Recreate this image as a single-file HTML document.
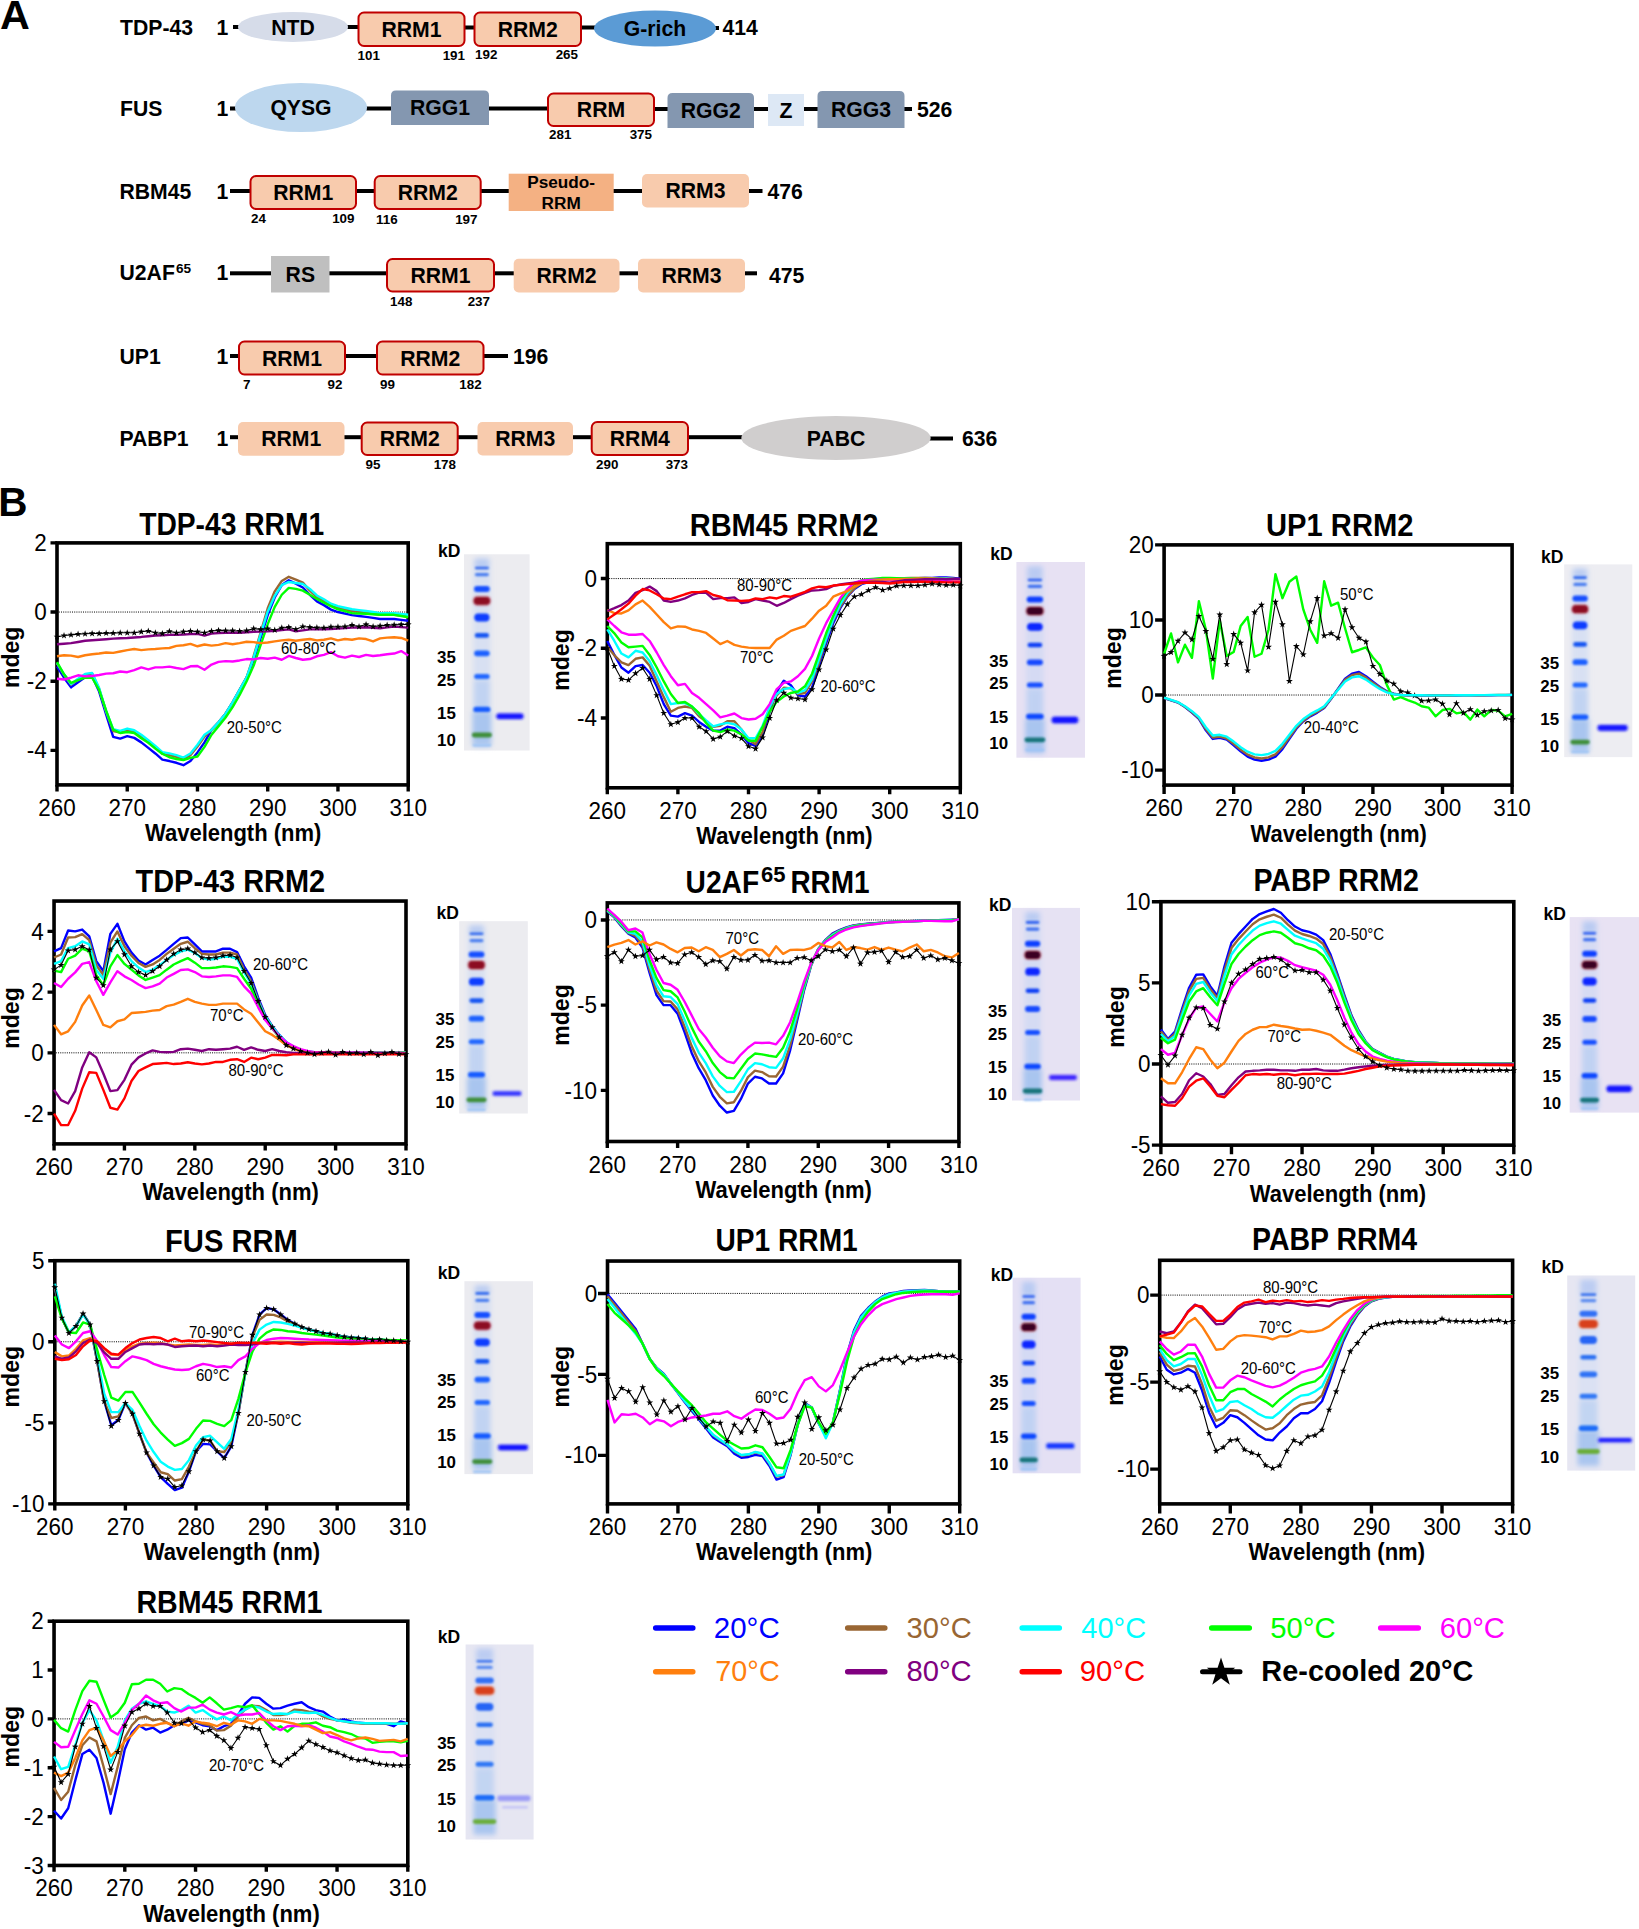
<!DOCTYPE html>
<html lang="en"><head><meta charset="utf-8"><title>Figure</title>
<style>html,body{margin:0;padding:0;background:#fff}svg{display:block}</style></head>
<body>
<svg width="1639" height="1929" viewBox="0 0 1639 1929" font-family='"Liberation Sans", sans-serif'>
<defs><filter id="b1" x="-20%" y="-20%" width="140%" height="140%"><feGaussianBlur stdDeviation="0.9"/></filter><filter id="b3" x="-30%" y="-10%" width="160%" height="120%"><feGaussianBlur stdDeviation="2.5"/></filter></defs>
<rect width="1639" height="1929" fill="#fff"/>
<text transform="translate(-0.1 29) scale(1.020 1)" font-size="40.5" font-weight="bold">A</text>
<text x="120" y="34.5" font-size="21.2" font-weight="bold">TDP-43</text>
<text x="216.5" y="34.5" font-size="21.2" font-weight="bold">1</text>
<rect x="233" y="25" width="6" height="4" fill="#000"/>
<rect x="346" y="25" width="13" height="4" fill="#000"/>
<rect x="464" y="25.5" width="11" height="4" fill="#000"/>
<rect x="580" y="25.5" width="16" height="4" fill="#000"/>
<rect x="714" y="26" width="5" height="4" fill="#000"/>
<ellipse cx="293" cy="27" rx="55" ry="15" fill="#d6dce9"/>
<text x="293" y="34.63" font-size="21.2" font-weight="bold" text-anchor="middle">NTD</text>
<rect x="358.5" y="12.5" width="106" height="33.5" rx="5.5" fill="#f8cbad" stroke="#c00000" stroke-width="2"/>
<text x="411.5" y="36.88" font-size="21.2" font-weight="bold" text-anchor="middle">RRM1</text>
<text x="357.5" y="59.5" font-size="13.4" font-weight="bold">101</text>
<text x="465" y="59.5" font-size="13.4" font-weight="bold" text-anchor="end">191</text>
<rect x="474.5" y="12.5" width="106.5" height="33.5" rx="5.5" fill="#f8cbad" stroke="#c00000" stroke-width="2"/>
<text x="527.75" y="36.88" font-size="21.2" font-weight="bold" text-anchor="middle">RRM2</text>
<text x="475" y="59" font-size="13.4" font-weight="bold">192</text>
<text x="578" y="59" font-size="13.4" font-weight="bold" text-anchor="end">265</text>
<ellipse cx="655" cy="28.5" rx="61" ry="18" fill="#5b9bd5"/>
<text x="655" y="36.13" font-size="21.2" font-weight="bold" text-anchor="middle">G-rich</text>
<text x="722.5" y="35" font-size="21.2" font-weight="bold">414</text>
<text x="120" y="115.5" font-size="21.2" font-weight="bold">FUS</text>
<text x="216.5" y="115.5" font-size="21.2" font-weight="bold">1</text>
<rect x="230" y="106.5" width="8" height="4" fill="#000"/>
<rect x="365" y="106.5" width="28" height="4" fill="#000"/>
<rect x="487" y="106.5" width="62" height="4" fill="#000"/>
<rect x="653" y="107" width="16" height="4" fill="#000"/>
<rect x="752" y="107" width="18" height="4" fill="#000"/>
<rect x="802" y="107" width="17" height="4" fill="#000"/>
<rect x="903" y="107" width="9" height="4" fill="#000"/>
<ellipse cx="301" cy="107.5" rx="66" ry="24.5" fill="#bdd7ee"/>
<text x="301" y="115.13" font-size="21.2" font-weight="bold" text-anchor="middle">QYSG</text>
<path d="M391 125V95.5Q391 90.5 396 90.5H484Q489 90.5 489 95.5V125Z" fill="#8497b0"/>
<text x="440" y="115.38" font-size="21.2" font-weight="bold" text-anchor="middle">RGG1</text>
<rect x="548" y="93.5" width="106" height="32.5" rx="5.5" fill="#f8cbad" stroke="#c00000" stroke-width="2"/>
<text x="601" y="117.38" font-size="21.2" font-weight="bold" text-anchor="middle">RRM</text>
<text x="549" y="139" font-size="13.4" font-weight="bold">281</text>
<text x="652" y="139" font-size="13.4" font-weight="bold" text-anchor="end">375</text>
<path d="M667.5 128V98Q667.5 93 672.5 93H749Q754 93 754 98V128Z" fill="#8497b0"/>
<text x="710.75" y="118.13" font-size="21.2" font-weight="bold" text-anchor="middle">RGG2</text>
<rect x="768" y="94" width="36" height="32" fill="#dde8f5"/>
<text x="786" y="117.63" font-size="21.2" font-weight="bold" text-anchor="middle">Z</text>
<path d="M817.5 128V96Q817.5 91 822.5 91H899.5Q904.5 91 904.5 96V128Z" fill="#8497b0"/>
<text x="861" y="117.13" font-size="21.2" font-weight="bold" text-anchor="middle">RGG3</text>
<text x="917" y="117" font-size="21.2" font-weight="bold">526</text>
<text x="119.5" y="198.7" font-size="21.2" font-weight="bold">RBM45</text>
<text x="216.5" y="198.7" font-size="21.2" font-weight="bold">1</text>
<rect x="230" y="189" width="21" height="4" fill="#000"/>
<rect x="355" y="189" width="20" height="4" fill="#000"/>
<rect x="480" y="189" width="30" height="4" fill="#000"/>
<rect x="612" y="189" width="32" height="4" fill="#000"/>
<rect x="749" y="189" width="13.5" height="4" fill="#000"/>
<rect x="250.5" y="176" width="105.5" height="33" rx="5.5" fill="#f8cbad" stroke="#c00000" stroke-width="2"/>
<text x="303.25" y="200.13" font-size="21.2" font-weight="bold" text-anchor="middle">RRM1</text>
<text x="251" y="222.5" font-size="13.4" font-weight="bold">24</text>
<text x="354.5" y="222.5" font-size="13.4" font-weight="bold" text-anchor="end">109</text>
<rect x="374.7" y="176" width="106" height="33" rx="5.5" fill="#f8cbad" stroke="#c00000" stroke-width="2"/>
<text x="427.7" y="200.13" font-size="21.2" font-weight="bold" text-anchor="middle">RRM2</text>
<text x="376" y="223.7" font-size="13.4" font-weight="bold">116</text>
<text x="477.5" y="223.7" font-size="13.4" font-weight="bold" text-anchor="end">197</text>
<rect x="508.7" y="173.7" width="105" height="37.3" fill="#f4b183"/>
<text x="561.2" y="187.5" font-size="17.2" font-weight="bold" text-anchor="middle">Pseudo-</text>
<text x="561.2" y="208.5" font-size="17.2" font-weight="bold" text-anchor="middle">RRM</text>
<rect x="642" y="174" width="107" height="33.5" rx="5" fill="#f8cbad"/>
<text x="695.5" y="198.38" font-size="21.2" font-weight="bold" text-anchor="middle">RRM3</text>
<text x="767.5" y="198.7" font-size="21.2" font-weight="bold">476</text>
<text x="119.5" y="280.3" font-size="21.2" font-weight="bold">U2AF</text>
<text x="176" y="272.8" font-size="13.6" font-weight="bold">65</text>
<text x="216.5" y="280.3" font-size="21.2" font-weight="bold">1</text>
<rect x="230" y="271.3" width="42" height="4" fill="#000"/>
<rect x="328" y="271.3" width="60" height="4" fill="#000"/>
<rect x="493" y="271.3" width="22" height="4" fill="#000"/>
<rect x="618" y="271.3" width="22" height="4" fill="#000"/>
<rect x="745" y="271.3" width="12" height="4" fill="#000"/>
<rect x="271" y="256" width="58.5" height="36.5" fill="#bfbfbf"/>
<text x="300.3" y="281.93" font-size="21.2" font-weight="bold" text-anchor="middle">RS</text>
<rect x="387" y="259" width="107" height="32.5" rx="5.5" fill="#f8cbad" stroke="#c00000" stroke-width="2"/>
<text x="440.5" y="282.88" font-size="21.2" font-weight="bold" text-anchor="middle">RRM1</text>
<text x="390" y="306" font-size="13.4" font-weight="bold">148</text>
<text x="490" y="306" font-size="13.4" font-weight="bold" text-anchor="end">237</text>
<rect x="513.7" y="258.7" width="105.8" height="33.8" rx="5" fill="#f8cbad"/>
<text x="566.6" y="283.23" font-size="21.2" font-weight="bold" text-anchor="middle">RRM2</text>
<rect x="638" y="258.7" width="107" height="33.8" rx="5" fill="#f8cbad"/>
<text x="691.5" y="283.23" font-size="21.2" font-weight="bold" text-anchor="middle">RRM3</text>
<text x="769" y="282.5" font-size="21.2" font-weight="bold">475</text>
<text x="119.5" y="363.7" font-size="21.2" font-weight="bold">UP1</text>
<text x="216.5" y="363.7" font-size="21.2" font-weight="bold">1</text>
<rect x="230" y="354" width="10" height="4" fill="#000"/>
<rect x="344" y="354" width="34" height="4" fill="#000"/>
<rect x="482" y="354" width="26" height="4" fill="#000"/>
<rect x="239" y="341.5" width="106" height="33" rx="5.5" fill="#f8cbad" stroke="#c00000" stroke-width="2"/>
<text x="292" y="365.63" font-size="21.2" font-weight="bold" text-anchor="middle">RRM1</text>
<text x="243" y="388.7" font-size="13.4" font-weight="bold">7</text>
<text x="342.5" y="388.7" font-size="13.4" font-weight="bold" text-anchor="end">92</text>
<rect x="377" y="341.5" width="106.5" height="33" rx="5.5" fill="#f8cbad" stroke="#c00000" stroke-width="2"/>
<text x="430.25" y="365.63" font-size="21.2" font-weight="bold" text-anchor="middle">RRM2</text>
<text x="380" y="388.7" font-size="13.4" font-weight="bold">99</text>
<text x="481.7" y="388.7" font-size="13.4" font-weight="bold" text-anchor="end">182</text>
<text x="513" y="363.7" font-size="21.2" font-weight="bold">196</text>
<text x="119.5" y="445.5" font-size="21.2" font-weight="bold">PABP1</text>
<text x="216.5" y="445.5" font-size="21.2" font-weight="bold">1</text>
<rect x="230" y="435.2" width="9" height="4" fill="#000"/>
<rect x="344" y="435.2" width="18" height="4" fill="#000"/>
<rect x="457" y="435.2" width="21" height="4" fill="#000"/>
<rect x="572" y="435.2" width="20" height="4" fill="#000"/>
<rect x="687" y="435.2" width="56" height="4" fill="#000"/>
<rect x="929" y="436.5" width="24" height="4" fill="#000"/>
<rect x="238" y="422" width="106.5" height="33.7" rx="5" fill="#f8cbad"/>
<text x="291.25" y="446.48" font-size="21.2" font-weight="bold" text-anchor="middle">RRM1</text>
<rect x="361.7" y="422.5" width="96" height="32.5" rx="5.5" fill="#f8cbad" stroke="#c00000" stroke-width="2"/>
<text x="409.7" y="446.38" font-size="21.2" font-weight="bold" text-anchor="middle">RRM2</text>
<text x="365.5" y="468.7" font-size="13.4" font-weight="bold">95</text>
<text x="456" y="468.7" font-size="13.4" font-weight="bold" text-anchor="end">178</text>
<rect x="477.5" y="422" width="95.5" height="33.5" rx="5" fill="#f8cbad"/>
<text x="525.25" y="446.38" font-size="21.2" font-weight="bold" text-anchor="middle">RRM3</text>
<rect x="591.7" y="422" width="96.3" height="33" rx="5.5" fill="#f8cbad" stroke="#c00000" stroke-width="2"/>
<text x="639.85" y="446.13" font-size="21.2" font-weight="bold" text-anchor="middle">RRM4</text>
<text x="596" y="468.7" font-size="13.4" font-weight="bold">290</text>
<text x="688" y="468.7" font-size="13.4" font-weight="bold" text-anchor="end">373</text>
<ellipse cx="836" cy="438" rx="94.7" ry="22" fill="#d0cece"/>
<text x="836" y="445.63" font-size="21.2" font-weight="bold" text-anchor="middle">PABC</text>
<text x="962" y="445.5" font-size="21.2" font-weight="bold">636</text>
<text transform="translate(-1.8 516.3) scale(1.000 1)" font-size="40.5" font-weight="bold">B</text>
<rect x="57" y="542.9" width="351.2" height="242" fill="none" stroke="#000" stroke-width="3.6"/>
<path d="M57 784.9V791.4M127.24 784.9V791.4M197.48 784.9V791.4M267.72 784.9V791.4M337.96 784.9V791.4M408.2 784.9V791.4M57 542.9H50.5M57 612.04H50.5M57 681.19H50.5M57 750.33H50.5" stroke="#000" stroke-width="3.4" fill="none"/>
<line x1="58.8" y1="612.04" x2="408.2" y2="612.04" stroke="#000" stroke-width="1" stroke-dasharray="1 1.2"/>
<g fill="none" stroke-linejoin="round" stroke-linecap="butt">
<polyline points="57,666.32 64.02,677.73 71.05,687.41 78.07,682.22 85.1,677.38 92.12,676.35 99.14,691.56 106.17,714.72 113.19,736.85 120.22,738.57 127.24,736.15 134.26,737.88 141.29,742.38 148.31,747.91 155.34,753.44 162.36,759.66 169.38,761.05 176.41,762.77 183.43,765.19 190.46,761.05 197.48,752.4 204.5,742.38 211.53,729.93 218.55,722.33 225.58,713.68 232.6,702.27 239.62,689.83 246.65,677.38 253.67,660.1 260.7,637.63 267.72,615.15 274.74,597.52 281.77,585.08 288.79,580.24 295.82,583.69 302.84,587.5 309.86,594.76 316.89,601.33 323.91,605.13 330.94,609.62 337.96,612.04 344.98,613.6 352.01,615.15 359.03,616.02 366.06,616.88 373.08,617.92 380.1,618.96 387.13,618.96 394.15,618.96 401.18,619.82 408.2,620.69" stroke="#0000ff" stroke-width="2.4"/>
<polyline points="57,663.55 64.02,674.96 71.05,684.64 78.07,679.46 85.1,674.62 92.12,673.58 99.14,688.79 106.17,711.95 113.19,730.97 120.22,732.7 127.24,730.28 134.26,732.01 141.29,736.5 148.31,742.03 155.34,747.56 162.36,753.79 169.38,755.17 176.41,756.9 183.43,759.32 190.46,755.17 197.48,746.53 204.5,736.5 211.53,729.93 218.55,722.33 225.58,713.68 232.6,702.27 239.62,689.83 246.65,677.38 253.67,655.95 260.7,632.44 267.72,608.24 274.74,591.3 281.77,580.93 288.79,576.78 295.82,579.55 302.84,582.66 309.86,590.61 316.89,597.18 323.91,600.98 330.94,605.47 337.96,607.89 344.98,609.45 352.01,611.01 359.03,611.87 366.06,612.73 373.08,613.77 380.1,614.81 387.13,614.81 394.15,614.81 401.18,615.67 408.2,616.54" stroke="#996633" stroke-width="2.4"/>
<polyline points="57,662.86 64.02,674.27 71.05,683.95 78.07,678.77 85.1,673.93 92.12,672.89 99.14,688.1 106.17,711.26 113.19,729.24 120.22,730.97 127.24,728.55 134.26,730.28 141.29,734.77 148.31,740.3 155.34,745.83 162.36,752.06 169.38,753.44 176.41,755.17 183.43,757.59 190.46,753.44 197.48,744.8 204.5,734.77 211.53,729.93 218.55,722.33 225.58,713.68 232.6,702.27 239.62,689.83 246.65,677.38 253.67,657.33 260.7,634.17 267.72,611.7 274.74,595.79 281.77,585.08 288.79,581.97 295.82,583 302.84,584.04 309.86,588.88 316.89,595.45 323.91,599.25 330.94,603.75 337.96,606.17 344.98,607.72 352.01,609.28 359.03,610.14 366.06,611.01 373.08,612.04 380.1,613.08 387.13,613.08 394.15,613.08 401.18,613.94 408.2,614.81" stroke="#00ffff" stroke-width="2.4"/>
<polyline points="57,662.17 64.02,674.27 71.05,682.91 78.07,680.15 85.1,677.73 92.12,677.73 99.14,689.83 106.17,710.57 113.19,729.59 120.22,733.04 127.24,732.01 134.26,733.04 141.29,738.23 148.31,742.72 155.34,748.6 162.36,753.79 169.38,757.24 176.41,758.97 183.43,760.01 190.46,757.93 197.48,756.55 204.5,746.87 211.53,734.77 218.55,726.13 225.58,717.49 232.6,707.11 239.62,695.01 246.65,681.19 253.67,665.63 260.7,644.89 267.72,624.14 274.74,606.86 281.77,594.76 288.79,587.84 295.82,588.88 302.84,590.61 309.86,594.76 316.89,598.91 323.91,602.71 330.94,606.17 337.96,609.28 344.98,611.18 352.01,613.08 359.03,613.43 366.06,613.77 373.08,614.29 380.1,614.81 387.13,614.81 394.15,614.81 401.18,616.02 408.2,617.23" stroke="#00ff00" stroke-width="2.4"/>
<polyline points="57,678.77 64.02,679.46 71.05,677.73 78.07,675.31 85.1,676.35 92.12,676 99.14,674.96 106.17,673.58 113.19,673.23 120.22,671.51 127.24,672.2 134.26,670.12 141.29,667.36 148.31,669.43 155.34,667.36 162.36,667.36 169.38,666.67 176.41,668.05 183.43,669.09 190.46,666.32 197.48,665.97 204.5,669.78 211.53,664.59 218.55,661.83 225.58,661.13 232.6,661.48 239.62,660.44 246.65,659.06 253.67,659.41 260.7,658.02 267.72,658.71 274.74,657.68 281.77,659.75 288.79,655.95 295.82,658.02 302.84,659.75 309.86,659.06 316.89,656.29 323.91,654.91 330.94,652.15 337.96,656.29 344.98,657.68 352.01,655.6 359.03,656.99 366.06,654.91 373.08,655.95 380.1,655.26 387.13,654.22 394.15,653.53 401.18,651.11 408.2,655.6" stroke="#ff00ff" stroke-width="2.4"/>
<polyline points="57,656.29 64.02,655.26 71.05,655.6 78.07,656.99 85.1,655.26 92.12,654.22 99.14,653.53 106.17,652.49 113.19,652.84 120.22,651.45 127.24,650.07 134.26,649.03 141.29,650.07 148.31,649.38 155.34,649.03 162.36,648.34 169.38,648 176.41,645.92 183.43,645.23 190.46,643.85 197.48,646.27 204.5,644.54 211.53,645.58 218.55,644.89 225.58,643.16 232.6,644.19 239.62,643.16 246.65,641.77 253.67,642.12 260.7,643.16 267.72,642.47 274.74,641.43 281.77,640.39 288.79,639.7 295.82,640.74 302.84,639.7 309.86,639.01 316.89,640.39 323.91,639.7 330.94,638.32 337.96,640.39 344.98,639.01 352.01,639.7 359.03,638.32 366.06,639.01 373.08,641.43 380.1,638.32 387.13,637.63 394.15,637.28 401.18,637.97 408.2,640.74" stroke="#ff7f0e" stroke-width="2.4"/>
<polyline points="57,644.19 64.02,643.68 71.05,643.16 78.07,641.95 85.1,640.74 92.12,640.22 99.14,639.7 106.17,639.18 113.19,638.66 120.22,638.32 127.24,637.97 134.26,637.45 141.29,636.93 148.31,636.24 155.34,635.55 162.36,635.21 169.38,634.86 176.41,634.69 183.43,634.51 190.46,634.17 197.48,633.82 204.5,635.55 211.53,633.48 218.55,633.13 225.58,632.79 232.6,632.79 239.62,632.79 246.65,632.27 253.67,631.75 260.7,631.58 267.72,631.4 274.74,630.71 281.77,630.02 288.79,629.33 295.82,631.4 302.84,630.37 309.86,629.33 316.89,629.33 323.91,629.33 330.94,628.98 337.96,628.64 344.98,628.12 352.01,627.6 359.03,627.43 366.06,627.25 373.08,627.77 380.1,628.29 387.13,627.43 394.15,626.56 401.18,627.08 408.2,627.6" stroke="#800080" stroke-width="2.4"/>
<polyline points="57,636.93 64.02,635.55 71.05,634.86 78.07,634.17 85.1,633.82 92.12,633.48 99.14,633.48 106.17,633.13 113.19,633.13 120.22,632.79 127.24,632.79 134.26,632.79 141.29,631.75 148.31,631.06 155.34,632.79 162.36,633.48 169.38,631.4 176.41,632.79 183.43,631.75 190.46,631.06 197.48,631.75 204.5,632.79 211.53,631.06 218.55,630.37 225.58,630.71 232.6,630.71 239.62,631.06 246.65,630.71 253.67,628.64 260.7,629.33 267.72,628.64 274.74,630.02 281.77,627.95 288.79,627.25 295.82,629.33 302.84,626.56 309.86,627.25 316.89,627.6 323.91,627.95 330.94,626.91 337.96,626.91 344.98,626.56 352.01,625.18 359.03,626.56 366.06,624.49 373.08,626.56 380.1,625.87 387.13,625.18 394.15,624.83 401.18,624.49 408.2,624.49" stroke="#000" stroke-width="1.1"/>
<path d="M57 633.33L57.82 635.8L60.42 635.82L58.33 637.37L59.12 639.85L57 638.33L54.88 639.85L55.67 637.37L53.58 635.82L56.18 635.8ZM64.02 631.95L64.85 634.42L67.45 634.44L65.36 635.98L66.14 638.46L64.02 636.95L61.91 638.46L62.69 635.98L60.6 634.44L63.2 634.42ZM71.05 631.26L71.87 633.73L74.47 633.75L72.38 635.29L73.16 637.77L71.05 636.26L68.93 637.77L69.72 635.29L67.62 633.75L70.23 633.73ZM78.07 630.57L78.89 633.04L81.5 633.06L79.4 634.6L80.19 637.08L78.07 635.57L75.96 637.08L76.74 634.6L74.65 633.06L77.25 633.04ZM85.1 630.22L85.92 632.69L88.52 632.71L86.43 634.26L87.21 636.74L85.1 635.22L82.98 636.74L83.76 634.26L81.67 632.71L84.27 632.69ZM92.12 629.88L92.94 632.34L95.54 632.36L93.45 633.91L94.24 636.39L92.12 634.88L90 636.39L90.79 633.91L88.7 632.36L91.3 632.34ZM99.14 629.88L99.97 632.34L102.57 632.36L100.48 633.91L101.26 636.39L99.14 634.88L97.03 636.39L97.81 633.91L95.72 632.36L98.32 632.34ZM106.17 629.53L106.99 632L109.59 632.02L107.5 633.56L108.28 636.04L106.17 634.53L104.05 636.04L104.84 633.56L102.74 632.02L105.35 632ZM113.19 629.53L114.01 632L116.62 632.02L114.52 633.56L115.31 636.04L113.19 634.53L111.08 636.04L111.86 633.56L109.77 632.02L112.37 632ZM120.22 629.19L121.04 631.65L123.64 631.67L121.55 633.22L122.33 635.7L120.22 634.19L118.1 635.7L118.88 633.22L116.79 631.67L119.39 631.65ZM127.24 629.19L128.06 631.65L130.66 631.67L128.57 633.22L129.36 635.7L127.24 634.19L125.12 635.7L125.91 633.22L123.82 631.67L126.42 631.65ZM134.26 629.19L135.09 631.65L137.69 631.67L135.6 633.22L136.38 635.7L134.26 634.19L132.15 635.7L132.93 633.22L130.84 631.67L133.44 631.65ZM141.29 628.15L142.11 630.62L144.71 630.64L142.62 632.18L143.4 634.66L141.29 633.15L139.17 634.66L139.96 632.18L137.86 630.64L140.47 630.62ZM148.31 627.46L149.13 629.92L151.74 629.94L149.64 631.49L150.43 633.97L148.31 632.46L146.2 633.97L146.98 631.49L144.89 629.94L147.49 629.92ZM155.34 629.19L156.16 631.65L158.76 631.67L156.67 633.22L157.45 635.7L155.34 634.19L153.22 635.7L154 633.22L151.91 631.67L154.51 631.65ZM162.36 629.88L163.18 632.34L165.78 632.36L163.69 633.91L164.48 636.39L162.36 634.88L160.24 636.39L161.03 633.91L158.94 632.36L161.54 632.34ZM169.38 627.8L170.21 630.27L172.81 630.29L170.72 631.84L171.5 634.32L169.38 632.8L167.27 634.32L168.05 631.84L165.96 630.29L168.56 630.27ZM176.41 629.19L177.23 631.65L179.83 631.67L177.74 633.22L178.52 635.7L176.41 634.19L174.29 635.7L175.08 633.22L172.98 631.67L175.59 631.65ZM183.43 628.15L184.25 630.62L186.86 630.64L184.76 632.18L185.55 634.66L183.43 633.15L181.32 634.66L182.1 632.18L180.01 630.64L182.61 630.62ZM190.46 627.46L191.28 629.92L193.88 629.94L191.79 631.49L192.57 633.97L190.46 632.46L188.34 633.97L189.12 631.49L187.03 629.94L189.63 629.92ZM197.48 628.15L198.3 630.62L200.9 630.64L198.81 632.18L199.6 634.66L197.48 633.15L195.36 634.66L196.15 632.18L194.06 630.64L196.66 630.62ZM204.5 629.19L205.33 631.65L207.93 631.67L205.84 633.22L206.62 635.7L204.5 634.19L202.39 635.7L203.17 633.22L201.08 631.67L203.68 631.65ZM211.53 627.46L212.35 629.92L214.95 629.94L212.86 631.49L213.64 633.97L211.53 632.46L209.41 633.97L210.2 631.49L208.1 629.94L210.71 629.92ZM218.55 626.77L219.37 629.23L221.98 629.25L219.88 630.8L220.67 633.28L218.55 631.77L216.44 633.28L217.22 630.8L215.13 629.25L217.73 629.23ZM225.58 627.11L226.4 629.58L229 629.6L226.91 631.14L227.69 633.62L225.58 632.11L223.46 633.62L224.24 631.14L222.15 629.6L224.75 629.58ZM232.6 627.11L233.42 629.58L236.02 629.6L233.93 631.14L234.72 633.62L232.6 632.11L230.48 633.62L231.27 631.14L229.18 629.6L231.78 629.58ZM239.62 627.46L240.45 629.92L243.05 629.94L240.96 631.49L241.74 633.97L239.62 632.46L237.51 633.97L238.29 631.49L236.2 629.94L238.8 629.92ZM246.65 627.11L247.47 629.58L250.07 629.6L247.98 631.14L248.76 633.62L246.65 632.11L244.53 633.62L245.32 631.14L243.22 629.6L245.83 629.58ZM253.67 625.04L254.49 627.5L257.1 627.52L255 629.07L255.79 631.55L253.67 630.04L251.56 631.55L252.34 629.07L250.25 627.52L252.85 627.5ZM260.7 625.73L261.52 628.2L264.12 628.22L262.03 629.76L262.81 632.24L260.7 630.73L258.58 632.24L259.36 629.76L257.27 628.22L259.87 628.2ZM267.72 625.04L268.54 627.5L271.14 627.52L269.05 629.07L269.84 631.55L267.72 630.04L265.6 631.55L266.39 629.07L264.3 627.52L266.9 627.5ZM274.74 626.42L275.57 628.89L278.17 628.91L276.08 630.45L276.86 632.93L274.74 631.42L272.63 632.93L273.41 630.45L271.32 628.91L273.92 628.89ZM281.77 624.35L282.59 626.81L285.19 626.83L283.1 628.38L283.88 630.86L281.77 629.35L279.65 630.86L280.44 628.38L278.34 626.83L280.95 626.81ZM288.79 623.65L289.61 626.12L292.22 626.14L290.12 627.69L290.91 630.17L288.79 628.65L286.68 630.17L287.46 627.69L285.37 626.14L287.97 626.12ZM295.82 625.73L296.64 628.2L299.24 628.22L297.15 629.76L297.93 632.24L295.82 630.73L293.7 632.24L294.48 629.76L292.39 628.22L294.99 628.2ZM302.84 622.96L303.66 625.43L306.26 625.45L304.17 627L304.96 629.48L302.84 627.96L300.72 629.48L301.51 627L299.42 625.45L302.02 625.43ZM309.86 623.65L310.69 626.12L313.29 626.14L311.2 627.69L311.98 630.17L309.86 628.65L307.75 630.17L308.53 627.69L306.44 626.14L309.04 626.12ZM316.89 624L317.71 626.47L320.31 626.49L318.22 628.03L319 630.51L316.89 629L314.77 630.51L315.56 628.03L313.46 626.49L316.07 626.47ZM323.91 624.35L324.73 626.81L327.34 626.83L325.24 628.38L326.03 630.86L323.91 629.35L321.8 630.86L322.58 628.38L320.49 626.83L323.09 626.81ZM330.94 623.31L331.76 625.78L334.36 625.8L332.27 627.34L333.05 629.82L330.94 628.31L328.82 629.82L329.6 627.34L327.51 625.8L330.11 625.78ZM337.96 623.31L338.78 625.78L341.38 625.8L339.29 627.34L340.08 629.82L337.96 628.31L335.84 629.82L336.63 627.34L334.54 625.8L337.14 625.78ZM344.98 622.96L345.81 625.43L348.41 625.45L346.32 627L347.1 629.48L344.98 627.96L342.87 629.48L343.65 627L341.56 625.45L344.16 625.43ZM352.01 621.58L352.83 624.05L355.43 624.07L353.34 625.61L354.12 628.09L352.01 626.58L349.89 628.09L350.68 625.61L348.58 624.07L351.19 624.05ZM359.03 622.96L359.85 625.43L362.46 625.45L360.36 627L361.15 629.48L359.03 627.96L356.92 629.48L357.7 627L355.61 625.45L358.21 625.43ZM366.06 620.89L366.88 623.36L369.48 623.38L367.39 624.92L368.17 627.4L366.06 625.89L363.94 627.4L364.72 624.92L362.63 623.38L365.23 623.36ZM373.08 622.96L373.9 625.43L376.5 625.45L374.41 627L375.2 629.48L373.08 627.96L370.96 629.48L371.75 627L369.66 625.45L372.26 625.43ZM380.1 622.27L380.93 624.74L383.53 624.76L381.44 626.3L382.22 628.78L380.1 627.27L377.99 628.78L378.77 626.3L376.68 624.76L379.28 624.74ZM387.13 621.58L387.95 624.05L390.55 624.07L388.46 625.61L389.24 628.09L387.13 626.58L385.01 628.09L385.8 625.61L383.7 624.07L386.31 624.05ZM394.15 621.23L394.97 623.7L397.58 623.72L395.48 625.27L396.27 627.75L394.15 626.23L392.04 627.75L392.82 625.27L390.73 623.72L393.33 623.7ZM401.18 620.89L402 623.36L404.6 623.38L402.51 624.92L403.29 627.4L401.18 625.89L399.06 627.4L399.84 624.92L397.75 623.38L400.35 623.36ZM408.2 620.89L409.02 623.36L411.62 623.38L409.53 624.92L410.32 627.4L408.2 625.89L406.08 627.4L406.87 624.92L404.78 623.38L407.38 623.36Z" fill="#000" stroke="none"/>
</g>
<text transform="translate(57 815.9) scale(0.977 1)" font-size="23" text-anchor="middle">260</text>
<text transform="translate(127.24 815.9) scale(0.977 1)" font-size="23" text-anchor="middle">270</text>
<text transform="translate(197.48 815.9) scale(0.977 1)" font-size="23" text-anchor="middle">280</text>
<text transform="translate(267.72 815.9) scale(0.977 1)" font-size="23" text-anchor="middle">290</text>
<text transform="translate(337.96 815.9) scale(0.977 1)" font-size="23" text-anchor="middle">300</text>
<text transform="translate(408.2 815.9) scale(0.977 1)" font-size="23" text-anchor="middle">310</text>
<text transform="translate(46.7 551.05) scale(0.977 1)" font-size="23" text-anchor="end">2</text>
<text transform="translate(46.7 620.19) scale(0.977 1)" font-size="23" text-anchor="end">0</text>
<text transform="translate(46.7 689.34) scale(0.977 1)" font-size="23" text-anchor="end">-2</text>
<text transform="translate(46.7 758.48) scale(0.977 1)" font-size="23" text-anchor="end">-4</text>
<text transform="translate(233.2 841.4) scale(0.929 1)" font-size="23.7" font-weight="bold" text-anchor="middle">Wavelength (nm)</text>
<text transform="translate(19.1 657.4) rotate(-90) scale(0.98 1)" font-size="23.5" font-weight="bold" text-anchor="middle">mdeg</text>
<text transform="translate(139.18 535.1) scale(0.9102 1)" font-size="31" font-weight="bold">TDP-43 RRM1</text>
<text transform="translate(281 653.7) scale(0.955 1)" font-size="15.7">60-80°C</text>
<text transform="translate(226.7 732.5) scale(0.955 1)" font-size="15.7">20-50°C</text>
<rect x="607.3" y="543.7" width="353" height="244.1" fill="none" stroke="#000" stroke-width="3.6"/>
<path d="M607.3 787.8V794.3M677.9 787.8V794.3M748.5 787.8V794.3M819.1 787.8V794.3M889.7 787.8V794.3M960.3 787.8V794.3M607.3 578.57H600.8M607.3 648.31H600.8M607.3 718.06H600.8" stroke="#000" stroke-width="3.4" fill="none"/>
<line x1="609.1" y1="578.57" x2="960.3" y2="578.57" stroke="#000" stroke-width="1" stroke-dasharray="1 1.2"/>
<g fill="none" stroke-linejoin="round" stroke-linecap="butt">
<polyline points="607.3,640.99 614.36,654.94 621.42,667.49 628.48,672.72 635.54,666.1 642.6,665.05 649.66,672.72 656.72,686.32 663.78,704.11 670.84,715.62 677.9,716.66 684.96,713.18 692.02,715.62 699.08,721.89 706.14,726.77 713.2,730.61 720.26,730.61 727.32,726.77 734.38,728.17 741.44,734.45 748.5,743.16 755.56,745.95 762.62,735.49 769.68,711.78 776.74,691.55 783.8,680.74 790.86,685.28 797.92,695.39 804.98,696.44 812.04,687.72 819.1,666.1 826.16,643.43 833.22,623.21 840.28,608.21 847.34,596.7 854.4,589.03 861.46,584.15 868.52,582.06 875.58,580.32 882.64,579.27 889.7,578.92 896.76,578.57 903.82,578.57 910.88,578.22 917.94,578.22 925,577.87 932.06,577.87 939.12,577.53 946.18,577.53 953.24,577.87 960.3,578.57" stroke="#0000ff" stroke-width="2.4"/>
<polyline points="607.3,646.57 614.36,655.29 621.42,662.26 628.48,665.05 635.54,658.78 642.6,657.38 649.66,665.75 656.72,681.44 663.78,697.13 670.84,711.78 677.9,707.94 684.96,706.55 692.02,707.94 699.08,716.31 706.14,721.54 713.2,726.77 720.26,725.73 727.32,721.2 734.38,721.2 741.44,729.56 748.5,739.68 755.56,744.21 762.62,732.01 769.68,707.6 776.74,695.39 783.8,687.72 790.86,688.42 797.92,694 804.98,692.95 812.04,681.44 819.1,662.26 826.16,639.6 833.22,620.42 840.28,606.47 847.34,596.01 854.4,588.34 861.46,582.76 868.52,581.01 875.58,579.62 882.64,578.92 889.7,578.57 896.76,578.57 903.82,578.22 910.88,577.87 917.94,577.87 925,577.87 932.06,578.22 939.12,578.22 946.18,578.57 953.24,578.57 960.3,579.27" stroke="#996633" stroke-width="2.4"/>
<polyline points="607.3,629.48 614.36,640.99 621.42,653.54 628.48,657.38 635.54,650.76 642.6,652.5 649.66,661.22 656.72,675.17 663.78,690.16 670.84,704.11 677.9,703.06 684.96,703.06 692.02,706.55 699.08,714.22 706.14,720.5 713.2,726.43 720.26,724.33 727.32,722.94 734.38,724.33 741.44,729.56 748.5,738.28 755.56,738.28 762.62,725.73 769.68,706.55 776.74,694 783.8,689.11 790.86,687.72 797.92,692.95 804.98,690.16 812.04,679 819.1,658.78 826.16,638.55 833.22,619.37 840.28,604.38 847.34,592.87 854.4,585.55 861.46,581.71 868.52,579.97 875.58,578.92 882.64,578.57 889.7,578.57 896.76,578.57 903.82,578.57 910.88,578.57 917.94,578.57 925,578.57 932.06,578.57 939.12,578.57 946.18,578.57 953.24,578.92 960.3,579.62" stroke="#00ffff" stroke-width="2.4"/>
<polyline points="607.3,626 614.36,633.32 621.42,642.39 628.48,647.27 635.54,646.57 642.6,645.87 649.66,654.94 656.72,667.49 663.78,681.44 670.84,694 677.9,703.06 684.96,702.02 692.02,706.55 699.08,713.18 706.14,722.94 713.2,730.61 720.26,732.01 727.32,729.56 734.38,730.61 741.44,734.45 748.5,740.72 755.56,740.72 762.62,726.77 769.68,711.78 776.74,701.67 783.8,696.44 790.86,692.95 797.92,691.55 804.98,686.32 812.04,673.77 819.1,653.54 826.16,633.32 833.22,615.88 840.28,600.54 847.34,590.43 854.4,584.15 861.46,580.32 868.52,579.27 875.58,578.57 882.64,577.87 889.7,577.87 896.76,578.22 903.82,578.57 910.88,578.57 917.94,578.57 925,578.57 932.06,578.92 939.12,578.92 946.18,579.27 953.24,579.27 960.3,579.62" stroke="#00ff00" stroke-width="2.4"/>
<polyline points="607.3,619.37 614.36,626 621.42,632.27 628.48,634.71 635.54,634.71 642.6,634.02 649.66,640.99 656.72,652.5 663.78,665.05 670.84,676.21 677.9,685.28 684.96,683.88 692.02,692.95 699.08,697.83 706.14,704.11 713.2,710.39 720.26,717.36 727.32,715.62 734.38,713.52 741.44,718.06 748.5,719.45 755.56,718.75 762.62,714.22 769.68,704.11 776.74,689.11 783.8,682.84 790.86,681.44 797.92,676.21 804.98,668.89 812.04,655.99 819.1,638.55 826.16,623.21 833.22,610.65 840.28,598.1 847.34,589.03 854.4,582.76 861.46,580.66 868.52,579.97 875.58,579.62 882.64,579.62 889.7,579.97 896.76,579.97 903.82,579.97 910.88,580.32 917.94,580.32 925,580.66 932.06,580.66 939.12,580.66 946.18,581.01 953.24,581.01 960.3,581.36" stroke="#ff00ff" stroke-width="2.4"/>
<polyline points="607.3,609.96 614.36,613.09 621.42,613.44 628.48,610.3 635.54,604.38 642.6,600.54 649.66,606.82 656.72,614.49 663.78,622.16 670.84,628.44 677.9,626.35 684.96,626.69 692.02,629.48 699.08,630.88 706.14,632.97 713.2,638.55 720.26,644.13 727.32,640.99 734.38,644.83 741.44,646.57 748.5,647.62 755.56,647.97 762.62,647.97 769.68,647.97 776.74,639.6 783.8,635.76 790.86,630.88 797.92,628.44 804.98,626 812.04,618.67 819.1,610.65 826.16,605.77 833.22,596.7 840.28,593.57 847.34,591.13 854.4,586.59 861.46,583.45 868.52,581.71 875.58,580.32 882.64,579.62 889.7,579.27 896.76,579.27 903.82,578.92 910.88,578.92 917.94,578.57 925,578.57 932.06,578.57 939.12,578.92 946.18,578.92 953.24,579.27 960.3,579.27" stroke="#ff7f0e" stroke-width="2.4"/>
<polyline points="607.3,611 614.36,608.21 621.42,605.07 628.48,600.54 635.54,592.87 642.6,590.08 649.66,586.59 656.72,591.13 663.78,600.54 670.84,601.94 677.9,600.54 684.96,598.45 692.02,594.96 699.08,592.52 706.14,592.87 713.2,599.15 720.26,598.1 727.32,598.1 734.38,597.4 741.44,602.98 748.5,601.94 755.56,599.15 762.62,600.54 769.68,601.94 776.74,605.77 783.8,602.98 790.86,599.15 797.92,595.66 804.98,592.87 812.04,590.43 819.1,590.08 826.16,589.03 833.22,585.89 840.28,584.5 847.34,583.45 854.4,582.76 861.46,582.41 868.52,582.06 875.58,581.71 882.64,582.06 889.7,582.76 896.76,581.36 903.82,580.32 910.88,579.97 917.94,579.62 925,579.27 932.06,579.27 939.12,578.92 946.18,579.27 953.24,578.92 960.3,578.92" stroke="#800080" stroke-width="2.4"/>
<polyline points="607.3,619.37 614.36,614.49 621.42,609.26 628.48,603.68 635.54,595.66 642.6,589.03 649.66,590.43 656.72,594.26 663.78,598.45 670.84,599.15 677.9,596.7 684.96,594.26 692.02,592.17 699.08,592.17 706.14,591.13 713.2,594.96 720.26,596.7 727.32,600.19 734.38,600.54 741.44,600.89 748.5,600.54 755.56,598.45 762.62,599.15 769.68,597.4 776.74,598.45 783.8,596.01 790.86,596.7 797.92,594.26 804.98,591.82 812.04,588.34 819.1,586.59 826.16,587.29 833.22,585.55 840.28,584.85 847.34,584.15 854.4,583.45 861.46,582.76 868.52,582.76 875.58,582.76 882.64,583.1 889.7,583.45 896.76,582.76 903.82,582.06 910.88,582.06 917.94,581.71 925,581.71 932.06,582.06 939.12,582.06 946.18,582.41 953.24,582.41 960.3,582.41" stroke="#ff0000" stroke-width="2.4"/>
<polyline points="607.3,648.31 614.36,666.1 621.42,679 628.48,680.05 635.54,673.42 642.6,668.19 649.66,679 656.72,695.39 663.78,713.18 670.84,724.33 677.9,722.24 684.96,718.06 692.02,718.06 699.08,726.77 706.14,731.31 713.2,738.98 720.26,736.89 727.32,731.31 734.38,735.84 741.44,738.28 748.5,746.3 755.56,748.74 762.62,737.59 769.68,718.06 776.74,700.27 783.8,692.95 790.86,697.83 797.92,698.53 804.98,699.58 812.04,689.46 819.1,669.59 826.16,649.71 833.22,628.79 840.28,615.19 847.34,604.38 854.4,596.7 861.46,594.26 868.52,590.43 875.58,587.29 882.64,590.08 889.7,588.34 896.76,585.89 903.82,585.55 910.88,585.55 917.94,585.55 925,584.85 932.06,583.8 939.12,584.5 946.18,585.2 953.24,584.85 960.3,585.55" stroke="#000" stroke-width="1.1"/>
<path d="M607.3 644.71L608.12 647.18L610.72 647.2L608.63 648.75L609.42 651.23L607.3 649.71L605.18 651.23L605.97 648.75L603.88 647.2L606.48 647.18ZM614.36 662.5L615.18 664.97L617.78 664.99L615.69 666.53L616.48 669.01L614.36 667.5L612.24 669.01L613.03 666.53L610.94 664.99L613.54 664.97ZM621.42 675.4L622.24 677.87L624.84 677.89L622.75 679.43L623.54 681.91L621.42 680.4L619.3 681.91L620.09 679.43L618 677.89L620.6 677.87ZM628.48 676.45L629.3 678.91L631.9 678.93L629.81 680.48L630.6 682.96L628.48 681.45L626.36 682.96L627.15 680.48L625.06 678.93L627.66 678.91ZM635.54 669.82L636.36 672.29L638.96 672.31L636.87 673.85L637.66 676.33L635.54 674.82L633.42 676.33L634.21 673.85L632.12 672.31L634.72 672.29ZM642.6 664.59L643.42 667.06L646.02 667.08L643.93 668.62L644.72 671.1L642.6 669.59L640.48 671.1L641.27 668.62L639.18 667.08L641.78 667.06ZM649.66 675.4L650.48 677.87L653.08 677.89L650.99 679.43L651.78 681.91L649.66 680.4L647.54 681.91L648.33 679.43L646.24 677.89L648.84 677.87ZM656.72 691.79L657.54 694.26L660.14 694.28L658.05 695.82L658.84 698.3L656.72 696.79L654.6 698.3L655.39 695.82L653.3 694.28L655.9 694.26ZM663.78 709.58L664.6 712.04L667.2 712.06L665.11 713.61L665.9 716.09L663.78 714.58L661.66 716.09L662.45 713.61L660.36 712.06L662.96 712.04ZM670.84 720.73L671.66 723.2L674.26 723.22L672.17 724.77L672.96 727.25L670.84 725.73L668.72 727.25L669.51 724.77L667.42 723.22L670.02 723.2ZM677.9 718.64L678.72 721.11L681.32 721.13L679.23 722.67L680.02 725.15L677.9 723.64L675.78 725.15L676.57 722.67L674.48 721.13L677.08 721.11ZM684.96 714.46L685.78 716.92L688.38 716.94L686.29 718.49L687.08 720.97L684.96 719.46L682.84 720.97L683.63 718.49L681.54 716.94L684.14 716.92ZM692.02 714.46L692.84 716.92L695.44 716.94L693.35 718.49L694.14 720.97L692.02 719.46L689.9 720.97L690.69 718.49L688.6 716.94L691.2 716.92ZM699.08 723.17L699.9 725.64L702.5 725.66L700.41 727.21L701.2 729.69L699.08 728.17L696.96 729.69L697.75 727.21L695.66 725.66L698.26 725.64ZM706.14 727.71L706.96 730.18L709.56 730.2L707.47 731.74L708.26 734.22L706.14 732.71L704.02 734.22L704.81 731.74L702.72 730.2L705.32 730.18ZM713.2 735.38L714.02 737.85L716.62 737.87L714.53 739.41L715.32 741.89L713.2 740.38L711.08 741.89L711.87 739.41L709.78 737.87L712.38 737.85ZM720.26 733.29L721.08 735.76L723.68 735.78L721.59 737.32L722.38 739.8L720.26 738.29L718.14 739.8L718.93 737.32L716.84 735.78L719.44 735.76ZM727.32 727.71L728.14 730.18L730.74 730.2L728.65 731.74L729.44 734.22L727.32 732.71L725.2 734.22L725.99 731.74L723.9 730.2L726.5 730.18ZM734.38 732.24L735.2 734.71L737.8 734.73L735.71 736.27L736.5 738.75L734.38 737.24L732.26 738.75L733.05 736.27L730.96 734.73L733.56 734.71ZM741.44 734.68L742.26 737.15L744.86 737.17L742.77 738.72L743.56 741.2L741.44 739.68L739.32 741.2L740.11 738.72L738.02 737.17L740.62 737.15ZM748.5 742.7L749.32 745.17L751.92 745.19L749.83 746.74L750.62 749.22L748.5 747.7L746.38 749.22L747.17 746.74L745.08 745.19L747.68 745.17ZM755.56 745.14L756.38 747.61L758.98 747.63L756.89 749.18L757.68 751.66L755.56 750.14L753.44 751.66L754.23 749.18L752.14 747.63L754.74 747.61ZM762.62 733.99L763.44 736.45L766.04 736.47L763.95 738.02L764.74 740.5L762.62 738.99L760.5 740.5L761.29 738.02L759.2 736.47L761.8 736.45ZM769.68 714.46L770.5 716.92L773.1 716.94L771.01 718.49L771.8 720.97L769.68 719.46L767.56 720.97L768.35 718.49L766.26 716.94L768.86 716.92ZM776.74 696.67L777.56 699.14L780.16 699.16L778.07 700.71L778.86 703.19L776.74 701.67L774.62 703.19L775.41 700.71L773.32 699.16L775.92 699.14ZM783.8 689.35L784.62 691.82L787.22 691.84L785.13 693.38L785.92 695.86L783.8 694.35L781.68 695.86L782.47 693.38L780.38 691.84L782.98 691.82ZM790.86 694.23L791.68 696.7L794.28 696.72L792.19 698.26L792.98 700.74L790.86 699.23L788.74 700.74L789.53 698.26L787.44 696.72L790.04 696.7ZM797.92 694.93L798.74 697.4L801.34 697.42L799.25 698.96L800.04 701.44L797.92 699.93L795.8 701.44L796.59 698.96L794.5 697.42L797.1 697.4ZM804.98 695.98L805.8 698.44L808.4 698.46L806.31 700.01L807.1 702.49L804.98 700.98L802.86 702.49L803.65 700.01L801.56 698.46L804.16 698.44ZM812.04 685.86L812.86 688.33L815.46 688.35L813.37 689.9L814.16 692.38L812.04 690.86L809.92 692.38L810.71 689.9L808.62 688.35L811.22 688.33ZM819.1 665.99L819.92 668.45L822.52 668.47L820.43 670.02L821.22 672.5L819.1 670.99L816.98 672.5L817.77 670.02L815.68 668.47L818.28 668.45ZM826.16 646.11L826.98 648.58L829.58 648.6L827.49 650.14L828.28 652.62L826.16 651.11L824.04 652.62L824.83 650.14L822.74 648.6L825.34 648.58ZM833.22 625.19L834.04 627.65L836.64 627.67L834.55 629.22L835.34 631.7L833.22 630.19L831.1 631.7L831.89 629.22L829.8 627.67L832.4 627.65ZM840.28 611.59L841.1 614.05L843.7 614.07L841.61 615.62L842.4 618.1L840.28 616.59L838.16 618.1L838.95 615.62L836.86 614.07L839.46 614.05ZM847.34 600.78L848.16 603.24L850.76 603.26L848.67 604.81L849.46 607.29L847.34 605.78L845.22 607.29L846.01 604.81L843.92 603.26L846.52 603.24ZM854.4 593.1L855.22 595.57L857.82 595.59L855.73 597.14L856.52 599.62L854.4 598.1L852.28 599.62L853.07 597.14L850.98 595.59L853.58 595.57ZM861.46 590.66L862.28 593.13L864.88 593.15L862.79 594.7L863.58 597.18L861.46 595.66L859.34 597.18L860.13 594.7L858.04 593.15L860.64 593.13ZM868.52 586.83L869.34 589.3L871.94 589.32L869.85 590.86L870.64 593.34L868.52 591.83L866.4 593.34L867.19 590.86L865.1 589.32L867.7 589.3ZM875.58 583.69L876.4 586.16L879 586.18L876.91 587.72L877.7 590.2L875.58 588.69L873.46 590.2L874.25 587.72L872.16 586.18L874.76 586.16ZM882.64 586.48L883.46 588.95L886.06 588.97L883.97 590.51L884.76 592.99L882.64 591.48L880.52 592.99L881.31 590.51L879.22 588.97L881.82 588.95ZM889.7 584.74L890.52 587.2L893.12 587.22L891.03 588.77L891.82 591.25L889.7 589.74L887.58 591.25L888.37 588.77L886.28 587.22L888.88 587.2ZM896.76 582.29L897.58 584.76L900.18 584.78L898.09 586.33L898.88 588.81L896.76 587.29L894.64 588.81L895.43 586.33L893.34 584.78L895.94 584.76ZM903.82 581.95L904.64 584.41L907.24 584.43L905.15 585.98L905.94 588.46L903.82 586.95L901.7 588.46L902.49 585.98L900.4 584.43L903 584.41ZM910.88 581.95L911.7 584.41L914.3 584.43L912.21 585.98L913 588.46L910.88 586.95L908.76 588.46L909.55 585.98L907.46 584.43L910.06 584.41ZM917.94 581.95L918.76 584.41L921.36 584.43L919.27 585.98L920.06 588.46L917.94 586.95L915.82 588.46L916.61 585.98L914.52 584.43L917.12 584.41ZM925 581.25L925.82 583.72L928.42 583.74L926.33 585.28L927.12 587.76L925 586.25L922.88 587.76L923.67 585.28L921.58 583.74L924.18 583.72ZM932.06 580.2L932.88 582.67L935.48 582.69L933.39 584.23L934.18 586.71L932.06 585.2L929.94 586.71L930.73 584.23L928.64 582.69L931.24 582.67ZM939.12 580.9L939.94 583.37L942.54 583.39L940.45 584.93L941.24 587.41L939.12 585.9L937 587.41L937.79 584.93L935.7 583.39L938.3 583.37ZM946.18 581.6L947 584.06L949.6 584.08L947.51 585.63L948.3 588.11L946.18 586.6L944.06 588.11L944.85 585.63L942.76 584.08L945.36 584.06ZM953.24 581.25L954.06 583.72L956.66 583.74L954.57 585.28L955.36 587.76L953.24 586.25L951.12 587.76L951.91 585.28L949.82 583.74L952.42 583.72ZM960.3 581.95L961.12 584.41L963.72 584.43L961.63 585.98L962.42 588.46L960.3 586.95L958.18 588.46L958.97 585.98L956.88 584.43L959.48 584.41Z" fill="#000" stroke="none"/>
</g>
<text transform="translate(607.3 818.8) scale(0.977 1)" font-size="23" text-anchor="middle">260</text>
<text transform="translate(677.9 818.8) scale(0.977 1)" font-size="23" text-anchor="middle">270</text>
<text transform="translate(748.5 818.8) scale(0.977 1)" font-size="23" text-anchor="middle">280</text>
<text transform="translate(819.1 818.8) scale(0.977 1)" font-size="23" text-anchor="middle">290</text>
<text transform="translate(889.7 818.8) scale(0.977 1)" font-size="23" text-anchor="middle">300</text>
<text transform="translate(960.3 818.8) scale(0.977 1)" font-size="23" text-anchor="middle">310</text>
<text transform="translate(597 586.72) scale(0.977 1)" font-size="23" text-anchor="end">0</text>
<text transform="translate(597 656.46) scale(0.977 1)" font-size="23" text-anchor="end">-2</text>
<text transform="translate(597 726.21) scale(0.977 1)" font-size="23" text-anchor="end">-4</text>
<text transform="translate(784.4 844.3) scale(0.929 1)" font-size="23.7" font-weight="bold" text-anchor="middle">Wavelength (nm)</text>
<text transform="translate(569 660) rotate(-90) scale(0.98 1)" font-size="23.5" font-weight="bold" text-anchor="middle">mdeg</text>
<text transform="translate(689.66 536.1) scale(0.9374 1)" font-size="31" font-weight="bold">RBM45 RRM2</text>
<text transform="translate(737 591.2) scale(0.955 1)" font-size="15.7">80-90°C</text>
<text transform="translate(740 662.5) scale(0.955 1)" font-size="15.7">70°C</text>
<text transform="translate(820.5 692) scale(0.955 1)" font-size="15.7">20-60°C</text>
<rect x="1164.1" y="544.9" width="348" height="240.2" fill="none" stroke="#000" stroke-width="3.6"/>
<path d="M1164.1 785.1V794.1M1233.7 785.1V794.1M1303.3 785.1V794.1M1372.9 785.1V794.1M1442.5 785.1V794.1M1512.1 785.1V794.1M1164.1 544.9H1155.1M1164.1 619.96H1155.1M1164.1 695.02H1155.1M1164.1 770.09H1155.1" stroke="#000" stroke-width="3.4" fill="none"/>
<line x1="1165.9" y1="695.02" x2="1512.1" y2="695.02" stroke="#000" stroke-width="1" stroke-dasharray="1 1.2"/>
<g fill="none" stroke-linejoin="round" stroke-linecap="butt">
<polyline points="1164.1,698.03 1171.06,700.28 1178.02,702.53 1184.98,707.03 1191.94,712.59 1198.9,718.89 1205.86,730.3 1212.82,738.94 1219.78,737.81 1226.74,739.69 1233.7,745.32 1240.66,751.32 1247.62,756.58 1254.58,759.58 1261.54,760.78 1268.5,759.58 1275.46,756.58 1282.42,749.07 1289.38,738.94 1296.34,728.8 1303.3,721.3 1310.26,716.34 1317.22,712.59 1324.18,708.09 1331.14,698.78 1338.1,688.72 1345.06,678.74 1352.02,673.71 1358.98,671.91 1365.94,676.26 1372.9,681.74 1379.86,686.99 1386.82,691.27 1393.78,693.75 1400.74,695.02 1407.7,695.21 1414.66,695.4 1421.62,695.44 1428.58,695.48 1435.54,695.51 1442.5,695.55 1449.46,695.5 1456.42,695.45 1463.38,695.39 1470.34,695.34 1477.3,695.29 1484.26,695.24 1491.22,695.18 1498.18,695.13 1505.14,695.08 1512.1,695.02" stroke="#0000ff" stroke-width="2.4"/>
<polyline points="1164.1,697.88 1171.06,700.13 1178.02,702.38 1184.98,706.73 1191.94,712.02 1198.9,718.2 1205.86,729.1 1212.82,737.59 1219.78,736.61 1226.74,738.49 1233.7,743.82 1240.66,749.67 1247.62,754.62 1254.58,757.48 1261.54,758.5 1268.5,757.33 1275.46,754.32 1282.42,746.97 1289.38,737.29 1296.34,727.6 1303.3,720.4 1310.26,715.47 1317.22,711.72 1324.18,707.37 1331.14,698.48 1338.1,689.14 1345.06,679.85 1352.02,675.18 1358.98,673.65 1365.94,677.61 1372.9,682.85 1379.86,687.8 1386.82,691.72 1393.78,693.96 1400.74,695.02 1407.7,695.18 1414.66,695.34 1421.62,695.38 1428.58,695.42 1435.54,695.45 1442.5,695.49 1449.46,695.44 1456.42,695.39 1463.38,695.33 1470.34,695.28 1477.3,695.23 1484.26,695.18 1491.22,695.12 1498.18,695.07 1505.14,695.02 1512.1,694.96" stroke="#996633" stroke-width="2.4"/>
<polyline points="1164.1,653.74 1171.06,633.47 1178.02,662.37 1184.98,644.73 1191.94,657.87 1198.9,601.2 1205.86,629.72 1212.82,678.51 1219.78,620.71 1226.74,655.99 1233.7,651.86 1240.66,625.97 1247.62,616.96 1254.58,656.74 1261.54,653.74 1268.5,629.72 1275.46,574.17 1282.42,598.19 1289.38,581.68 1296.34,576.43 1303.3,609.45 1310.26,629.72 1317.22,642.86 1324.18,581.31 1331.14,605.7 1338.1,602.7 1345.06,628.22 1352.02,652.24 1358.98,649.99 1365.94,647.36 1372.9,657.49 1379.86,665 1386.82,684.89 1393.78,699.53 1400.74,697.05 1407.7,700.05 1414.66,702.53 1421.62,706.28 1428.58,707.56 1435.54,716.34 1442.5,710.04 1449.46,708.84 1456.42,713.34 1463.38,712.06 1470.34,719.65 1477.3,709.59 1484.26,716.34 1491.22,710.04 1498.18,710.56 1505.14,716.34 1512.1,713.79" stroke="#00ff00" stroke-width="2.4"/>
<polyline points="1164.1,655.99 1171.06,652.24 1178.02,640.98 1184.98,632.72 1191.94,639.48 1198.9,616.21 1205.86,631.22 1212.82,659 1219.78,614.71 1226.74,664.25 1233.7,634.22 1240.66,642.86 1247.62,670.63 1254.58,612.46 1261.54,604.95 1268.5,646.99 1275.46,601.95 1282.42,624.47 1289.38,681.21 1296.34,646.23 1303.3,654.49 1310.26,621.46 1317.22,598.19 1324.18,635.73 1331.14,633.47 1338.1,637.98 1345.06,609.45 1352.02,627.47 1358.98,637.98 1365.94,641.73 1372.9,666.13 1379.86,674.01 1386.82,680.76 1393.78,683.77 1400.74,691.27 1407.7,692.55 1414.66,695.55 1421.62,700.8 1428.58,700.58 1435.54,699.53 1442.5,703.81 1449.46,714.54 1456.42,703.28 1463.38,713.04 1470.34,709.29 1477.3,715.14 1484.26,711.31 1491.22,710.56 1498.18,710.04 1505.14,718.29 1512.1,719.65" stroke="#000" stroke-width="1.1"/>
<path d="M1164.1 652.39L1164.92 654.86L1167.52 654.88L1165.43 656.43L1166.22 658.9L1164.1 657.39L1161.98 658.9L1162.77 656.43L1160.68 654.88L1163.28 654.86ZM1171.06 648.64L1171.88 651.11L1174.48 651.13L1172.39 652.67L1173.18 655.15L1171.06 653.64L1168.94 655.15L1169.73 652.67L1167.64 651.13L1170.24 651.11ZM1178.02 637.38L1178.84 639.85L1181.44 639.87L1179.35 641.41L1180.14 643.89L1178.02 642.38L1175.9 643.89L1176.69 641.41L1174.6 639.87L1177.2 639.85ZM1184.98 629.12L1185.8 631.59L1188.4 631.61L1186.31 633.16L1187.1 635.64L1184.98 634.12L1182.86 635.64L1183.65 633.16L1181.56 631.61L1184.16 631.59ZM1191.94 635.88L1192.76 638.35L1195.36 638.37L1193.27 639.91L1194.06 642.39L1191.94 640.88L1189.82 642.39L1190.61 639.91L1188.52 638.37L1191.12 638.35ZM1198.9 612.61L1199.72 615.08L1202.32 615.1L1200.23 616.64L1201.02 619.12L1198.9 617.61L1196.78 619.12L1197.57 616.64L1195.48 615.1L1198.08 615.08ZM1205.86 627.62L1206.68 630.09L1209.28 630.11L1207.19 631.65L1207.98 634.13L1205.86 632.62L1203.74 634.13L1204.53 631.65L1202.44 630.11L1205.04 630.09ZM1212.82 655.39L1213.64 657.86L1216.24 657.88L1214.15 659.43L1214.94 661.91L1212.82 660.39L1210.7 661.91L1211.49 659.43L1209.4 657.88L1212 657.86ZM1219.78 611.11L1220.6 613.58L1223.2 613.6L1221.11 615.14L1221.9 617.62L1219.78 616.11L1217.66 617.62L1218.45 615.14L1216.36 613.6L1218.96 613.58ZM1226.74 660.65L1227.56 663.12L1230.16 663.14L1228.07 664.68L1228.86 667.16L1226.74 665.65L1224.62 667.16L1225.41 664.68L1223.32 663.14L1225.92 663.12ZM1233.7 630.62L1234.52 633.09L1237.12 633.11L1235.03 634.66L1235.82 637.14L1233.7 635.62L1231.58 637.14L1232.37 634.66L1230.28 633.11L1232.88 633.09ZM1240.66 639.26L1241.48 641.72L1244.08 641.74L1241.99 643.29L1242.78 645.77L1240.66 644.26L1238.54 645.77L1239.33 643.29L1237.24 641.74L1239.84 641.72ZM1247.62 667.03L1248.44 669.5L1251.04 669.52L1248.95 671.06L1249.74 673.54L1247.62 672.03L1245.5 673.54L1246.29 671.06L1244.2 669.52L1246.8 669.5ZM1254.58 608.86L1255.4 611.32L1258 611.34L1255.91 612.89L1256.7 615.37L1254.58 613.86L1252.46 615.37L1253.25 612.89L1251.16 611.34L1253.76 611.32ZM1261.54 601.35L1262.36 603.82L1264.96 603.84L1262.87 605.38L1263.66 607.86L1261.54 606.35L1259.42 607.86L1260.21 605.38L1258.12 603.84L1260.72 603.82ZM1268.5 643.38L1269.32 645.85L1271.92 645.87L1269.83 647.42L1270.62 649.9L1268.5 648.38L1266.38 649.9L1267.17 647.42L1265.08 645.87L1267.68 645.85ZM1275.46 598.35L1276.28 600.81L1278.88 600.84L1276.79 602.38L1277.58 604.86L1275.46 603.35L1273.34 604.86L1274.13 602.38L1272.04 600.84L1274.64 600.81ZM1282.42 620.87L1283.24 623.33L1285.84 623.35L1283.75 624.9L1284.54 627.38L1282.42 625.87L1280.3 627.38L1281.09 624.9L1279 623.35L1281.6 623.33ZM1289.38 677.61L1290.2 680.08L1292.8 680.1L1290.71 681.65L1291.5 684.13L1289.38 682.61L1287.26 684.13L1288.05 681.65L1285.96 680.1L1288.56 680.08ZM1296.34 642.63L1297.16 645.1L1299.76 645.12L1297.67 646.67L1298.46 649.15L1296.34 647.63L1294.22 649.15L1295.01 646.67L1292.92 645.12L1295.52 645.1ZM1303.3 650.89L1304.12 653.36L1306.72 653.38L1304.63 654.92L1305.42 657.4L1303.3 655.89L1301.18 657.4L1301.97 654.92L1299.88 653.38L1302.48 653.36ZM1310.26 617.86L1311.08 620.33L1313.68 620.35L1311.59 621.9L1312.38 624.38L1310.26 622.86L1308.14 624.38L1308.93 621.9L1306.84 620.35L1309.44 620.33ZM1317.22 594.59L1318.04 597.06L1320.64 597.08L1318.55 598.63L1319.34 601.11L1317.22 599.59L1315.1 601.11L1315.89 598.63L1313.8 597.08L1316.4 597.06ZM1324.18 632.13L1325 634.59L1327.6 634.61L1325.51 636.16L1326.3 638.64L1324.18 637.13L1322.06 638.64L1322.85 636.16L1320.76 634.61L1323.36 634.59ZM1331.14 629.87L1331.96 632.34L1334.56 632.36L1332.47 633.91L1333.26 636.39L1331.14 634.87L1329.02 636.39L1329.81 633.91L1327.72 632.36L1330.32 632.34ZM1338.1 634.38L1338.92 636.84L1341.52 636.87L1339.43 638.41L1340.22 640.89L1338.1 639.38L1335.98 640.89L1336.77 638.41L1334.68 636.87L1337.28 636.84ZM1345.06 605.85L1345.88 608.32L1348.48 608.34L1346.39 609.89L1347.18 612.37L1345.06 610.85L1342.94 612.37L1343.73 609.89L1341.64 608.34L1344.24 608.32ZM1352.02 623.87L1352.84 626.34L1355.44 626.36L1353.35 627.9L1354.14 630.38L1352.02 628.87L1349.9 630.38L1350.69 627.9L1348.6 626.36L1351.2 626.34ZM1358.98 634.38L1359.8 636.84L1362.4 636.87L1360.31 638.41L1361.1 640.89L1358.98 639.38L1356.86 640.89L1357.65 638.41L1355.56 636.87L1358.16 636.84ZM1365.94 638.13L1366.76 640.6L1369.36 640.62L1367.27 642.16L1368.06 644.64L1365.94 643.13L1363.82 644.64L1364.61 642.16L1362.52 640.62L1365.12 640.6ZM1372.9 662.53L1373.72 664.99L1376.32 665.01L1374.23 666.56L1375.02 669.04L1372.9 667.53L1370.78 669.04L1371.57 666.56L1369.48 665.01L1372.08 664.99ZM1379.86 670.41L1380.68 672.87L1383.28 672.9L1381.19 674.44L1381.98 676.92L1379.86 675.41L1377.74 676.92L1378.53 674.44L1376.44 672.9L1379.04 672.87ZM1386.82 677.16L1387.64 679.63L1390.24 679.65L1388.15 681.2L1388.94 683.68L1386.82 682.16L1384.7 683.68L1385.49 681.2L1383.4 679.65L1386 679.63ZM1393.78 680.17L1394.6 682.63L1397.2 682.65L1395.11 684.2L1395.9 686.68L1393.78 685.17L1391.66 686.68L1392.45 684.2L1390.36 682.65L1392.96 682.63ZM1400.74 687.67L1401.56 690.14L1404.16 690.16L1402.07 691.7L1402.86 694.18L1400.74 692.67L1398.62 694.18L1399.41 691.7L1397.32 690.16L1399.92 690.14ZM1407.7 688.95L1408.52 691.42L1411.12 691.44L1409.03 692.98L1409.82 695.46L1407.7 693.95L1405.58 695.46L1406.37 692.98L1404.28 691.44L1406.88 691.42ZM1414.66 691.95L1415.48 694.42L1418.08 694.44L1415.99 695.98L1416.78 698.46L1414.66 696.95L1412.54 698.46L1413.33 695.98L1411.24 694.44L1413.84 694.42ZM1421.62 697.2L1422.44 699.67L1425.04 699.69L1422.95 701.24L1423.74 703.72L1421.62 702.2L1419.5 703.72L1420.29 701.24L1418.2 699.69L1420.8 699.67ZM1428.58 696.98L1429.4 699.45L1432 699.47L1429.91 701.01L1430.7 703.49L1428.58 701.98L1426.46 703.49L1427.25 701.01L1425.16 699.47L1427.76 699.45ZM1435.54 695.93L1436.36 698.4L1438.96 698.42L1436.87 699.96L1437.66 702.44L1435.54 700.93L1433.42 702.44L1434.21 699.96L1432.12 698.42L1434.72 698.4ZM1442.5 700.21L1443.32 702.67L1445.92 702.69L1443.83 704.24L1444.62 706.72L1442.5 705.21L1440.38 706.72L1441.17 704.24L1439.08 702.69L1441.68 702.67ZM1449.46 710.94L1450.28 713.41L1452.88 713.43L1450.79 714.97L1451.58 717.45L1449.46 715.94L1447.34 717.45L1448.13 714.97L1446.04 713.43L1448.64 713.41ZM1456.42 699.68L1457.24 702.15L1459.84 702.17L1457.75 703.71L1458.54 706.19L1456.42 704.68L1454.3 706.19L1455.09 703.71L1453 702.17L1455.6 702.15ZM1463.38 709.44L1464.2 711.91L1466.8 711.93L1464.71 713.47L1465.5 715.95L1463.38 714.44L1461.26 715.95L1462.05 713.47L1459.96 711.93L1462.56 711.91ZM1470.34 705.69L1471.16 708.15L1473.76 708.17L1471.67 709.72L1472.46 712.2L1470.34 710.69L1468.22 712.2L1469.01 709.72L1466.92 708.17L1469.52 708.15ZM1477.3 711.54L1478.12 714.01L1480.72 714.03L1478.63 715.57L1479.42 718.05L1477.3 716.54L1475.18 718.05L1475.97 715.57L1473.88 714.03L1476.48 714.01ZM1484.26 707.71L1485.08 710.18L1487.68 710.2L1485.59 711.75L1486.38 714.23L1484.26 712.71L1482.14 714.23L1482.93 711.75L1480.84 710.2L1483.44 710.18ZM1491.22 706.96L1492.04 709.43L1494.64 709.45L1492.55 711L1493.34 713.48L1491.22 711.96L1489.1 713.48L1489.89 711L1487.8 709.45L1490.4 709.43ZM1498.18 706.44L1499 708.9L1501.6 708.93L1499.51 710.47L1500.3 712.95L1498.18 711.44L1496.06 712.95L1496.85 710.47L1494.76 708.93L1497.36 708.9ZM1505.14 714.69L1505.96 717.16L1508.56 717.18L1506.47 718.73L1507.26 721.21L1505.14 719.69L1503.02 721.21L1503.81 718.73L1501.72 717.18L1504.32 717.16ZM1512.1 716.05L1512.92 718.51L1515.52 718.53L1513.43 720.08L1514.22 722.56L1512.1 721.05L1509.98 722.56L1510.77 720.08L1508.68 718.53L1511.28 718.51Z" fill="#000" stroke="none"/>
<polyline points="1164.1,697.65 1171.06,699.9 1178.02,702.16 1184.98,706.28 1191.94,711.16 1198.9,717.17 1205.86,727.3 1212.82,735.56 1219.78,734.81 1226.74,736.68 1233.7,741.56 1240.66,747.19 1247.62,751.7 1254.58,754.32 1261.54,755.08 1268.5,753.95 1275.46,750.95 1282.42,743.82 1289.38,734.81 1296.34,725.8 1303.3,719.04 1310.26,714.17 1317.22,710.41 1324.18,706.28 1331.14,698.03 1338.1,689.77 1345.06,681.51 1352.02,677.39 1358.98,676.26 1365.94,679.64 1372.9,684.52 1379.86,689.02 1386.82,692.4 1393.78,694.27 1400.74,695.02 1407.7,695.14 1414.66,695.25 1421.62,695.29 1428.58,695.33 1435.54,695.36 1442.5,695.4 1449.46,695.35 1456.42,695.3 1463.38,695.24 1470.34,695.19 1477.3,695.14 1484.26,695.09 1491.22,695.03 1498.18,694.98 1505.14,694.93 1512.1,694.87" stroke="#00ffff" stroke-width="2.4"/>
</g>
<text transform="translate(1164.1 816.1) scale(0.977 1)" font-size="23" text-anchor="middle">260</text>
<text transform="translate(1233.7 816.1) scale(0.977 1)" font-size="23" text-anchor="middle">270</text>
<text transform="translate(1303.3 816.1) scale(0.977 1)" font-size="23" text-anchor="middle">280</text>
<text transform="translate(1372.9 816.1) scale(0.977 1)" font-size="23" text-anchor="middle">290</text>
<text transform="translate(1442.5 816.1) scale(0.977 1)" font-size="23" text-anchor="middle">300</text>
<text transform="translate(1512.1 816.1) scale(0.977 1)" font-size="23" text-anchor="middle">310</text>
<text transform="translate(1153.8 553.05) scale(0.977 1)" font-size="23" text-anchor="end">20</text>
<text transform="translate(1153.8 628.11) scale(0.977 1)" font-size="23" text-anchor="end">10</text>
<text transform="translate(1153.8 703.17) scale(0.977 1)" font-size="23" text-anchor="end">0</text>
<text transform="translate(1153.8 778.24) scale(0.977 1)" font-size="23" text-anchor="end">-10</text>
<text transform="translate(1338.7 841.6) scale(0.929 1)" font-size="23.7" font-weight="bold" text-anchor="middle">Wavelength (nm)</text>
<text transform="translate(1121 658) rotate(-90) scale(0.98 1)" font-size="23.5" font-weight="bold" text-anchor="middle">mdeg</text>
<text transform="translate(1266.05 535.75) scale(0.9404 1)" font-size="31" font-weight="bold">UP1 RRM2</text>
<text transform="translate(1340 599.5) scale(0.955 1)" font-size="15.7">50°C</text>
<text transform="translate(1303.7 732.5) scale(0.955 1)" font-size="15.7">20-40°C</text>
<rect x="54.05" y="901.05" width="351.95" height="242.85" fill="none" stroke="#000" stroke-width="3.6"/>
<path d="M54.05 1143.9V1150.4M124.44 1143.9V1150.4M194.83 1143.9V1150.4M265.22 1143.9V1150.4M335.61 1143.9V1150.4M406 1143.9V1150.4M54.05 931.41H47.55M54.05 992.12H47.55M54.05 1052.83H47.55M54.05 1113.54H47.55" stroke="#000" stroke-width="3.4" fill="none"/>
<line x1="55.85" y1="1052.83" x2="406" y2="1052.83" stroke="#000" stroke-width="1" stroke-dasharray="1 1.2"/>
<g fill="none" stroke-linejoin="round" stroke-linecap="butt">
<polyline points="54.05,951.44 61.09,948.1 68.13,930.5 75.17,931.41 82.21,929.58 89.25,936.26 96.28,961.16 103.32,971.17 110.36,933.83 117.4,923.82 124.44,941.42 131.48,952.66 138.52,960.55 145.56,964.49 152.6,959.94 159.63,955.69 166.67,949.92 173.71,943.85 180.75,938.08 187.79,937.48 194.83,944.46 201.87,951.44 208.91,951.44 215.95,951.44 222.99,948.71 230.02,948.71 237.06,952.05 244.1,966.32 251.14,977.55 258.18,997.58 265.22,1014.89 272.26,1026.12 279.3,1034.92 286.34,1042.21 293.38,1047.37 300.41,1050.4 307.45,1051.92 314.49,1052.83 321.53,1052.83 328.57,1052.83 335.61,1052.83 342.65,1052.83 349.69,1052.83 356.73,1052.83 363.77,1052.83 370.81,1052.83 377.84,1052.83 384.88,1052.83 391.92,1052.83 398.96,1052.83 406,1052.83" stroke="#0000ff" stroke-width="2.4"/>
<polyline points="54.05,957.51 61.09,954.48 68.13,937.48 75.17,937.17 82.21,934.14 89.25,940.21 96.28,965.1 103.32,975.12 110.36,942.64 117.4,931.41 124.44,946.28 131.48,955.69 138.52,962.98 145.56,966.92 152.6,964.49 159.63,959.94 166.67,953.87 173.71,948.71 180.75,943.85 187.79,941.73 194.83,948.1 201.87,953.87 208.91,954.48 215.95,954.48 222.99,952.66 230.02,952.66 237.06,954.48 244.1,969.66 251.14,981.19 258.18,1000.01 265.22,1016.1 272.26,1026.72 279.3,1035.53 286.34,1042.51 293.38,1047.67 300.41,1050.4 307.45,1051.92 314.49,1052.83 321.53,1052.83 328.57,1052.83 335.61,1052.83 342.65,1052.83 349.69,1052.83 356.73,1052.83 363.77,1052.83 370.81,1052.83 377.84,1052.83 384.88,1052.83 391.92,1052.83 398.96,1052.83 406,1052.83" stroke="#996633" stroke-width="2.4"/>
<polyline points="54.05,963.89 61.09,961.16 68.13,948.1 75.17,946.28 82.21,941.42 89.25,944.46 96.28,969.96 103.32,978.76 110.36,952.66 117.4,938.69 124.44,951.44 131.48,961.16 138.52,967.53 145.56,972.08 152.6,969.66 159.63,965.1 166.67,959.94 173.71,955.08 180.75,951.44 187.79,949.62 194.83,952.96 201.87,958.12 208.91,959.64 215.95,958.73 222.99,956.91 230.02,956.91 237.06,958.73 244.1,972.39 251.14,983.62 258.18,1001.23 265.22,1016.4 272.26,1026.72 279.3,1035.22 286.34,1041.9 293.38,1046.76 300.41,1049.8 307.45,1051.31 314.49,1052.22 321.53,1052.22 328.57,1052.22 335.61,1052.22 342.65,1052.22 349.69,1052.22 356.73,1052.22 363.77,1052.22 370.81,1052.22 377.84,1052.22 384.88,1052.22 391.92,1052.22 398.96,1052.22 406,1052.22" stroke="#00ffff" stroke-width="2.4"/>
<polyline points="54.05,970.57 61.09,972.08 68.13,958.73 75.17,955.69 82.21,948.71 89.25,951.44 96.28,975.12 103.32,985.14 110.36,966.32 117.4,955.08 124.44,963.89 131.48,969.66 138.52,975.42 145.56,979.98 152.6,977.55 159.63,975.12 166.67,969.66 173.71,964.49 180.75,961.16 187.79,958.12 194.83,962.67 201.87,968.14 208.91,968.14 215.95,967.53 222.99,966.32 230.02,966.92 237.06,968.14 244.1,978.76 251.14,988.78 258.18,1004.87 265.22,1018.53 272.26,1028.55 279.3,1037.35 286.34,1043.12 293.38,1047.37 300.41,1050.1 307.45,1051.62 314.49,1052.53 321.53,1052.53 328.57,1052.53 335.61,1052.53 342.65,1052.53 349.69,1052.53 356.73,1052.53 363.77,1052.53 370.81,1052.53 377.84,1052.53 384.88,1052.53 391.92,1052.53 398.96,1052.53 406,1052.53" stroke="#00ff00" stroke-width="2.4"/>
<polyline points="54.05,983.01 61.09,986.96 68.13,978.76 75.17,972.39 82.21,963.89 89.25,962.07 96.28,981.19 103.32,994.85 110.36,982.4 117.4,971.17 124.44,976.33 131.48,979.98 138.52,984.53 145.56,988.17 152.6,986.35 159.63,983.62 166.67,977.55 173.71,973.9 180.75,969.96 187.79,969.35 194.83,972.08 201.87,976.33 208.91,976.94 215.95,976.33 222.99,975.42 230.02,975.42 237.06,976.94 244.1,986.35 251.14,993.64 258.18,1007.3 265.22,1020.05 272.26,1028.55 279.3,1036.14 286.34,1042.21 293.38,1046.15 300.41,1049.19 307.45,1051.01 314.49,1052.22 321.53,1052.27 328.57,1052.32 335.61,1052.36 342.65,1052.41 349.69,1052.46 356.73,1052.5 363.77,1052.55 370.81,1052.6 377.84,1052.64 384.88,1052.69 391.92,1052.74 398.96,1052.78 406,1052.83" stroke="#ff00ff" stroke-width="2.4"/>
<polyline points="54.05,1024.9 61.09,1034.31 68.13,1031.28 75.17,1021.87 82.21,1005.48 89.25,995.46 96.28,1010.03 103.32,1024.9 110.36,1027.33 117.4,1021.26 124.44,1019.44 131.48,1013.06 138.52,1012.46 145.56,1011.85 152.6,1010.64 159.63,1010.03 166.67,1006.08 173.71,1004.56 180.75,1001.83 187.79,998.8 194.83,1001.83 201.87,1003.65 208.91,1004.87 215.95,1004.87 222.99,1003.65 230.02,1003.65 237.06,1003.65 244.1,1009.42 251.14,1013.67 258.18,1022.48 265.22,1031.28 272.26,1034.92 279.3,1039.78 286.34,1045.24 293.38,1048.58 300.41,1051.01 307.45,1052.83 314.49,1052.87 321.53,1052.92 328.57,1052.96 335.61,1053 342.65,1053.05 349.69,1053.09 356.73,1053.13 363.77,1053.18 370.81,1053.22 377.84,1053.26 384.88,1053.31 391.92,1053.35 398.96,1053.4 406,1053.44" stroke="#ff7f0e" stroke-width="2.4"/>
<polyline points="54.05,1089.87 61.09,1100.19 68.13,1103.53 75.17,1091.08 82.21,1067.4 89.25,1052.22 96.28,1057.38 103.32,1073.47 110.36,1091.08 117.4,1090.17 124.44,1079.85 131.48,1064.67 138.52,1057.38 145.56,1053.44 152.6,1050.4 159.63,1051.92 166.67,1052.22 173.71,1051.92 180.75,1049.19 187.79,1048.58 194.83,1049.8 201.87,1051.01 208.91,1049.19 215.95,1049.8 222.99,1049.19 230.02,1048.58 237.06,1046.76 244.1,1049.8 251.14,1047.37 258.18,1049.8 265.22,1051.01 272.26,1049.19 279.3,1051.01 286.34,1052.22 293.38,1052.83 300.41,1052.87 307.45,1052.91 314.49,1052.95 321.53,1052.98 328.57,1053.02 335.61,1053.06 342.65,1053.1 349.69,1053.13 356.73,1053.17 363.77,1053.21 370.81,1053.25 377.84,1053.29 384.88,1053.32 391.92,1053.36 398.96,1053.4 406,1053.44" stroke="#800080" stroke-width="2.4"/>
<polyline points="54.05,1113.54 61.09,1125.08 68.13,1125.08 75.17,1110.81 82.21,1088.65 89.25,1072.26 96.28,1072.87 103.32,1089.87 110.36,1107.78 117.4,1109.6 124.44,1098.37 131.48,1081.06 138.52,1071.05 145.56,1067.4 152.6,1064.06 159.63,1063.46 166.67,1062.85 173.71,1064.06 180.75,1063.46 187.79,1062.24 194.83,1063.46 201.87,1064.37 208.91,1063.46 215.95,1061.94 222.99,1061.94 230.02,1059.81 237.06,1059.21 244.1,1061.94 251.14,1057.69 258.18,1059.21 265.22,1057.69 272.26,1054.96 279.3,1054.96 286.34,1055.26 293.38,1054.35 300.41,1054.35 307.45,1054.35 314.49,1054.35 321.53,1054.35 328.57,1054.35 335.61,1054.35 342.65,1054.35 349.69,1054.35 356.73,1054.35 363.77,1054.35 370.81,1054.35 377.84,1054.35 384.88,1054.35 391.92,1054.35 398.96,1054.35 406,1054.35" stroke="#ff0000" stroke-width="2.4"/>
<polyline points="54.05,969.66 61.09,965.1 68.13,950.53 75.17,949.62 82.21,946.28 89.25,949.92 96.28,977.85 103.32,985.44 110.36,949.62 117.4,941.42 124.44,954.48 131.48,966.32 138.52,972.08 145.56,975.12 152.6,971.17 159.63,966.32 166.67,959.94 173.71,953.87 180.75,949.62 187.79,948.71 194.83,952.66 201.87,957.51 208.91,958.12 215.95,957.51 222.99,955.69 230.02,955.08 237.06,957.51 244.1,971.17 251.14,983.01 258.18,1001.23 265.22,1017.01 272.26,1027.33 279.3,1037.35 286.34,1045.24 293.38,1048.58 300.41,1051.01 307.45,1052.83 314.49,1054.35 321.53,1052.83 328.57,1051.92 335.61,1054.96 342.65,1052.22 349.69,1053.44 356.73,1052.83 363.77,1054.35 370.81,1052.22 377.84,1055.26 384.88,1053.44 391.92,1052.22 398.96,1054.05 406,1054.35" stroke="#000" stroke-width="1.1"/>
<path d="M54.05 966.06L54.87 968.52L57.47 968.54L55.38 970.09L56.17 972.57L54.05 971.06L51.93 972.57L52.72 970.09L50.63 968.54L53.23 968.52ZM61.09 961.5L61.91 963.97L64.51 963.99L62.42 965.53L63.21 968.01L61.09 966.5L58.97 968.01L59.76 965.53L57.67 963.99L60.27 963.97ZM68.13 946.93L68.95 949.4L71.55 949.42L69.46 950.96L70.24 953.44L68.13 951.93L66.01 953.44L66.8 950.96L64.7 949.42L67.31 949.4ZM75.17 946.02L75.99 948.49L78.59 948.51L76.5 950.05L77.28 952.53L75.17 951.02L73.05 952.53L73.84 950.05L71.74 948.51L74.34 948.49ZM82.21 942.68L83.03 945.15L85.63 945.17L83.54 946.71L84.32 949.19L82.21 947.68L80.09 949.19L80.87 946.71L78.78 945.17L81.38 945.15ZM89.25 946.32L90.07 948.79L92.67 948.81L90.58 950.36L91.36 952.84L89.25 951.32L87.13 952.84L87.91 950.36L85.82 948.81L88.42 948.79ZM96.28 974.25L97.11 976.72L99.71 976.74L97.62 978.28L98.4 980.76L96.28 979.25L94.17 980.76L94.95 978.28L92.86 976.74L95.46 976.72ZM103.32 981.84L104.15 984.31L106.75 984.33L104.65 985.87L105.44 988.35L103.32 986.84L101.21 988.35L101.99 985.87L99.9 984.33L102.5 984.31ZM110.36 946.02L111.18 948.49L113.79 948.51L111.69 950.05L112.48 952.53L110.36 951.02L108.25 952.53L109.03 950.05L106.94 948.51L109.54 948.49ZM117.4 937.82L118.22 940.29L120.82 940.31L118.73 941.86L119.52 944.34L117.4 942.82L115.28 944.34L116.07 941.86L113.98 940.31L116.58 940.29ZM124.44 950.88L125.26 953.34L127.86 953.36L125.77 954.91L126.56 957.39L124.44 955.88L122.32 957.39L123.11 954.91L121.02 953.36L123.62 953.34ZM131.48 962.72L132.3 965.18L134.9 965.2L132.81 966.75L133.6 969.23L131.48 967.72L129.36 969.23L130.15 966.75L128.06 965.2L130.66 965.18ZM138.52 968.48L139.34 970.95L141.94 970.97L139.85 972.52L140.63 975L138.52 973.48L136.4 975L137.19 972.52L135.09 970.97L137.7 970.95ZM145.56 971.52L146.38 973.99L148.98 974.01L146.89 975.55L147.67 978.03L145.56 976.52L143.44 978.03L144.23 975.55L142.13 974.01L144.73 973.99ZM152.6 967.57L153.42 970.04L156.02 970.06L153.93 971.61L154.71 974.09L152.6 972.57L150.48 974.09L151.26 971.61L149.17 970.06L151.77 970.04ZM159.63 962.72L160.46 965.18L163.06 965.2L160.97 966.75L161.75 969.23L159.63 967.72L157.52 969.23L158.3 966.75L156.21 965.2L158.81 965.18ZM166.67 956.34L167.5 958.81L170.1 958.83L168.01 960.37L168.79 962.85L166.67 961.34L164.56 962.85L165.34 960.37L163.25 958.83L165.85 958.81ZM173.71 950.27L174.54 952.74L177.14 952.76L175.04 954.3L175.83 956.78L173.71 955.27L171.6 956.78L172.38 954.3L170.29 952.76L172.89 952.74ZM180.75 946.02L181.57 948.49L184.18 948.51L182.08 950.05L182.87 952.53L180.75 951.02L178.64 952.53L179.42 950.05L177.33 948.51L179.93 948.49ZM187.79 945.11L188.61 947.58L191.21 947.6L189.12 949.14L189.91 951.62L187.79 950.11L185.67 951.62L186.46 949.14L184.37 947.6L186.97 947.58ZM194.83 949.06L195.65 951.52L198.25 951.54L196.16 953.09L196.95 955.57L194.83 954.06L192.71 955.57L193.5 953.09L191.41 951.54L194.01 951.52ZM201.87 953.91L202.69 956.38L205.29 956.4L203.2 957.95L203.99 960.43L201.87 958.91L199.75 960.43L200.54 957.95L198.45 956.4L201.05 956.38ZM208.91 954.52L209.73 956.99L212.33 957.01L210.24 958.55L211.02 961.03L208.91 959.52L206.79 961.03L207.58 958.55L205.48 957.01L208.09 956.99ZM215.95 953.91L216.77 956.38L219.37 956.4L217.28 957.95L218.06 960.43L215.95 958.91L213.83 960.43L214.62 957.95L212.52 956.4L215.12 956.38ZM222.99 952.09L223.81 954.56L226.41 954.58L224.32 956.12L225.1 958.6L222.99 957.09L220.87 958.6L221.65 956.12L219.56 954.58L222.16 954.56ZM230.02 951.48L230.85 953.95L233.45 953.97L231.36 955.52L232.14 958L230.02 956.48L227.91 958L228.69 955.52L226.6 953.97L229.2 953.95ZM237.06 953.91L237.89 956.38L240.49 956.4L238.4 957.95L239.18 960.43L237.06 958.91L234.95 960.43L235.73 957.95L233.64 956.4L236.24 956.38ZM244.1 967.57L244.93 970.04L247.53 970.06L245.43 971.61L246.22 974.09L244.1 972.57L241.99 974.09L242.77 971.61L240.68 970.06L243.28 970.04ZM251.14 979.41L251.96 981.88L254.57 981.9L252.47 983.44L253.26 985.92L251.14 984.41L249.03 985.92L249.81 983.44L247.72 981.9L250.32 981.88ZM258.18 997.63L259 1000.09L261.6 1000.11L259.51 1001.66L260.3 1004.14L258.18 1002.63L256.06 1004.14L256.85 1001.66L254.76 1000.11L257.36 1000.09ZM265.22 1013.41L266.04 1015.88L268.64 1015.9L266.55 1017.44L267.34 1019.92L265.22 1018.41L263.1 1019.92L263.89 1017.44L261.8 1015.9L264.4 1015.88ZM272.26 1023.73L273.08 1026.2L275.68 1026.22L273.59 1027.76L274.38 1030.24L272.26 1028.73L270.14 1030.24L270.93 1027.76L268.84 1026.22L271.44 1026.2ZM279.3 1033.75L280.12 1036.22L282.72 1036.24L280.63 1037.78L281.41 1040.26L279.3 1038.75L277.18 1040.26L277.97 1037.78L275.87 1036.24L278.48 1036.22ZM286.34 1041.64L287.16 1044.11L289.76 1044.13L287.67 1045.67L288.45 1048.15L286.34 1046.64L284.22 1048.15L285.01 1045.67L282.91 1044.13L285.51 1044.11ZM293.38 1044.98L294.2 1047.45L296.8 1047.47L294.71 1049.01L295.49 1051.49L293.38 1049.98L291.26 1051.49L292.04 1049.01L289.95 1047.47L292.55 1047.45ZM300.41 1047.41L301.24 1049.88L303.84 1049.9L301.75 1051.44L302.53 1053.92L300.41 1052.41L298.3 1053.92L299.08 1051.44L296.99 1049.9L299.59 1049.88ZM307.45 1049.23L308.28 1051.7L310.88 1051.72L308.79 1053.26L309.57 1055.74L307.45 1054.23L305.34 1055.74L306.12 1053.26L304.03 1051.72L306.63 1051.7ZM314.49 1050.75L315.32 1053.22L317.92 1053.24L315.82 1054.78L316.61 1057.26L314.49 1055.75L312.38 1057.26L313.16 1054.78L311.07 1053.24L313.67 1053.22ZM321.53 1049.23L322.35 1051.7L324.96 1051.72L322.86 1053.26L323.65 1055.74L321.53 1054.23L319.42 1055.74L320.2 1053.26L318.11 1051.72L320.71 1051.7ZM328.57 1048.32L329.39 1050.79L331.99 1050.81L329.9 1052.35L330.69 1054.83L328.57 1053.32L326.45 1054.83L327.24 1052.35L325.15 1050.81L327.75 1050.79ZM335.61 1051.36L336.43 1053.82L339.03 1053.84L336.94 1055.39L337.73 1057.87L335.61 1056.36L333.49 1057.87L334.28 1055.39L332.19 1053.84L334.79 1053.82ZM342.65 1048.62L343.47 1051.09L346.07 1051.11L343.98 1052.66L344.77 1055.14L342.65 1053.62L340.53 1055.14L341.32 1052.66L339.23 1051.11L341.83 1051.09ZM349.69 1049.84L350.51 1052.31L353.11 1052.33L351.02 1053.87L351.8 1056.35L349.69 1054.84L347.57 1056.35L348.36 1053.87L346.26 1052.33L348.87 1052.31ZM356.73 1049.23L357.55 1051.7L360.15 1051.72L358.06 1053.26L358.84 1055.74L356.73 1054.23L354.61 1055.74L355.4 1053.26L353.3 1051.72L355.9 1051.7ZM363.77 1050.75L364.59 1053.22L367.19 1053.24L365.1 1054.78L365.88 1057.26L363.77 1055.75L361.65 1057.26L362.43 1054.78L360.34 1053.24L362.94 1053.22ZM370.81 1048.62L371.63 1051.09L374.23 1051.11L372.14 1052.66L372.92 1055.14L370.81 1053.62L368.69 1055.14L369.47 1052.66L367.38 1051.11L369.98 1051.09ZM377.84 1051.66L378.67 1054.13L381.27 1054.15L379.18 1055.69L379.96 1058.17L377.84 1056.66L375.73 1058.17L376.51 1055.69L374.42 1054.15L377.02 1054.13ZM384.88 1049.84L385.71 1052.31L388.31 1052.33L386.21 1053.87L387 1056.35L384.88 1054.84L382.77 1056.35L383.55 1053.87L381.46 1052.33L384.06 1052.31ZM391.92 1048.62L392.74 1051.09L395.35 1051.11L393.25 1052.66L394.04 1055.14L391.92 1053.62L389.81 1055.14L390.59 1052.66L388.5 1051.11L391.1 1051.09ZM398.96 1050.45L399.78 1052.91L402.38 1052.93L400.29 1054.48L401.08 1056.96L398.96 1055.45L396.84 1056.96L397.63 1054.48L395.54 1052.93L398.14 1052.91ZM406 1050.75L406.82 1053.22L409.42 1053.24L407.33 1054.78L408.12 1057.26L406 1055.75L403.88 1057.26L404.67 1054.78L402.58 1053.24L405.18 1053.22Z" fill="#000" stroke="none"/>
</g>
<text transform="translate(54.05 1174.9) scale(0.977 1)" font-size="23" text-anchor="middle">260</text>
<text transform="translate(124.44 1174.9) scale(0.977 1)" font-size="23" text-anchor="middle">270</text>
<text transform="translate(194.83 1174.9) scale(0.977 1)" font-size="23" text-anchor="middle">280</text>
<text transform="translate(265.22 1174.9) scale(0.977 1)" font-size="23" text-anchor="middle">290</text>
<text transform="translate(335.61 1174.9) scale(0.977 1)" font-size="23" text-anchor="middle">300</text>
<text transform="translate(406 1174.9) scale(0.977 1)" font-size="23" text-anchor="middle">310</text>
<text transform="translate(43.75 939.56) scale(0.977 1)" font-size="23" text-anchor="end">4</text>
<text transform="translate(43.75 1000.27) scale(0.977 1)" font-size="23" text-anchor="end">2</text>
<text transform="translate(43.75 1060.98) scale(0.977 1)" font-size="23" text-anchor="end">0</text>
<text transform="translate(43.75 1121.69) scale(0.977 1)" font-size="23" text-anchor="end">-2</text>
<text transform="translate(230.62 1200.4) scale(0.929 1)" font-size="23.7" font-weight="bold" text-anchor="middle">Wavelength (nm)</text>
<text transform="translate(19.1 1018) rotate(-90) scale(0.98 1)" font-size="23.5" font-weight="bold" text-anchor="middle">mdeg</text>
<text transform="translate(135.58 891.6) scale(0.9327 1)" font-size="31" font-weight="bold">TDP-43 RRM2</text>
<text transform="translate(253 970) scale(0.955 1)" font-size="15.7">20-60°C</text>
<text transform="translate(210 1020.5) scale(0.955 1)" font-size="15.7">70°C</text>
<text transform="translate(228.5 1076) scale(0.955 1)" font-size="15.7">80-90°C</text>
<rect x="607.3" y="902.9" width="351.6" height="238.6" fill="none" stroke="#000" stroke-width="3.6"/>
<path d="M607.3 1141.5V1148M677.62 1141.5V1148M747.94 1141.5V1148M818.26 1141.5V1148M888.58 1141.5V1148M958.9 1141.5V1148M607.3 919.94H600.8M607.3 1005.16H600.8M607.3 1090.37H600.8" stroke="#000" stroke-width="3.4" fill="none"/>
<line x1="609.1" y1="919.94" x2="958.9" y2="919.94" stroke="#000" stroke-width="1" stroke-dasharray="1 1.2"/>
<g fill="none" stroke-linejoin="round" stroke-linecap="butt">
<polyline points="607.3,911.42 614.33,917.39 621.36,926.25 628.4,933.58 635.43,937.5 642.46,947.55 649.49,972.61 656.52,995.1 663.56,1005.16 670.59,1005.16 677.62,1013.68 684.65,1032.43 691.68,1052.88 698.72,1068.22 705.75,1080.15 712.78,1095.48 719.81,1105.71 726.84,1112.53 733.88,1110.82 740.91,1098.89 747.94,1083.55 754.97,1076.74 762,1078.44 769.04,1083.55 776.07,1083.55 783.1,1073.33 790.13,1050.32 797.16,1020.5 804.2,989.82 811.23,965.11 818.26,948.92 825.29,940.05 832.32,933.58 839.36,930.17 846.39,927.44 853.42,925.4 860.45,924.37 867.48,923.78 874.52,923.18 881.55,922.58 888.58,921.99 895.61,921.75 902.64,921.51 909.68,921.27 916.71,921.03 923.74,920.79 930.77,920.52 937.8,920.25 944.84,919.98 951.87,919.7 958.9,919.43" stroke="#0000ff" stroke-width="2.4"/>
<polyline points="607.3,910.93 614.33,916.93 621.36,925.42 628.4,932.96 635.43,935.87 642.46,944.85 649.49,969.26 656.52,990.59 663.56,1001.17 670.59,1001.48 677.62,1009.38 684.65,1026.9 691.68,1046.13 698.72,1061.16 705.75,1072.48 712.78,1086.89 719.81,1096.81 726.84,1103.32 733.88,1102.23 740.91,1090.92 747.94,1077.11 754.97,1070.6 762,1072.06 769.04,1076.19 776.07,1076.5 783.1,1066.58 790.13,1045.26 797.16,1017.27 804.2,988.28 811.23,964.65 818.26,949.1 825.29,940.42 832.32,934.28 839.36,930.6 846.39,927.81 853.42,925.76 860.45,924.68 867.48,924.02 874.52,923.37 881.55,922.72 888.58,922.08 895.61,921.82 902.64,921.57 909.68,921.31 916.71,921.05 923.74,920.79 930.77,920.59 937.8,920.39 944.84,920.19 951.87,919.99 958.9,919.37" stroke="#996633" stroke-width="2.4"/>
<polyline points="607.3,910.33 614.33,916.36 621.36,924.41 628.4,932.21 635.43,933.88 642.46,941.55 649.49,965.17 656.52,985.08 663.56,996.29 670.59,996.98 677.62,1004.13 684.65,1020.15 691.68,1037.88 698.72,1052.54 705.75,1063.1 712.78,1076.4 719.81,1085.94 726.84,1092.08 733.88,1091.73 740.91,1081.17 747.94,1069.24 754.97,1063.1 762,1064.26 769.04,1067.19 776.07,1067.87 783.1,1058.33 790.13,1039.07 797.16,1013.34 804.2,986.41 811.23,964.08 818.26,949.32 825.29,940.87 832.32,935.15 839.36,931.12 846.39,928.26 853.42,926.21 860.45,925.06 867.48,924.32 874.52,923.59 881.55,922.89 888.58,922.19 895.61,921.91 902.64,921.63 909.68,921.35 916.71,921.07 923.74,920.79 930.77,920.68 937.8,920.57 944.84,920.46 951.87,920.35 958.9,919.3" stroke="#00ffff" stroke-width="2.4"/>
<polyline points="607.3,909.57 614.33,915.65 621.36,923.12 628.4,931.26 635.43,931.35 642.46,937.35 649.49,959.97 656.52,978.07 663.56,990.09 670.59,991.25 677.62,997.45 684.65,1011.57 691.68,1027.38 698.72,1041.56 705.75,1051.17 712.78,1063.03 719.81,1072.1 726.84,1077.76 733.88,1078.37 740.91,1068.76 747.94,1059.22 754.97,1053.56 762,1054.34 769.04,1055.74 776.07,1056.9 783.1,1047.83 790.13,1031.2 797.16,1008.33 804.2,984.02 811.23,963.37 818.26,949.61 825.29,941.44 832.32,936.24 839.36,931.79 846.39,928.83 853.42,926.79 860.45,925.53 867.48,924.7 874.52,923.88 881.55,923.11 888.58,922.34 895.61,922.03 902.64,921.72 909.68,921.41 916.71,921.1 923.74,920.79 930.77,920.79 937.8,920.79 944.84,920.79 951.87,920.79 958.9,919.2" stroke="#00ff00" stroke-width="2.4"/>
<polyline points="607.3,908.69 614.33,914.83 621.36,921.65 628.4,930.17 635.43,928.46 642.46,932.55 649.49,954.03 656.52,970.05 663.56,983 670.59,984.71 677.62,989.82 684.65,1001.75 691.68,1015.38 698.72,1029.02 705.75,1037.54 712.78,1047.76 719.81,1056.29 726.84,1061.4 733.88,1063.1 740.91,1054.58 747.94,1047.76 754.97,1042.65 762,1042.99 769.04,1042.65 776.07,1044.36 783.1,1035.83 790.13,1022.2 797.16,1002.6 804.2,981.3 811.23,962.55 818.26,949.94 825.29,942.1 832.32,937.5 839.36,932.55 846.39,929.49 853.42,927.44 860.45,926.08 867.48,925.14 874.52,924.2 881.55,923.35 888.58,922.5 895.61,922.16 902.64,921.82 909.68,921.48 916.71,921.14 923.74,920.79 930.77,920.92 937.8,921.05 944.84,921.18 951.87,921.31 958.9,919.09" stroke="#ff00ff" stroke-width="2.4"/>
<polyline points="607.3,947.04 614.33,944.65 621.36,942.95 628.4,940.05 635.43,944.48 642.46,941.25 649.49,945.51 656.52,942.44 663.56,944.48 670.59,948.92 677.62,952.32 684.65,948.06 691.68,947.55 698.72,951.3 705.75,947.21 712.78,949.94 719.81,957.1 726.84,953.86 733.88,949.94 740.91,955.56 747.94,949.94 754.97,949.26 762,949.94 769.04,956.24 776.07,946.19 783.1,953.86 790.13,949.94 797.16,949.6 804.2,949.94 811.23,948.06 818.26,942.95 825.29,946.19 832.32,947.55 839.36,941.93 846.39,949.94 853.42,947.04 860.45,948.06 867.48,949.6 874.52,947.04 881.55,949.94 888.58,947.55 895.61,949.6 902.64,951.3 909.68,947.55 916.71,944.48 923.74,951.3 930.77,949.94 937.8,952.49 944.84,956.24 951.87,957.44 958.9,953.01" stroke="#ff7f0e" stroke-width="2.4"/>
<polyline points="607.3,956.24 614.33,952.32 621.36,961.36 628.4,949.94 635.43,956.24 642.46,955.56 649.49,949.94 656.52,959.48 663.56,957.1 670.59,962.55 677.62,963.23 684.65,954.54 691.68,952.32 698.72,957.1 705.75,964.25 712.78,960.5 719.81,961.36 726.84,968.86 733.88,957.1 740.91,959.99 747.94,959.99 754.97,955.05 762,960.85 769.04,960.5 776.07,962.55 783.1,962.55 790.13,962.55 797.16,958.12 804.2,957.44 811.23,960.5 818.26,956.24 825.29,949.6 832.32,951.3 839.36,949.94 846.39,956.24 853.42,947.55 860.45,963.74 867.48,952.49 874.52,951.98 881.55,950.79 888.58,962.04 895.61,951.98 902.64,957.1 909.68,956.24 916.71,949.94 923.74,958.12 930.77,955.56 937.8,959.48 944.84,958.12 951.87,960.5 958.9,963.23" stroke="#000" stroke-width="1.1"/>
<path d="M607.3 952.64L608.12 955.11L610.72 955.13L608.63 956.68L609.42 959.16L607.3 957.64L605.18 959.16L605.97 956.68L603.88 955.13L606.48 955.11ZM614.33 948.72L615.15 951.19L617.76 951.21L615.66 952.76L616.45 955.24L614.33 953.72L612.22 955.24L613 952.76L610.91 951.21L613.51 951.19ZM621.36 957.76L622.19 960.22L624.79 960.24L622.7 961.79L623.48 964.27L621.36 962.76L619.25 964.27L620.03 961.79L617.94 960.24L620.54 960.22ZM628.4 946.34L629.22 948.81L631.82 948.83L629.73 950.37L630.51 952.85L628.4 951.34L626.28 952.85L627.06 950.37L624.97 948.83L627.57 948.81ZM635.43 952.64L636.25 955.11L638.85 955.13L636.76 956.68L637.54 959.16L635.43 957.64L633.31 959.16L634.1 956.68L632 955.13L634.61 955.11ZM642.46 951.96L643.28 954.43L645.88 954.45L643.79 956L644.58 958.47L642.46 956.96L640.34 958.47L641.13 956L639.04 954.45L641.64 954.43ZM649.49 946.34L650.31 948.81L652.92 948.83L650.82 950.37L651.61 952.85L649.49 951.34L647.38 952.85L648.16 950.37L646.07 948.83L648.67 948.81ZM656.52 955.88L657.35 958.35L659.95 958.37L657.86 959.91L658.64 962.39L656.52 960.88L654.41 962.39L655.19 959.91L653.1 958.37L655.7 958.35ZM663.56 953.5L664.38 955.96L666.98 955.98L664.89 957.53L665.67 960.01L663.56 958.5L661.44 960.01L662.22 957.53L660.13 955.98L662.73 955.96ZM670.59 958.95L671.41 961.42L674.01 961.44L671.92 962.98L672.7 965.46L670.59 963.95L668.47 965.46L669.26 962.98L667.16 961.44L669.77 961.42ZM677.62 959.63L678.44 962.1L681.04 962.12L678.95 963.66L679.74 966.14L677.62 964.63L675.5 966.14L676.29 963.66L674.2 962.12L676.8 962.1ZM684.65 950.94L685.47 953.41L688.08 953.43L685.98 954.97L686.77 957.45L684.65 955.94L682.54 957.45L683.32 954.97L681.23 953.43L683.83 953.41ZM691.68 948.72L692.51 951.19L695.11 951.21L693.02 952.76L693.8 955.24L691.68 953.72L689.57 955.24L690.35 952.76L688.26 951.21L690.86 951.19ZM698.72 953.5L699.54 955.96L702.14 955.98L700.05 957.53L700.83 960.01L698.72 958.5L696.6 960.01L697.38 957.53L695.29 955.98L697.89 955.96ZM705.75 960.65L706.57 963.12L709.17 963.14L707.08 964.69L707.86 967.17L705.75 965.65L703.63 967.17L704.42 964.69L702.32 963.14L704.93 963.12ZM712.78 956.9L713.6 959.37L716.2 959.39L714.11 960.94L714.9 963.42L712.78 961.9L710.66 963.42L711.45 960.94L709.36 959.39L711.96 959.37ZM719.81 957.76L720.63 960.22L723.24 960.24L721.14 961.79L721.93 964.27L719.81 962.76L717.7 964.27L718.48 961.79L716.39 960.24L718.99 960.22ZM726.84 965.26L727.67 967.72L730.27 967.74L728.18 969.29L728.96 971.77L726.84 970.26L724.73 971.77L725.51 969.29L723.42 967.74L726.02 967.72ZM733.88 953.5L734.7 955.96L737.3 955.98L735.21 957.53L735.99 960.01L733.88 958.5L731.76 960.01L732.54 957.53L730.45 955.98L733.05 955.96ZM740.91 956.39L741.73 958.86L744.33 958.88L742.24 960.43L743.02 962.91L740.91 961.39L738.79 962.91L739.58 960.43L737.48 958.88L740.09 958.86ZM747.94 956.39L748.76 958.86L751.36 958.88L749.27 960.43L750.06 962.91L747.94 961.39L745.82 962.91L746.61 960.43L744.52 958.88L747.12 958.86ZM754.97 951.45L755.79 953.92L758.4 953.94L756.3 955.48L757.09 957.96L754.97 956.45L752.86 957.96L753.64 955.48L751.55 953.94L754.15 953.92ZM762 957.25L762.83 959.71L765.43 959.73L763.34 961.28L764.12 963.76L762 962.25L759.89 963.76L760.67 961.28L758.58 959.73L761.18 959.71ZM769.04 956.9L769.86 959.37L772.46 959.39L770.37 960.94L771.15 963.42L769.04 961.9L766.92 963.42L767.7 960.94L765.61 959.39L768.21 959.37ZM776.07 958.95L776.89 961.42L779.49 961.44L777.4 962.98L778.18 965.46L776.07 963.95L773.95 965.46L774.74 962.98L772.64 961.44L775.25 961.42ZM783.1 958.95L783.92 961.42L786.52 961.44L784.43 962.98L785.22 965.46L783.1 963.95L780.98 965.46L781.77 962.98L779.68 961.44L782.28 961.42ZM790.13 958.95L790.95 961.42L793.56 961.44L791.46 962.98L792.25 965.46L790.13 963.95L788.02 965.46L788.8 962.98L786.71 961.44L789.31 961.42ZM797.16 954.52L797.99 956.99L800.59 957.01L798.5 958.55L799.28 961.03L797.16 959.52L795.05 961.03L795.83 958.55L793.74 957.01L796.34 956.99ZM804.2 953.84L805.02 956.3L807.62 956.32L805.53 957.87L806.31 960.35L804.2 958.84L802.08 960.35L802.86 957.87L800.77 956.32L803.37 956.3ZM811.23 956.9L812.05 959.37L814.65 959.39L812.56 960.94L813.34 963.42L811.23 961.9L809.11 963.42L809.9 960.94L807.8 959.39L810.41 959.37ZM818.26 952.64L819.08 955.11L821.68 955.13L819.59 956.68L820.38 959.16L818.26 957.64L816.14 959.16L816.93 956.68L814.84 955.13L817.44 955.11ZM825.29 946L826.11 948.46L828.72 948.48L826.62 950.03L827.41 952.51L825.29 951L823.18 952.51L823.96 950.03L821.87 948.48L824.47 948.46ZM832.32 947.7L833.15 950.17L835.75 950.19L833.66 951.73L834.44 954.21L832.32 952.7L830.21 954.21L830.99 951.73L828.9 950.19L831.5 950.17ZM839.36 946.34L840.18 948.81L842.78 948.83L840.69 950.37L841.47 952.85L839.36 951.34L837.24 952.85L838.02 950.37L835.93 948.83L838.53 948.81ZM846.39 952.64L847.21 955.11L849.81 955.13L847.72 956.68L848.5 959.16L846.39 957.64L844.27 959.16L845.06 956.68L842.96 955.13L845.57 955.11ZM853.42 943.95L854.24 946.42L856.84 946.44L854.75 947.98L855.54 950.46L853.42 948.95L851.3 950.46L852.09 947.98L850 946.44L852.6 946.42ZM860.45 960.14L861.27 962.61L863.88 962.63L861.78 964.18L862.57 966.66L860.45 965.14L858.34 966.66L859.12 964.18L857.03 962.63L859.63 962.61ZM867.48 948.89L868.31 951.36L870.91 951.38L868.82 952.93L869.6 955.41L867.48 953.89L865.37 955.41L866.15 952.93L864.06 951.38L866.66 951.36ZM874.52 948.38L875.34 950.85L877.94 950.87L875.85 952.42L876.63 954.9L874.52 953.38L872.4 954.9L873.18 952.42L871.09 950.87L873.69 950.85ZM881.55 947.19L882.37 949.66L884.97 949.68L882.88 951.22L883.66 953.7L881.55 952.19L879.43 953.7L880.22 951.22L878.12 949.68L880.73 949.66ZM888.58 958.44L889.4 960.91L892 960.93L889.91 962.47L890.7 964.95L888.58 963.44L886.46 964.95L887.25 962.47L885.16 960.93L887.76 960.91ZM895.61 948.38L896.43 950.85L899.04 950.87L896.94 952.42L897.73 954.9L895.61 953.38L893.5 954.9L894.28 952.42L892.19 950.87L894.79 950.85ZM902.64 953.5L903.47 955.96L906.07 955.98L903.98 957.53L904.76 960.01L902.64 958.5L900.53 960.01L901.31 957.53L899.22 955.98L901.82 955.96ZM909.68 952.64L910.5 955.11L913.1 955.13L911.01 956.68L911.79 959.16L909.68 957.64L907.56 959.16L908.34 956.68L906.25 955.13L908.85 955.11ZM916.71 946.34L917.53 948.81L920.13 948.83L918.04 950.37L918.82 952.85L916.71 951.34L914.59 952.85L915.38 950.37L913.28 948.83L915.89 948.81ZM923.74 954.52L924.56 956.99L927.16 957.01L925.07 958.55L925.86 961.03L923.74 959.52L921.62 961.03L922.41 958.55L920.32 957.01L922.92 956.99ZM930.77 951.96L931.59 954.43L934.2 954.45L932.1 956L932.89 958.47L930.77 956.96L928.66 958.47L929.44 956L927.35 954.45L929.95 954.43ZM937.8 955.88L938.63 958.35L941.23 958.37L939.14 959.91L939.92 962.39L937.8 960.88L935.69 962.39L936.47 959.91L934.38 958.37L936.98 958.35ZM944.84 954.52L945.66 956.99L948.26 957.01L946.17 958.55L946.95 961.03L944.84 959.52L942.72 961.03L943.5 958.55L941.41 957.01L944.01 956.99ZM951.87 956.9L952.69 959.37L955.29 959.39L953.2 960.94L953.98 963.42L951.87 961.9L949.75 963.42L950.54 960.94L948.44 959.39L951.05 959.37ZM958.9 959.63L959.72 962.1L962.32 962.12L960.23 963.66L961.02 966.14L958.9 964.63L956.78 966.14L957.57 963.66L955.48 962.12L958.08 962.1Z" fill="#000" stroke="none"/>
</g>
<text transform="translate(607.3 1172.5) scale(0.977 1)" font-size="23" text-anchor="middle">260</text>
<text transform="translate(677.62 1172.5) scale(0.977 1)" font-size="23" text-anchor="middle">270</text>
<text transform="translate(747.94 1172.5) scale(0.977 1)" font-size="23" text-anchor="middle">280</text>
<text transform="translate(818.26 1172.5) scale(0.977 1)" font-size="23" text-anchor="middle">290</text>
<text transform="translate(888.58 1172.5) scale(0.977 1)" font-size="23" text-anchor="middle">300</text>
<text transform="translate(958.9 1172.5) scale(0.977 1)" font-size="23" text-anchor="middle">310</text>
<text transform="translate(597 928.09) scale(0.977 1)" font-size="23" text-anchor="end">0</text>
<text transform="translate(597 1013.31) scale(0.977 1)" font-size="23" text-anchor="end">-5</text>
<text transform="translate(597 1098.52) scale(0.977 1)" font-size="23" text-anchor="end">-10</text>
<text transform="translate(783.7 1198) scale(0.929 1)" font-size="23.7" font-weight="bold" text-anchor="middle">Wavelength (nm)</text>
<text transform="translate(569 1015) rotate(-90) scale(0.98 1)" font-size="23.5" font-weight="bold" text-anchor="middle">mdeg</text>
<text transform="translate(685.61 893) scale(0.9082 1)" font-size="31" font-weight="bold">U2AF</text>
<text transform="translate(760.99 882.2) scale(1.0301 1)" font-size="21.4" font-weight="bold">65</text>
<text transform="translate(790.43 893) scale(0.9022 1)" font-size="31" font-weight="bold">RRM1</text>
<text transform="translate(725.5 943.7) scale(0.955 1)" font-size="15.7">70°C</text>
<text transform="translate(798 1045) scale(0.955 1)" font-size="15.7">20-60°C</text>
<rect x="1160.9" y="901.7" width="352.9" height="243.45" fill="none" stroke="#000" stroke-width="3.6"/>
<path d="M1160.9 1145.15V1154.15M1231.48 1145.15V1154.15M1302.06 1145.15V1154.15M1372.64 1145.15V1154.15M1443.22 1145.15V1154.15M1513.8 1145.15V1154.15M1160.9 901.7H1151.9M1160.9 982.85H1151.9M1160.9 1064H1151.9M1160.9 1145.15H1151.9" stroke="#000" stroke-width="3.4" fill="none"/>
<line x1="1162.7" y1="1064" x2="1513.8" y2="1064" stroke="#000" stroke-width="1" stroke-dasharray="1 1.2"/>
<g fill="none" stroke-linejoin="round" stroke-linecap="butt">
<polyline points="1160.9,1029.43 1167.96,1039.01 1175.02,1031.54 1182.07,1008.98 1189.13,987.72 1196.19,974.74 1203.25,974.41 1210.31,986.42 1217.36,995.83 1224.42,966.62 1231.48,942.76 1238.54,934.16 1245.6,926.53 1252.65,918.9 1259.71,914.03 1266.77,911.44 1273.83,909 1280.89,912.74 1287.94,920.2 1295,926.53 1302.06,930.26 1309.12,931.89 1316.18,934.65 1323.23,940.17 1330.29,953.96 1337.35,973.92 1344.41,995.18 1351.47,1015.31 1358.52,1030.24 1365.58,1041.44 1372.64,1049.07 1379.7,1052.8 1386.76,1056.53 1393.81,1058.97 1400.87,1060.27 1407.93,1061.57 1414.99,1062.21 1422.05,1062.46 1429.1,1062.7 1436.16,1063.03 1443.22,1063.35 1450.28,1063.37 1457.34,1063.38 1464.39,1063.4 1471.45,1063.42 1478.51,1063.43 1485.57,1063.45 1492.63,1063.46 1499.68,1063.48 1506.74,1063.5 1513.8,1063.51" stroke="#0000ff" stroke-width="2.4"/>
<polyline points="1160.9,1031.5 1167.96,1040.06 1175.02,1033.57 1182.07,1011.78 1189.13,991.17 1196.19,978.91 1203.25,977.86 1210.31,989.14 1217.36,998.19 1224.42,970.96 1231.48,948.08 1238.54,939.11 1245.6,931.52 1252.65,924.22 1259.71,919.31 1266.77,916.75 1273.83,914.6 1280.89,917.73 1287.94,924.58 1295,930.71 1302.06,934 1309.12,935.99 1316.18,938.54 1323.23,944.06 1330.29,957.13 1337.35,976.16 1344.41,997.05 1351.47,1016.53 1358.52,1031.17 1365.58,1041.89 1372.64,1049.35 1379.7,1053.09 1386.76,1056.7 1393.81,1059.09 1400.87,1060.39 1407.93,1061.61 1414.99,1062.26 1422.05,1062.5 1429.1,1062.74 1436.16,1063.05 1443.22,1063.35 1450.28,1063.37 1457.34,1063.39 1464.39,1063.41 1471.45,1063.43 1478.51,1063.45 1485.57,1063.47 1492.63,1063.49 1499.68,1063.51 1506.74,1063.53 1513.8,1063.55" stroke="#996633" stroke-width="2.4"/>
<polyline points="1160.9,1033.98 1167.96,1041.33 1175.02,1036 1182.07,1015.14 1189.13,995.31 1196.19,983.93 1203.25,982 1210.31,992.4 1217.36,1001.01 1224.42,976.17 1231.48,954.46 1238.54,945.05 1245.6,937.51 1252.65,930.6 1259.71,925.64 1266.77,923.13 1273.83,921.32 1280.89,923.72 1287.94,929.84 1295,935.73 1302.06,938.48 1309.12,940.9 1316.18,943.22 1323.23,948.73 1330.29,960.92 1337.35,978.83 1344.41,999.29 1351.47,1017.99 1358.52,1032.29 1365.58,1042.42 1372.64,1049.69 1379.7,1053.43 1386.76,1056.89 1393.81,1059.24 1400.87,1060.53 1407.93,1061.65 1414.99,1062.3 1422.05,1062.55 1429.1,1062.79 1436.16,1063.07 1443.22,1063.35 1450.28,1063.38 1457.34,1063.4 1464.39,1063.43 1471.45,1063.45 1478.51,1063.48 1485.57,1063.5 1492.63,1063.53 1499.68,1063.55 1506.74,1063.58 1513.8,1063.6" stroke="#00ffff" stroke-width="2.4"/>
<polyline points="1160.9,1037.71 1167.96,1043.23 1175.02,1039.65 1182.07,1020.18 1189.13,1001.51 1196.19,991.45 1203.25,988.21 1210.31,997.29 1217.36,1005.25 1224.42,983.99 1231.48,964.02 1238.54,953.96 1245.6,946.49 1252.65,940.17 1259.71,935.13 1266.77,932.7 1273.83,931.4 1280.89,932.7 1287.94,937.73 1295,943.25 1302.06,945.2 1309.12,948.28 1316.18,950.23 1323.23,955.75 1330.29,966.62 1337.35,982.85 1344.41,1002.65 1351.47,1020.18 1358.52,1033.97 1365.58,1043.23 1372.64,1050.2 1379.7,1053.94 1386.76,1057.18 1393.81,1059.46 1400.87,1060.75 1407.93,1061.73 1414.99,1062.38 1422.05,1062.62 1429.1,1062.86 1436.16,1063.11 1443.22,1063.35 1450.28,1063.38 1457.34,1063.42 1464.39,1063.45 1471.45,1063.48 1478.51,1063.51 1485.57,1063.55 1492.63,1063.58 1499.68,1063.61 1506.74,1063.64 1513.8,1063.68" stroke="#00ff00" stroke-width="2.4"/>
<polyline points="1160.9,1049.07 1167.96,1054.75 1175.02,1052.8 1182.07,1035.27 1189.13,1019.04 1196.19,1007.68 1203.25,1006.55 1210.31,1014.01 1217.36,1021.48 1224.42,1002.65 1231.48,988.21 1238.54,978.95 1245.6,972.79 1252.65,967.27 1259.71,962.72 1266.77,959.64 1273.83,957.21 1280.89,957.69 1287.94,960.78 1295,965.16 1302.06,967.27 1309.12,968.89 1316.18,970.68 1323.23,974.74 1330.29,984.8 1337.35,1000.22 1344.41,1017.74 1351.47,1032.68 1358.52,1044.04 1365.58,1051.5 1372.64,1056.53 1379.7,1058.97 1386.76,1060.75 1393.81,1061.73 1400.87,1062.7 1407.93,1063.03 1414.99,1063.35 1422.05,1063.51 1429.1,1063.68 1436.16,1063.84 1443.22,1064 1450.28,1064 1457.34,1064 1464.39,1064 1471.45,1064 1478.51,1064 1485.57,1064 1492.63,1064 1499.68,1064 1506.74,1064 1513.8,1064" stroke="#ff00ff" stroke-width="2.4"/>
<polyline points="1160.9,1078.28 1167.96,1083.31 1175.02,1083.31 1182.07,1072.28 1189.13,1058.97 1196.19,1047.28 1203.25,1049.07 1210.31,1059.78 1217.36,1068.22 1224.42,1062.7 1231.48,1051.5 1238.54,1040.79 1245.6,1033.97 1252.65,1029.75 1259.71,1027.16 1266.77,1027 1273.83,1024.72 1280.89,1026.02 1287.94,1027 1295,1028.46 1302.06,1029.75 1309.12,1029.43 1316.18,1030.73 1323.23,1032.68 1330.29,1034.79 1337.35,1040.3 1344.41,1045.82 1351.47,1050.2 1358.52,1053.29 1365.58,1056.53 1372.64,1058.32 1379.7,1060.27 1386.76,1061.57 1393.81,1062.38 1400.87,1063.19 1407.93,1063.68 1414.99,1064 1422.05,1064.12 1429.1,1064.24 1436.16,1064.37 1443.22,1064.49 1450.28,1064.49 1457.34,1064.49 1464.39,1064.49 1471.45,1064.49 1478.51,1064.49 1485.57,1064.49 1492.63,1064.49 1499.68,1064.49 1506.74,1064.49 1513.8,1064.49" stroke="#ff7f0e" stroke-width="2.4"/>
<polyline points="1160.9,1096.46 1167.96,1102.79 1175.02,1101.98 1182.07,1094.03 1189.13,1080.23 1196.19,1073.25 1203.25,1076.5 1210.31,1083.96 1217.36,1094.84 1224.42,1094.03 1231.48,1085.26 1238.54,1077.31 1245.6,1071.47 1252.65,1070.82 1259.71,1070.33 1266.77,1069.68 1273.83,1069.68 1280.89,1070.33 1287.94,1070.33 1295,1070.82 1302.06,1069.68 1309.12,1069.68 1316.18,1069.03 1323.23,1070.33 1330.29,1070.82 1337.35,1070.82 1344.41,1069.68 1351.47,1068.22 1358.52,1067.25 1365.58,1066.43 1372.64,1065.79 1379.7,1065.3 1386.76,1064.81 1393.81,1064.65 1400.87,1064.49 1407.93,1064.46 1414.99,1064.43 1422.05,1064.41 1429.1,1064.38 1436.16,1064.35 1443.22,1064.32 1450.28,1064.34 1457.34,1064.36 1464.39,1064.37 1471.45,1064.39 1478.51,1064.41 1485.57,1064.42 1492.63,1064.44 1499.68,1064.45 1506.74,1064.47 1513.8,1064.49" stroke="#800080" stroke-width="2.4"/>
<polyline points="1160.9,1104.09 1167.96,1105.22 1175.02,1105.71 1182.07,1098.25 1189.13,1086.56 1196.19,1080.72 1203.25,1078.28 1210.31,1086.56 1217.36,1095.81 1224.42,1097.27 1231.48,1089.81 1238.54,1082.83 1245.6,1075.2 1252.65,1074.06 1259.71,1074.55 1266.77,1074.06 1273.83,1074.71 1280.89,1074.06 1287.94,1074.06 1295,1075.2 1302.06,1074.06 1309.12,1074.06 1316.18,1073.58 1323.23,1074.06 1330.29,1074.06 1337.35,1074.06 1344.41,1073.58 1351.47,1072.28 1358.52,1070.82 1365.58,1069.03 1372.64,1067.73 1379.7,1066.43 1386.76,1065.79 1393.81,1065.54 1400.87,1065.3 1407.93,1065.05 1414.99,1064.81 1422.05,1064.73 1429.1,1064.65 1436.16,1064.57 1443.22,1064.49 1450.28,1064.57 1457.34,1064.65 1464.39,1064.73 1471.45,1064.81 1478.51,1064.89 1485.57,1064.97 1492.63,1065.05 1499.68,1065.14 1506.74,1065.22 1513.8,1065.3" stroke="#ff0000" stroke-width="2.4"/>
<polyline points="1160.9,1055.24 1167.96,1064.81 1175.02,1055.72 1182.07,1034.79 1189.13,1017.74 1196.19,1007.68 1203.25,1008.17 1210.31,1025.21 1217.36,1028.94 1224.42,1001.51 1231.48,982.85 1238.54,973.92 1245.6,969.7 1252.65,964.02 1259.71,958.99 1266.77,958.18 1273.83,957.21 1280.89,959.64 1287.94,965.16 1295,970.68 1302.06,970.19 1309.12,972.3 1316.18,972.3 1323.23,979.77 1330.29,990.8 1337.35,1008.17 1344.41,1024.72 1351.47,1037.71 1358.52,1049.07 1365.58,1056.53 1372.64,1061.57 1379.7,1065.3 1386.76,1067.73 1393.81,1069.03 1400.87,1069.68 1407.93,1070.82 1414.99,1070.98 1422.05,1070.98 1429.1,1070.82 1436.16,1070.82 1443.22,1070.82 1450.28,1070.82 1457.34,1070.82 1464.39,1070.17 1471.45,1070.49 1478.51,1070.82 1485.57,1070.49 1492.63,1070.33 1499.68,1070.17 1506.74,1070.33 1513.8,1070.33" stroke="#000" stroke-width="1.1"/>
<path d="M1160.9 1051.64L1161.72 1054.1L1164.32 1054.12L1162.23 1055.67L1163.02 1058.15L1160.9 1056.64L1158.78 1058.15L1159.57 1055.67L1157.48 1054.12L1160.08 1054.1ZM1167.96 1061.21L1168.78 1063.68L1171.38 1063.7L1169.29 1065.24L1170.07 1067.72L1167.96 1066.21L1165.84 1067.72L1166.63 1065.24L1164.53 1063.7L1167.14 1063.68ZM1175.02 1052.12L1175.84 1054.59L1178.44 1054.61L1176.35 1056.16L1177.13 1058.64L1175.02 1057.12L1172.9 1058.64L1173.68 1056.16L1171.59 1054.61L1174.19 1054.59ZM1182.07 1031.19L1182.9 1033.65L1185.5 1033.67L1183.41 1035.22L1184.19 1037.7L1182.07 1036.19L1179.96 1037.7L1180.74 1035.22L1178.65 1033.67L1181.25 1033.65ZM1189.13 1014.14L1189.95 1016.61L1192.56 1016.63L1190.46 1018.18L1191.25 1020.66L1189.13 1019.14L1187.02 1020.66L1187.8 1018.18L1185.71 1016.63L1188.31 1016.61ZM1196.19 1004.08L1197.01 1006.55L1199.61 1006.57L1197.52 1008.11L1198.31 1010.59L1196.19 1009.08L1194.07 1010.59L1194.86 1008.11L1192.77 1006.57L1195.37 1006.55ZM1203.25 1004.57L1204.07 1007.04L1206.67 1007.06L1204.58 1008.6L1205.36 1011.08L1203.25 1009.57L1201.13 1011.08L1201.92 1008.6L1199.82 1007.06L1202.43 1007.04ZM1210.31 1021.61L1211.13 1024.08L1213.73 1024.1L1211.64 1025.64L1212.42 1028.12L1210.31 1026.61L1208.19 1028.12L1208.97 1025.64L1206.88 1024.1L1209.48 1024.08ZM1217.36 1025.34L1218.19 1027.81L1220.79 1027.83L1218.7 1029.38L1219.48 1031.86L1217.36 1030.34L1215.25 1031.86L1216.03 1029.38L1213.94 1027.83L1216.54 1027.81ZM1224.42 997.91L1225.24 1000.38L1227.85 1000.4L1225.75 1001.95L1226.54 1004.43L1224.42 1002.91L1222.31 1004.43L1223.09 1001.95L1221 1000.4L1223.6 1000.38ZM1231.48 979.25L1232.3 981.72L1234.9 981.74L1232.81 983.28L1233.6 985.76L1231.48 984.25L1229.36 985.76L1230.15 983.28L1228.06 981.74L1230.66 981.72ZM1238.54 970.32L1239.36 972.79L1241.96 972.81L1239.87 974.36L1240.65 976.84L1238.54 975.32L1236.42 976.84L1237.21 974.36L1235.11 972.81L1237.72 972.79ZM1245.6 966.1L1246.42 968.57L1249.02 968.59L1246.93 970.14L1247.71 972.62L1245.6 971.1L1243.48 972.62L1244.26 970.14L1242.17 968.59L1244.77 968.57ZM1252.65 960.42L1253.48 962.89L1256.08 962.91L1253.99 964.46L1254.77 966.94L1252.65 965.42L1250.54 966.94L1251.32 964.46L1249.23 962.91L1251.83 962.89ZM1259.71 955.39L1260.53 957.86L1263.14 957.88L1261.04 959.42L1261.83 961.9L1259.71 960.39L1257.6 961.9L1258.38 959.42L1256.29 957.88L1258.89 957.86ZM1266.77 954.58L1267.59 957.05L1270.19 957.07L1268.1 958.61L1268.89 961.09L1266.77 959.58L1264.65 961.09L1265.44 958.61L1263.35 957.07L1265.95 957.05ZM1273.83 953.61L1274.65 956.07L1277.25 956.09L1275.16 957.64L1275.94 960.12L1273.83 958.61L1271.71 960.12L1272.5 957.64L1270.4 956.09L1273.01 956.07ZM1280.89 956.04L1281.71 958.51L1284.31 958.53L1282.22 960.07L1283 962.55L1280.89 961.04L1278.77 962.55L1279.55 960.07L1277.46 958.53L1280.06 958.51ZM1287.94 961.56L1288.77 964.03L1291.37 964.05L1289.28 965.59L1290.06 968.07L1287.94 966.56L1285.83 968.07L1286.61 965.59L1284.52 964.05L1287.12 964.03ZM1295 967.08L1295.82 969.54L1298.43 969.57L1296.33 971.11L1297.12 973.59L1295 972.08L1292.89 973.59L1293.67 971.11L1291.58 969.57L1294.18 969.54ZM1302.06 966.59L1302.88 969.06L1305.48 969.08L1303.39 970.62L1304.18 973.1L1302.06 971.59L1299.94 973.1L1300.73 970.62L1298.64 969.08L1301.24 969.06ZM1309.12 968.7L1309.94 971.17L1312.54 971.19L1310.45 972.73L1311.23 975.21L1309.12 973.7L1307 975.21L1307.79 972.73L1305.69 971.19L1308.3 971.17ZM1316.18 968.7L1317 971.17L1319.6 971.19L1317.51 972.73L1318.29 975.21L1316.18 973.7L1314.06 975.21L1314.84 972.73L1312.75 971.19L1315.35 971.17ZM1323.23 976.17L1324.06 978.63L1326.66 978.65L1324.57 980.2L1325.35 982.68L1323.23 981.17L1321.12 982.68L1321.9 980.2L1319.81 978.65L1322.41 978.63ZM1330.29 987.2L1331.11 989.67L1333.72 989.69L1331.62 991.24L1332.41 993.72L1330.29 992.2L1328.18 993.72L1328.96 991.24L1326.87 989.69L1329.47 989.67ZM1337.35 1004.57L1338.17 1007.04L1340.77 1007.06L1338.68 1008.6L1339.47 1011.08L1337.35 1009.57L1335.23 1011.08L1336.02 1008.6L1333.93 1007.06L1336.53 1007.04ZM1344.41 1021.12L1345.23 1023.59L1347.83 1023.61L1345.74 1025.16L1346.52 1027.64L1344.41 1026.12L1342.29 1027.64L1343.08 1025.16L1340.98 1023.61L1343.59 1023.59ZM1351.47 1034.11L1352.29 1036.57L1354.89 1036.59L1352.8 1038.14L1353.58 1040.62L1351.47 1039.11L1349.35 1040.62L1350.13 1038.14L1348.04 1036.59L1350.64 1036.57ZM1358.52 1045.47L1359.35 1047.94L1361.95 1047.96L1359.86 1049.5L1360.64 1051.98L1358.52 1050.47L1356.41 1051.98L1357.19 1049.5L1355.1 1047.96L1357.7 1047.94ZM1365.58 1052.93L1366.4 1055.4L1369.01 1055.42L1366.91 1056.97L1367.7 1059.45L1365.58 1057.93L1363.47 1059.45L1364.25 1056.97L1362.16 1055.42L1364.76 1055.4ZM1372.64 1057.97L1373.46 1060.43L1376.06 1060.45L1373.97 1062L1374.76 1064.48L1372.64 1062.97L1370.52 1064.48L1371.31 1062L1369.22 1060.45L1371.82 1060.43ZM1379.7 1061.7L1380.52 1064.17L1383.12 1064.19L1381.03 1065.73L1381.81 1068.21L1379.7 1066.7L1377.58 1068.21L1378.37 1065.73L1376.27 1064.19L1378.88 1064.17ZM1386.76 1064.13L1387.58 1066.6L1390.18 1066.62L1388.09 1068.17L1388.87 1070.65L1386.76 1069.13L1384.64 1070.65L1385.42 1068.17L1383.33 1066.62L1385.93 1066.6ZM1393.81 1065.43L1394.64 1067.9L1397.24 1067.92L1395.15 1069.46L1395.93 1071.94L1393.81 1070.43L1391.7 1071.94L1392.48 1069.46L1390.39 1067.92L1392.99 1067.9ZM1400.87 1066.08L1401.69 1068.55L1404.3 1068.57L1402.2 1070.11L1402.99 1072.59L1400.87 1071.08L1398.76 1072.59L1399.54 1070.11L1397.45 1068.57L1400.05 1068.55ZM1407.93 1067.22L1408.75 1069.68L1411.35 1069.7L1409.26 1071.25L1410.05 1073.73L1407.93 1072.22L1405.81 1073.73L1406.6 1071.25L1404.51 1069.7L1407.11 1069.68ZM1414.99 1067.38L1415.81 1069.85L1418.41 1069.87L1416.32 1071.41L1417.1 1073.89L1414.99 1072.38L1412.87 1073.89L1413.66 1071.41L1411.56 1069.87L1414.17 1069.85ZM1422.05 1067.38L1422.87 1069.85L1425.47 1069.87L1423.38 1071.41L1424.16 1073.89L1422.05 1072.38L1419.93 1073.89L1420.71 1071.41L1418.62 1069.87L1421.22 1069.85ZM1429.1 1067.22L1429.93 1069.68L1432.53 1069.7L1430.44 1071.25L1431.22 1073.73L1429.1 1072.22L1426.99 1073.73L1427.77 1071.25L1425.68 1069.7L1428.28 1069.68ZM1436.16 1067.22L1436.98 1069.68L1439.59 1069.7L1437.49 1071.25L1438.28 1073.73L1436.16 1072.22L1434.05 1073.73L1434.83 1071.25L1432.74 1069.7L1435.34 1069.68ZM1443.22 1067.22L1444.04 1069.68L1446.64 1069.7L1444.55 1071.25L1445.34 1073.73L1443.22 1072.22L1441.1 1073.73L1441.89 1071.25L1439.8 1069.7L1442.4 1069.68ZM1450.28 1067.22L1451.1 1069.68L1453.7 1069.7L1451.61 1071.25L1452.39 1073.73L1450.28 1072.22L1448.16 1073.73L1448.95 1071.25L1446.85 1069.7L1449.46 1069.68ZM1457.34 1067.22L1458.16 1069.68L1460.76 1069.7L1458.67 1071.25L1459.45 1073.73L1457.34 1072.22L1455.22 1073.73L1456 1071.25L1453.91 1069.7L1456.51 1069.68ZM1464.39 1066.57L1465.22 1069.03L1467.82 1069.05L1465.73 1070.6L1466.51 1073.08L1464.39 1071.57L1462.28 1073.08L1463.06 1070.6L1460.97 1069.05L1463.57 1069.03ZM1471.45 1066.89L1472.27 1069.36L1474.88 1069.38L1472.78 1070.92L1473.57 1073.4L1471.45 1071.89L1469.34 1073.4L1470.12 1070.92L1468.03 1069.38L1470.63 1069.36ZM1478.51 1067.22L1479.33 1069.68L1481.93 1069.7L1479.84 1071.25L1480.63 1073.73L1478.51 1072.22L1476.39 1073.73L1477.18 1071.25L1475.09 1069.7L1477.69 1069.68ZM1485.57 1066.89L1486.39 1069.36L1488.99 1069.38L1486.9 1070.92L1487.68 1073.4L1485.57 1071.89L1483.45 1073.4L1484.24 1070.92L1482.14 1069.38L1484.75 1069.36ZM1492.63 1066.73L1493.45 1069.2L1496.05 1069.22L1493.96 1070.76L1494.74 1073.24L1492.63 1071.73L1490.51 1073.24L1491.29 1070.76L1489.2 1069.22L1491.8 1069.2ZM1499.68 1066.57L1500.51 1069.03L1503.11 1069.05L1501.02 1070.6L1501.8 1073.08L1499.68 1071.57L1497.57 1073.08L1498.35 1070.6L1496.26 1069.05L1498.86 1069.03ZM1506.74 1066.73L1507.56 1069.2L1510.17 1069.22L1508.07 1070.76L1508.86 1073.24L1506.74 1071.73L1504.63 1073.24L1505.41 1070.76L1503.32 1069.22L1505.92 1069.2ZM1513.8 1066.73L1514.62 1069.2L1517.22 1069.22L1515.13 1070.76L1515.92 1073.24L1513.8 1071.73L1511.68 1073.24L1512.47 1070.76L1510.38 1069.22L1512.98 1069.2Z" fill="#000" stroke="none"/>
</g>
<text transform="translate(1160.9 1176.15) scale(0.977 1)" font-size="23" text-anchor="middle">260</text>
<text transform="translate(1231.48 1176.15) scale(0.977 1)" font-size="23" text-anchor="middle">270</text>
<text transform="translate(1302.06 1176.15) scale(0.977 1)" font-size="23" text-anchor="middle">280</text>
<text transform="translate(1372.64 1176.15) scale(0.977 1)" font-size="23" text-anchor="middle">290</text>
<text transform="translate(1443.22 1176.15) scale(0.977 1)" font-size="23" text-anchor="middle">300</text>
<text transform="translate(1513.8 1176.15) scale(0.977 1)" font-size="23" text-anchor="middle">310</text>
<text transform="translate(1150.6 909.85) scale(0.977 1)" font-size="23" text-anchor="end">10</text>
<text transform="translate(1150.6 991) scale(0.977 1)" font-size="23" text-anchor="end">5</text>
<text transform="translate(1150.6 1072.15) scale(0.977 1)" font-size="23" text-anchor="end">0</text>
<text transform="translate(1150.6 1153.3) scale(0.977 1)" font-size="23" text-anchor="end">-5</text>
<text transform="translate(1337.95 1201.65) scale(0.929 1)" font-size="23.7" font-weight="bold" text-anchor="middle">Wavelength (nm)</text>
<text transform="translate(1124 1017) rotate(-90) scale(0.98 1)" font-size="23.5" font-weight="bold" text-anchor="middle">mdeg</text>
<text transform="translate(1253.39 890.7) scale(0.9221 1)" font-size="31" font-weight="bold">PABP RRM2</text>
<text transform="translate(1329 939.5) scale(0.955 1)" font-size="15.7">20-50°C</text>
<text transform="translate(1255.5 978) scale(0.955 1)" font-size="15.7">60°C</text>
<text transform="translate(1267.5 1041.7) scale(0.955 1)" font-size="15.7">70°C</text>
<text transform="translate(1276.7 1088.7) scale(0.955 1)" font-size="15.7">80-90°C</text>
<rect x="54.8" y="1260.7" width="353" height="243.2" fill="none" stroke="#000" stroke-width="3.6"/>
<path d="M54.8 1503.9V1510.5M125.4 1503.9V1510.5M196 1503.9V1510.5M266.6 1503.9V1510.5M337.2 1503.9V1510.5M407.8 1503.9V1510.5M54.8 1260.7H48.2M54.8 1341.77H48.2M54.8 1422.83H48.2M54.8 1503.9H48.2" stroke="#000" stroke-width="3.4" fill="none"/>
<line x1="56.6" y1="1341.77" x2="407.8" y2="1341.77" stroke="#000" stroke-width="1" stroke-dasharray="1 1.2"/>
<g fill="none" stroke-linejoin="round" stroke-linecap="butt">
<polyline points="54.8,1287.45 61.86,1317.93 68.92,1333.01 75.98,1326.2 83.04,1313.72 90.1,1324.58 97.16,1361.22 104.22,1401.27 111.28,1425.27 118.34,1420.08 125.4,1403.05 132.46,1413.75 139.52,1433.86 146.58,1452.67 153.64,1465.64 160.7,1477.15 167.76,1483.96 174.82,1490.12 181.88,1487.69 188.94,1471.47 196,1451.37 203.06,1443.91 210.12,1444.4 217.18,1451.37 224.24,1458.18 231.3,1446.34 238.36,1413.11 245.42,1372.09 252.48,1334.96 259.54,1314.53 266.6,1308.04 273.66,1309.34 280.72,1314.53 287.78,1320.04 294.84,1323.77 301.9,1327.01 308.96,1329.44 316.02,1331.23 323.08,1333.01 330.14,1333.82 337.2,1335.44 344.26,1336.74 351.32,1337.55 358.38,1338.04 365.44,1338.69 372.5,1339.98 379.56,1339.5 386.62,1340.47 393.68,1340.63 400.74,1341.28 407.8,1341.77" stroke="#0000ff" stroke-width="2.4"/>
<polyline points="54.8,1287.45 61.86,1317.93 68.92,1333.01 75.98,1326.2 83.04,1313.72 90.1,1324.58 97.16,1361.22 104.22,1401.27 111.28,1417.97 118.34,1416.35 125.4,1403.05 132.46,1413.75 139.52,1433.86 146.58,1452.67 153.64,1462.39 160.7,1472.28 167.76,1474.07 174.82,1480.55 181.88,1479.09 188.94,1466.61 196,1451.37 203.06,1439.53 210.12,1440.67 217.18,1451.37 224.24,1452.02 231.3,1441.48 238.36,1413.11 245.42,1372.09 252.48,1336.9 259.54,1319.88 266.6,1314.53 273.66,1314.85 280.72,1317.45 287.78,1321.5 294.84,1323.77 301.9,1327.01 308.96,1329.44 316.02,1331.23 323.08,1333.01 330.14,1333.82 337.2,1335.44 344.26,1336.74 351.32,1337.55 358.38,1338.04 365.44,1338.69 372.5,1339.98 379.56,1339.5 386.62,1340.47 393.68,1340.63 400.74,1341.28 407.8,1341.77" stroke="#996633" stroke-width="2.4"/>
<polyline points="54.8,1283.72 61.86,1316.64 68.92,1332.04 75.98,1325.88 83.04,1314.53 90.1,1324.74 97.16,1357.98 104.22,1393.65 111.28,1412.13 118.34,1412.13 125.4,1403.05 132.46,1409.86 139.52,1426.08 146.58,1440.67 153.64,1452.02 160.7,1461.75 167.76,1466.61 174.82,1469.85 181.88,1469.04 188.94,1460.12 196,1445.53 203.06,1437.1 210.12,1435.8 217.18,1442.29 224.24,1448.77 231.3,1439.05 238.36,1409.86 245.42,1372.57 252.48,1343.39 259.54,1329.61 266.6,1324.58 273.66,1321.99 280.72,1322.47 287.78,1323.93 294.84,1325.55 301.9,1327.82 308.96,1329.77 316.02,1331.39 323.08,1333.01 330.14,1333.98 337.2,1335.44 344.26,1336.74 351.32,1337.55 358.38,1338.04 365.44,1338.69 372.5,1339.82 379.56,1339.5 386.62,1340.31 393.68,1340.63 400.74,1341.12 407.8,1341.44" stroke="#00ffff" stroke-width="2.4"/>
<polyline points="54.8,1296.37 61.86,1318.74 68.92,1332.53 75.98,1333.01 83.04,1322.47 90.1,1324.58 97.16,1349.87 104.22,1375 111.28,1397.54 118.34,1400.62 125.4,1392.03 132.46,1391.87 139.52,1402.57 146.58,1413.75 153.64,1424.29 160.7,1432.56 167.76,1439.53 174.82,1445.86 181.88,1443.1 188.94,1438.88 196,1428.83 203.06,1420.56 210.12,1420.89 217.18,1423.81 224.24,1426.08 231.3,1420.08 238.36,1398.84 245.42,1372.57 252.48,1351.33 259.54,1338.69 266.6,1332.53 273.66,1329.44 280.72,1329.93 287.78,1331.23 294.84,1331.71 301.9,1333.01 308.96,1333.82 316.02,1334.63 323.08,1335.44 330.14,1336.5 337.2,1337.55 344.26,1338.04 351.32,1338.52 358.38,1339.01 365.44,1339.5 372.5,1339.66 379.56,1339.82 386.62,1339.98 393.68,1340.15 400.74,1340.31 407.8,1340.47" stroke="#00ff00" stroke-width="2.4"/>
<polyline points="54.8,1335.44 61.86,1344.52 68.92,1348.09 75.98,1341.28 83.04,1333.01 90.1,1331.23 97.16,1341.28 104.22,1355.06 111.28,1367.06 118.34,1367.55 125.4,1361.22 132.46,1356.36 139.52,1357.98 146.58,1360.09 153.64,1363.82 160.7,1366.25 167.76,1368.03 174.82,1369.49 181.88,1369.98 188.94,1369.49 196,1366.25 203.06,1363.82 210.12,1365.11 217.18,1367.06 224.24,1366.25 231.3,1367.55 238.36,1360.09 245.42,1356.36 252.48,1348.74 259.54,1343.06 266.6,1339.98 273.66,1338.69 280.72,1338.04 287.78,1338.2 294.84,1338.69 301.9,1339.09 308.96,1339.5 316.02,1339.74 323.08,1339.98 330.14,1340.23 337.2,1340.47 344.26,1340.6 351.32,1340.73 358.38,1340.86 365.44,1340.99 372.5,1341.12 379.56,1341.25 386.62,1341.38 393.68,1341.51 400.74,1341.64 407.8,1341.77" stroke="#ff00ff" stroke-width="2.4"/>
<polyline points="54.8,1351.98 61.86,1356.36 68.92,1355.55 75.98,1348.74 83.04,1340.47 90.1,1338.04 97.16,1341.28 104.22,1348.74 111.28,1354.58 118.34,1355.06 125.4,1350.04 132.46,1346.31 139.52,1343.71 146.58,1343.06 153.64,1342.58 160.7,1343.06 167.76,1344.52 174.82,1345.5 181.88,1345.01 188.94,1344.52 196,1345.01 203.06,1345.01 210.12,1344.52 217.18,1345.01 224.24,1344.52 231.3,1343.71 238.36,1343.71 245.42,1343.71 252.48,1343.06 259.54,1342.58 266.6,1342.09 273.66,1341.93 280.72,1341.77 287.78,1341.87 294.84,1341.97 301.9,1342.07 308.96,1342.17 316.02,1342.27 323.08,1342.37 330.14,1342.48 337.2,1342.58 344.26,1342.53 351.32,1342.48 358.38,1342.43 365.44,1342.38 372.5,1342.33 379.56,1342.29 386.62,1342.24 393.68,1342.19 400.74,1342.14 407.8,1342.09" stroke="#ff7f0e" stroke-width="2.4"/>
<polyline points="54.8,1356.36 61.86,1358.79 68.92,1357.49 75.98,1351.33 83.04,1343.06 90.1,1339.5 97.16,1343.06 104.22,1352.47 111.28,1358.79 118.34,1358.79 125.4,1351.98 132.46,1348.09 139.52,1344.52 146.58,1343.71 153.64,1344.2 160.7,1343.71 167.76,1344.52 174.82,1346.95 181.88,1346.31 188.94,1345.82 196,1345.5 203.06,1346.31 210.12,1345.5 217.18,1346.31 224.24,1345.5 231.3,1344.52 238.36,1345.01 245.42,1345.01 252.48,1344.52 259.54,1343.06 266.6,1342.58 273.66,1342.58 280.72,1343.06 287.78,1342.82 294.84,1342.58 301.9,1342.82 308.96,1343.06 316.02,1342.94 323.08,1342.82 330.14,1342.7 337.2,1342.58 344.26,1342.53 351.32,1342.48 358.38,1342.43 365.44,1342.38 372.5,1342.33 379.56,1342.29 386.62,1342.24 393.68,1342.19 400.74,1342.14 407.8,1342.09" stroke="#800080" stroke-width="2.4"/>
<polyline points="54.8,1358.79 61.86,1360.09 68.92,1359.28 75.98,1355.06 83.04,1346.31 90.1,1340.47 97.16,1341.28 104.22,1348.09 111.28,1353.76 118.34,1354.58 125.4,1348.09 132.46,1343.06 139.52,1339.5 146.58,1338.04 153.64,1337.06 160.7,1338.04 167.76,1341.28 174.82,1338.69 181.88,1341.28 188.94,1340.47 196,1341.28 203.06,1340.47 210.12,1341.28 217.18,1342.09 224.24,1343.06 231.3,1343.71 238.36,1342.58 245.42,1343.06 252.48,1342.58 259.54,1343.23 266.6,1343.71 273.66,1343.06 280.72,1343.71 287.78,1343.06 294.84,1344.04 301.9,1344.52 308.96,1343.71 316.02,1343.47 323.08,1343.23 330.14,1343.47 337.2,1343.71 344.26,1343.87 351.32,1344.04 358.38,1343.71 365.44,1343.39 372.5,1343.06 379.56,1342.97 386.62,1342.87 393.68,1342.77 400.74,1342.67 407.8,1342.58" stroke="#ff0000" stroke-width="2.4"/>
<polyline points="54.8,1287.45 61.86,1317.93 68.92,1333.01 75.98,1326.2 83.04,1313.72 90.1,1324.58 97.16,1361.22 104.22,1401.27 111.28,1426.08 118.34,1420.08 125.4,1403.05 132.46,1413.75 139.52,1433.86 146.58,1452.67 153.64,1465.64 160.7,1477.15 167.76,1478.93 174.82,1487.2 181.88,1485.58 188.94,1471.47 196,1451.37 203.06,1439.53 210.12,1440.67 217.18,1451.37 224.24,1458.18 231.3,1446.34 238.36,1413.11 245.42,1372.09 252.48,1334.96 259.54,1314.53 266.6,1308.04 273.66,1309.34 280.72,1314.53 287.78,1320.04 294.84,1323.77 301.9,1327.01 308.96,1329.44 316.02,1331.23 323.08,1333.01 330.14,1333.82 337.2,1335.44 344.26,1336.74 351.32,1337.55 358.38,1338.04 365.44,1338.69 372.5,1339.98 379.56,1339.5 386.62,1340.47 393.68,1340.63 400.74,1341.28 407.8,1341.77" stroke="#000" stroke-width="1.1"/>
<path d="M54.8 1283.85L55.62 1286.32L58.22 1286.34L56.13 1287.88L56.92 1290.36L54.8 1288.85L52.68 1290.36L53.47 1287.88L51.38 1286.34L53.98 1286.32ZM61.86 1314.33L62.68 1316.8L65.28 1316.82L63.19 1318.37L63.98 1320.85L61.86 1319.33L59.74 1320.85L60.53 1318.37L58.44 1316.82L61.04 1316.8ZM68.92 1329.41L69.74 1331.88L72.34 1331.9L70.25 1333.44L71.04 1335.92L68.92 1334.41L66.8 1335.92L67.59 1333.44L65.5 1331.9L68.1 1331.88ZM75.98 1322.6L76.8 1325.07L79.4 1325.09L77.31 1326.63L78.1 1329.11L75.98 1327.6L73.86 1329.11L74.65 1326.63L72.56 1325.09L75.16 1325.07ZM83.04 1310.12L83.86 1312.58L86.46 1312.61L84.37 1314.15L85.16 1316.63L83.04 1315.12L80.92 1316.63L81.71 1314.15L79.62 1312.61L82.22 1312.58ZM90.1 1320.98L90.92 1323.45L93.52 1323.47L91.43 1325.01L92.22 1327.49L90.1 1325.98L87.98 1327.49L88.77 1325.01L86.68 1323.47L89.28 1323.45ZM97.16 1357.62L97.98 1360.09L100.58 1360.11L98.49 1361.66L99.28 1364.14L97.16 1362.62L95.04 1364.14L95.83 1361.66L93.74 1360.11L96.34 1360.09ZM104.22 1397.67L105.04 1400.14L107.64 1400.16L105.55 1401.7L106.34 1404.18L104.22 1402.67L102.1 1404.18L102.89 1401.7L100.8 1400.16L103.4 1400.14ZM111.28 1422.48L112.1 1424.94L114.7 1424.96L112.61 1426.51L113.4 1428.99L111.28 1427.48L109.16 1428.99L109.95 1426.51L107.86 1424.96L110.46 1424.94ZM118.34 1416.48L119.16 1418.94L121.76 1418.96L119.67 1420.51L120.46 1422.99L118.34 1421.48L116.22 1422.99L117.01 1420.51L114.92 1418.96L117.52 1418.94ZM125.4 1399.45L126.22 1401.92L128.82 1401.94L126.73 1403.49L127.52 1405.97L125.4 1404.45L123.28 1405.97L124.07 1403.49L121.98 1401.94L124.58 1401.92ZM132.46 1410.15L133.28 1412.62L135.88 1412.64L133.79 1414.19L134.58 1416.67L132.46 1415.15L130.34 1416.67L131.13 1414.19L129.04 1412.64L131.64 1412.62ZM139.52 1430.26L140.34 1432.73L142.94 1432.75L140.85 1434.29L141.64 1436.77L139.52 1435.26L137.4 1436.77L138.19 1434.29L136.1 1432.75L138.7 1432.73ZM146.58 1449.07L147.4 1451.53L150 1451.55L147.91 1453.1L148.7 1455.58L146.58 1454.07L144.46 1455.58L145.25 1453.1L143.16 1451.55L145.76 1451.53ZM153.64 1462.04L154.46 1464.5L157.06 1464.52L154.97 1466.07L155.76 1468.55L153.64 1467.04L151.52 1468.55L152.31 1466.07L150.22 1464.52L152.82 1464.5ZM160.7 1473.55L161.52 1476.02L164.12 1476.04L162.03 1477.58L162.82 1480.06L160.7 1478.55L158.58 1480.06L159.37 1477.58L157.28 1476.04L159.88 1476.02ZM167.76 1475.33L168.58 1477.8L171.18 1477.82L169.09 1479.36L169.88 1481.84L167.76 1480.33L165.64 1481.84L166.43 1479.36L164.34 1477.82L166.94 1477.8ZM174.82 1483.6L175.64 1486.07L178.24 1486.09L176.15 1487.63L176.94 1490.11L174.82 1488.6L172.7 1490.11L173.49 1487.63L171.4 1486.09L174 1486.07ZM181.88 1481.98L182.7 1484.45L185.3 1484.47L183.21 1486.01L184 1488.49L181.88 1486.98L179.76 1488.49L180.55 1486.01L178.46 1484.47L181.06 1484.45ZM188.94 1467.87L189.76 1470.34L192.36 1470.36L190.27 1471.91L191.06 1474.39L188.94 1472.87L186.82 1474.39L187.61 1471.91L185.52 1470.36L188.12 1470.34ZM196 1447.77L196.82 1450.24L199.42 1450.26L197.33 1451.8L198.12 1454.28L196 1452.77L193.88 1454.28L194.67 1451.8L192.58 1450.26L195.18 1450.24ZM203.06 1435.93L203.88 1438.4L206.48 1438.42L204.39 1439.97L205.18 1442.45L203.06 1440.93L200.94 1442.45L201.73 1439.97L199.64 1438.42L202.24 1438.4ZM210.12 1437.07L210.94 1439.54L213.54 1439.56L211.45 1441.1L212.24 1443.58L210.12 1442.07L208 1443.58L208.79 1441.1L206.7 1439.56L209.3 1439.54ZM217.18 1447.77L218 1450.24L220.6 1450.26L218.51 1451.8L219.3 1454.28L217.18 1452.77L215.06 1454.28L215.85 1451.8L213.76 1450.26L216.36 1450.24ZM224.24 1454.58L225.06 1457.05L227.66 1457.07L225.57 1458.61L226.36 1461.09L224.24 1459.58L222.12 1461.09L222.91 1458.61L220.82 1457.07L223.42 1457.05ZM231.3 1442.74L232.12 1445.21L234.72 1445.23L232.63 1446.78L233.42 1449.26L231.3 1447.74L229.18 1449.26L229.97 1446.78L227.88 1445.23L230.48 1445.21ZM238.36 1409.51L239.18 1411.97L241.78 1411.99L239.69 1413.54L240.48 1416.02L238.36 1414.51L236.24 1416.02L237.03 1413.54L234.94 1411.99L237.54 1411.97ZM245.42 1368.49L246.24 1370.95L248.84 1370.97L246.75 1372.52L247.54 1375L245.42 1373.49L243.3 1375L244.09 1372.52L242 1370.97L244.6 1370.95ZM252.48 1331.36L253.3 1333.82L255.9 1333.84L253.81 1335.39L254.6 1337.87L252.48 1336.36L250.36 1337.87L251.15 1335.39L249.06 1333.84L251.66 1333.82ZM259.54 1310.93L260.36 1313.4L262.96 1313.42L260.87 1314.96L261.66 1317.44L259.54 1315.93L257.42 1317.44L258.21 1314.96L256.12 1313.42L258.72 1313.4ZM266.6 1304.44L267.42 1306.91L270.02 1306.93L267.93 1308.48L268.72 1310.96L266.6 1309.44L264.48 1310.96L265.27 1308.48L263.18 1306.93L265.78 1306.91ZM273.66 1305.74L274.48 1308.21L277.08 1308.23L274.99 1309.77L275.78 1312.25L273.66 1310.74L271.54 1312.25L272.33 1309.77L270.24 1308.23L272.84 1308.21ZM280.72 1310.93L281.54 1313.4L284.14 1313.42L282.05 1314.96L282.84 1317.44L280.72 1315.93L278.6 1317.44L279.39 1314.96L277.3 1313.42L279.9 1313.4ZM287.78 1316.44L288.6 1318.91L291.2 1318.93L289.11 1320.47L289.9 1322.95L287.78 1321.44L285.66 1322.95L286.45 1320.47L284.36 1318.93L286.96 1318.91ZM294.84 1320.17L295.66 1322.64L298.26 1322.66L296.17 1324.2L296.96 1326.68L294.84 1325.17L292.72 1326.68L293.51 1324.2L291.42 1322.66L294.02 1322.64ZM301.9 1323.41L302.72 1325.88L305.32 1325.9L303.23 1327.45L304.02 1329.92L301.9 1328.41L299.78 1329.92L300.57 1327.45L298.48 1325.9L301.08 1325.88ZM308.96 1325.84L309.78 1328.31L312.38 1328.33L310.29 1329.88L311.08 1332.36L308.96 1330.84L306.84 1332.36L307.63 1329.88L305.54 1328.33L308.14 1328.31ZM316.02 1327.63L316.84 1330.1L319.44 1330.12L317.35 1331.66L318.14 1334.14L316.02 1332.63L313.9 1334.14L314.69 1331.66L312.6 1330.12L315.2 1330.1ZM323.08 1329.41L323.9 1331.88L326.5 1331.9L324.41 1333.44L325.2 1335.92L323.08 1334.41L320.96 1335.92L321.75 1333.44L319.66 1331.9L322.26 1331.88ZM330.14 1330.22L330.96 1332.69L333.56 1332.71L331.47 1334.25L332.26 1336.73L330.14 1335.22L328.02 1336.73L328.81 1334.25L326.72 1332.71L329.32 1332.69ZM337.2 1331.84L338.02 1334.31L340.62 1334.33L338.53 1335.88L339.32 1338.36L337.2 1336.84L335.08 1338.36L335.87 1335.88L333.78 1334.33L336.38 1334.31ZM344.26 1333.14L345.08 1335.61L347.68 1335.63L345.59 1337.17L346.38 1339.65L344.26 1338.14L342.14 1339.65L342.93 1337.17L340.84 1335.63L343.44 1335.61ZM351.32 1333.95L352.14 1336.42L354.74 1336.44L352.65 1337.98L353.44 1340.46L351.32 1338.95L349.2 1340.46L349.99 1337.98L347.9 1336.44L350.5 1336.42ZM358.38 1334.44L359.2 1336.9L361.8 1336.93L359.71 1338.47L360.5 1340.95L358.38 1339.44L356.26 1340.95L357.05 1338.47L354.96 1336.93L357.56 1336.9ZM365.44 1335.09L366.26 1337.55L368.86 1337.57L366.77 1339.12L367.56 1341.6L365.44 1340.09L363.32 1341.6L364.11 1339.12L362.02 1337.57L364.62 1337.55ZM372.5 1336.38L373.32 1338.85L375.92 1338.87L373.83 1340.42L374.62 1342.9L372.5 1341.38L370.38 1342.9L371.17 1340.42L369.08 1338.87L371.68 1338.85ZM379.56 1335.9L380.38 1338.36L382.98 1338.38L380.89 1339.93L381.68 1342.41L379.56 1340.9L377.44 1342.41L378.23 1339.93L376.14 1338.38L378.74 1338.36ZM386.62 1336.87L387.44 1339.34L390.04 1339.36L387.95 1340.9L388.74 1343.38L386.62 1341.87L384.5 1343.38L385.29 1340.9L383.2 1339.36L385.8 1339.34ZM393.68 1337.03L394.5 1339.5L397.1 1339.52L395.01 1341.06L395.8 1343.54L393.68 1342.03L391.56 1343.54L392.35 1341.06L390.26 1339.52L392.86 1339.5ZM400.74 1337.68L401.56 1340.15L404.16 1340.17L402.07 1341.71L402.86 1344.19L400.74 1342.68L398.62 1344.19L399.41 1341.71L397.32 1340.17L399.92 1340.15ZM407.8 1338.17L408.62 1340.63L411.22 1340.65L409.13 1342.2L409.92 1344.68L407.8 1343.17L405.68 1344.68L406.47 1342.2L404.38 1340.65L406.98 1340.63Z" fill="#000" stroke="none"/>
</g>
<text transform="translate(54.8 1534.9) scale(0.977 1)" font-size="23" text-anchor="middle">260</text>
<text transform="translate(125.4 1534.9) scale(0.977 1)" font-size="23" text-anchor="middle">270</text>
<text transform="translate(196 1534.9) scale(0.977 1)" font-size="23" text-anchor="middle">280</text>
<text transform="translate(266.6 1534.9) scale(0.977 1)" font-size="23" text-anchor="middle">290</text>
<text transform="translate(337.2 1534.9) scale(0.977 1)" font-size="23" text-anchor="middle">300</text>
<text transform="translate(407.8 1534.9) scale(0.977 1)" font-size="23" text-anchor="middle">310</text>
<text transform="translate(44.5 1268.85) scale(0.977 1)" font-size="23" text-anchor="end">5</text>
<text transform="translate(44.5 1349.92) scale(0.977 1)" font-size="23" text-anchor="end">0</text>
<text transform="translate(44.5 1430.98) scale(0.977 1)" font-size="23" text-anchor="end">-5</text>
<text transform="translate(44.5 1512.05) scale(0.977 1)" font-size="23" text-anchor="end">-10</text>
<text transform="translate(231.9 1560.4) scale(0.929 1)" font-size="23.7" font-weight="bold" text-anchor="middle">Wavelength (nm)</text>
<text transform="translate(19.1 1376.7) rotate(-90) scale(0.98 1)" font-size="23.5" font-weight="bold" text-anchor="middle">mdeg</text>
<text transform="translate(165.05 1251.6) scale(0.9412 1)" font-size="31" font-weight="bold">FUS RRM</text>
<text transform="translate(189 1337.5) scale(0.955 1)" font-size="15.7">70-90°C</text>
<text transform="translate(196 1380.5) scale(0.955 1)" font-size="15.7">60°C</text>
<text transform="translate(246.5 1426) scale(0.955 1)" font-size="15.7">20-50°C</text>
<rect x="607.5" y="1261.05" width="352.2" height="242.85" fill="none" stroke="#000" stroke-width="3.6"/>
<path d="M607.5 1503.9V1513.4M677.94 1503.9V1513.4M748.38 1503.9V1513.4M818.82 1503.9V1513.4M889.26 1503.9V1513.4M959.7 1503.9V1513.4M607.5 1293.43H598M607.5 1374.38H598M607.5 1455.33H598" stroke="#000" stroke-width="3.4" fill="none"/>
<line x1="609.3" y1="1293.43" x2="959.7" y2="1293.43" stroke="#000" stroke-width="1" stroke-dasharray="1 1.2"/>
<g fill="none" stroke-linejoin="round" stroke-linecap="butt">
<polyline points="607.5,1294.24 614.54,1302.82 621.59,1311.56 628.63,1320.31 635.68,1329.05 642.72,1343.94 649.76,1359 656.81,1367.9 663.85,1373.89 670.9,1383.77 677.94,1393 684.98,1402.55 692.03,1411.29 699.07,1419.71 706.12,1428.62 713.16,1437.52 720.2,1441.89 727.25,1446.1 734.29,1453.71 741.34,1457.76 748.38,1456.95 755.42,1454.84 762.47,1456.14 769.51,1466.02 776.56,1479.62 783.6,1477.19 790.64,1454.84 797.69,1424.89 804.73,1403.04 811.78,1407.57 818.82,1423.76 825.86,1435.9 832.91,1422.46 839.95,1390.08 847,1354.95 854.04,1330.34 861.08,1315.77 868.13,1308 875.17,1301.53 882.22,1296.67 889.26,1293.43 896.3,1292.46 903.35,1291 910.39,1290.52 917.44,1290.19 924.48,1289.87 931.52,1290.52 938.57,1291.16 945.61,1291.81 952.66,1291.81 959.7,1291.81" stroke="#0000ff" stroke-width="2.4"/>
<polyline points="607.5,1296.18 614.54,1304.76 621.59,1313.51 628.63,1322.25 635.68,1330.99 642.72,1343.94 649.76,1359 656.81,1368.31 663.85,1374.42 670.9,1383.77 677.94,1392.59 684.98,1401.58 692.03,1409.84 699.07,1418.21 706.12,1427.08 713.16,1435.29 720.2,1440.15 727.25,1444.77 734.29,1451.48 741.34,1455.45 748.38,1454.72 755.42,1452.46 762.47,1453.91 769.51,1463.75 776.56,1476.54 783.6,1474.96 790.64,1453.59 797.69,1424.89 804.73,1403.85 811.78,1407.57 818.82,1423.44 825.86,1435.34 832.91,1422.46 839.95,1391.02 847,1356.57 854.04,1331.88 861.08,1317.23 868.13,1308.89 875.17,1302.17 882.22,1297.28 889.26,1294.24 896.3,1292.9 903.35,1291.49 910.39,1290.92 917.44,1290.6 924.48,1290.27 931.52,1290.76 938.57,1291.24 945.61,1291.81 952.66,1291.81 959.7,1291.81" stroke="#996633" stroke-width="2.4"/>
<polyline points="607.5,1299.1 614.54,1307.68 621.59,1316.42 628.63,1325.16 635.68,1333.9 642.72,1343.94 649.76,1359 656.81,1368.39 663.85,1374.53 670.9,1383.77 677.94,1392.51 684.98,1401.38 692.03,1409.54 699.07,1417.91 706.12,1426.77 713.16,1434.85 720.2,1439.8 727.25,1444.5 734.29,1451.04 741.34,1454.99 748.38,1454.28 755.42,1451.98 762.47,1453.47 769.51,1463.3 776.56,1475.92 783.6,1474.52 790.64,1453.34 797.69,1424.89 804.73,1404.01 811.78,1407.57 818.82,1423.37 825.86,1438.33 832.91,1422.46 839.95,1391.2 847,1356.89 854.04,1332.19 861.08,1317.52 868.13,1309.07 875.17,1302.3 882.22,1297.4 889.26,1294.4 896.3,1292.99 903.35,1291.58 910.39,1291 917.44,1290.68 924.48,1290.35 931.52,1290.81 938.57,1291.26 945.61,1291.81 952.66,1291.81 959.7,1291.81" stroke="#00ffff" stroke-width="2.4"/>
<polyline points="607.5,1304.12 614.54,1312.86 621.59,1319.01 628.63,1325.32 635.68,1332.29 642.72,1343.94 649.76,1359 656.81,1369.52 663.85,1376 670.9,1383.77 677.94,1391.38 684.98,1398.66 692.03,1405.46 699.07,1413.72 706.12,1422.46 713.16,1428.62 720.2,1434.93 727.25,1440.76 734.29,1444.81 741.34,1448.53 748.38,1448.04 755.42,1445.29 762.47,1447.24 769.51,1456.95 776.56,1467.31 783.6,1468.28 790.64,1449.83 797.69,1424.89 804.73,1406.27 811.78,1407.57 818.82,1422.46 825.86,1433.64 832.91,1422.46 839.95,1393.81 847,1361.43 854.04,1336.5 861.08,1321.6 868.13,1311.56 875.17,1304.12 882.22,1299.1 889.26,1296.67 896.3,1294.24 903.35,1292.94 910.39,1292.13 917.44,1291.81 924.48,1291.49 931.52,1291.49 938.57,1291.49 945.61,1291.81 952.66,1291.81 959.7,1291.81" stroke="#00ff00" stroke-width="2.4"/>
<polyline points="607.5,1399.96 614.54,1422.46 621.59,1414.21 628.63,1414.86 635.68,1413.72 642.72,1417.45 649.76,1424.25 656.81,1419.71 663.85,1421.33 670.9,1426.19 677.94,1421.98 684.98,1419.71 692.03,1417.45 699.07,1416.47 706.12,1415.5 713.16,1413.72 720.2,1413.72 727.25,1411.29 734.29,1416.15 741.34,1418.74 748.38,1413.72 755.42,1409.51 762.47,1410 769.51,1413.72 776.56,1418.74 783.6,1417.45 790.64,1408.7 797.69,1392.51 804.73,1380.05 811.78,1377.13 818.82,1386.36 825.86,1391.38 832.91,1385.07 839.95,1370.17 847,1352.69 854.04,1336.5 861.08,1324.19 868.13,1315.29 875.17,1308.32 882.22,1304.12 889.26,1301.53 896.3,1299.1 903.35,1297.48 910.39,1295.86 917.44,1295.05 924.48,1294.56 931.52,1294.24 938.57,1294.24 945.61,1294.24 952.66,1294.73 959.7,1293.43" stroke="#ff00ff" stroke-width="2.4"/>
<polyline points="607.5,1378.91 614.54,1398.02 621.59,1388.14 628.63,1391.38 635.68,1401.9 642.72,1387.33 649.76,1402.55 656.81,1414.53 663.85,1400.61 670.9,1411.94 677.94,1406.27 684.98,1419.71 692.03,1408.06 699.07,1418.09 706.12,1426.67 713.16,1421.65 720.2,1422.95 727.25,1441.08 734.29,1424.89 741.34,1432.66 748.38,1419.71 755.42,1431.05 762.47,1413.24 769.51,1422.95 776.56,1443.67 783.6,1443.19 790.64,1439.95 797.69,1416.96 804.73,1402.55 811.78,1429.1 818.82,1417.45 825.86,1430.4 832.91,1424.89 839.95,1409.51 847,1388.14 854.04,1377.62 861.08,1368.88 868.13,1365.15 875.17,1363.86 882.22,1359 889.26,1359.49 896.3,1356.89 903.35,1362.72 910.39,1357.7 917.44,1359.65 924.48,1357.22 931.52,1356.41 938.57,1354.95 945.61,1357.22 952.66,1355.92 959.7,1360.13" stroke="#000" stroke-width="1.1"/>
<path d="M607.5 1375.31L608.32 1377.78L610.92 1377.8L608.83 1379.35L609.62 1381.83L607.5 1380.31L605.38 1381.83L606.17 1379.35L604.08 1377.8L606.68 1377.78ZM614.54 1394.42L615.37 1396.88L617.97 1396.9L615.88 1398.45L616.66 1400.93L614.54 1399.42L612.43 1400.93L613.21 1398.45L611.12 1396.9L613.72 1396.88ZM621.59 1384.54L622.41 1387.01L625.01 1387.03L622.92 1388.57L623.7 1391.05L621.59 1389.54L619.47 1391.05L620.26 1388.57L618.16 1387.03L620.77 1387.01ZM628.63 1387.78L629.45 1390.25L632.06 1390.27L629.96 1391.81L630.75 1394.29L628.63 1392.78L626.52 1394.29L627.3 1391.81L625.21 1390.27L627.81 1390.25ZM635.68 1398.3L636.5 1400.77L639.1 1400.79L637.01 1402.34L637.79 1404.82L635.68 1403.3L633.56 1404.82L634.34 1402.34L632.25 1400.79L634.85 1400.77ZM642.72 1383.73L643.54 1386.2L646.14 1386.22L644.05 1387.76L644.84 1390.24L642.72 1388.73L640.6 1390.24L641.39 1387.76L639.3 1386.22L641.9 1386.2ZM649.76 1398.95L650.59 1401.42L653.19 1401.44L651.1 1402.98L651.88 1405.46L649.76 1403.95L647.65 1405.46L648.43 1402.98L646.34 1401.44L648.94 1401.42ZM656.81 1410.93L657.63 1413.4L660.23 1413.42L658.14 1414.96L658.92 1417.44L656.81 1415.93L654.69 1417.44L655.48 1414.96L653.38 1413.42L655.99 1413.4ZM663.85 1397.01L664.67 1399.48L667.28 1399.5L665.18 1401.04L665.97 1403.52L663.85 1402.01L661.74 1403.52L662.52 1401.04L660.43 1399.5L663.03 1399.48ZM670.9 1408.34L671.72 1410.81L674.32 1410.83L672.23 1412.37L673.01 1414.85L670.9 1413.34L668.78 1414.85L669.56 1412.37L667.47 1410.83L670.07 1410.81ZM677.94 1402.67L678.76 1405.14L681.36 1405.16L679.27 1406.71L680.06 1409.19L677.94 1407.67L675.82 1409.19L676.61 1406.71L674.52 1405.16L677.12 1405.14ZM684.98 1416.11L685.81 1418.58L688.41 1418.6L686.32 1420.14L687.1 1422.62L684.98 1421.11L682.87 1422.62L683.65 1420.14L681.56 1418.6L684.16 1418.58ZM692.03 1404.46L692.85 1406.92L695.45 1406.94L693.36 1408.49L694.14 1410.97L692.03 1409.46L689.91 1410.97L690.7 1408.49L688.6 1406.94L691.21 1406.92ZM699.07 1414.49L699.89 1416.96L702.5 1416.98L700.4 1418.53L701.19 1421.01L699.07 1419.49L696.96 1421.01L697.74 1418.53L695.65 1416.98L698.25 1416.96ZM706.12 1423.07L706.94 1425.54L709.54 1425.56L707.45 1427.11L708.23 1429.59L706.12 1428.07L704 1429.59L704.78 1427.11L702.69 1425.56L705.29 1425.54ZM713.16 1418.05L713.98 1420.52L716.58 1420.54L714.49 1422.09L715.28 1424.57L713.16 1423.05L711.04 1424.57L711.83 1422.09L709.74 1420.54L712.34 1420.52ZM720.2 1419.35L721.03 1421.82L723.63 1421.84L721.54 1423.38L722.32 1425.86L720.2 1424.35L718.09 1425.86L718.87 1423.38L716.78 1421.84L719.38 1421.82ZM727.25 1437.48L728.07 1439.95L730.67 1439.97L728.58 1441.52L729.36 1444L727.25 1442.48L725.13 1444L725.92 1441.52L723.82 1439.97L726.43 1439.95ZM734.29 1421.29L735.11 1423.76L737.72 1423.78L735.62 1425.33L736.41 1427.81L734.29 1426.29L732.18 1427.81L732.96 1425.33L730.87 1423.78L733.47 1423.76ZM741.34 1429.06L742.16 1431.53L744.76 1431.55L742.67 1433.1L743.45 1435.58L741.34 1434.06L739.22 1435.58L740 1433.1L737.91 1431.55L740.51 1431.53ZM748.38 1416.11L749.2 1418.58L751.8 1418.6L749.71 1420.14L750.5 1422.62L748.38 1421.11L746.26 1422.62L747.05 1420.14L744.96 1418.6L747.56 1418.58ZM755.42 1427.45L756.25 1429.91L758.85 1429.93L756.76 1431.48L757.54 1433.96L755.42 1432.45L753.31 1433.96L754.09 1431.48L752 1429.93L754.6 1429.91ZM762.47 1409.64L763.29 1412.1L765.89 1412.12L763.8 1413.67L764.58 1416.15L762.47 1414.64L760.35 1416.15L761.14 1413.67L759.04 1412.12L761.65 1412.1ZM769.51 1419.35L770.33 1421.82L772.94 1421.84L770.84 1423.38L771.63 1425.86L769.51 1424.35L767.4 1425.86L768.18 1423.38L766.09 1421.84L768.69 1421.82ZM776.56 1440.07L777.38 1442.54L779.98 1442.56L777.89 1444.11L778.67 1446.59L776.56 1445.07L774.44 1446.59L775.22 1444.11L773.13 1442.56L775.73 1442.54ZM783.6 1439.59L784.42 1442.05L787.02 1442.08L784.93 1443.62L785.72 1446.1L783.6 1444.59L781.48 1446.1L782.27 1443.62L780.18 1442.08L782.78 1442.05ZM790.64 1436.35L791.47 1438.82L794.07 1438.84L791.98 1440.38L792.76 1442.86L790.64 1441.35L788.53 1442.86L789.31 1440.38L787.22 1438.84L789.82 1438.82ZM797.69 1413.36L798.51 1415.83L801.11 1415.85L799.02 1417.39L799.8 1419.87L797.69 1418.36L795.57 1419.87L796.36 1417.39L794.26 1415.85L796.87 1415.83ZM804.73 1398.95L805.55 1401.42L808.16 1401.44L806.06 1402.98L806.85 1405.46L804.73 1403.95L802.62 1405.46L803.4 1402.98L801.31 1401.44L803.91 1401.42ZM811.78 1425.5L812.6 1427.97L815.2 1427.99L813.11 1429.53L813.89 1432.01L811.78 1430.5L809.66 1432.01L810.44 1429.53L808.35 1427.99L810.95 1427.97ZM818.82 1413.85L819.64 1416.31L822.24 1416.33L820.15 1417.88L820.94 1420.36L818.82 1418.85L816.7 1420.36L817.49 1417.88L815.4 1416.33L818 1416.31ZM825.86 1426.8L826.69 1429.26L829.29 1429.28L827.2 1430.83L827.98 1433.31L825.86 1431.8L823.75 1433.31L824.53 1430.83L822.44 1429.28L825.04 1429.26ZM832.91 1421.29L833.73 1423.76L836.33 1423.78L834.24 1425.33L835.02 1427.81L832.91 1426.29L830.79 1427.81L831.58 1425.33L829.48 1423.78L832.09 1423.76ZM839.95 1405.91L840.77 1408.38L843.38 1408.4L841.28 1409.94L842.07 1412.42L839.95 1410.91L837.84 1412.42L838.62 1409.94L836.53 1408.4L839.13 1408.38ZM847 1384.54L847.82 1387.01L850.42 1387.03L848.33 1388.57L849.11 1391.05L847 1389.54L844.88 1391.05L845.66 1388.57L843.57 1387.03L846.17 1387.01ZM854.04 1374.02L854.86 1376.49L857.46 1376.51L855.37 1378.05L856.16 1380.53L854.04 1379.02L851.92 1380.53L852.71 1378.05L850.62 1376.51L853.22 1376.49ZM861.08 1365.28L861.91 1367.74L864.51 1367.76L862.42 1369.31L863.2 1371.79L861.08 1370.28L858.97 1371.79L859.75 1369.31L857.66 1367.76L860.26 1367.74ZM868.13 1361.55L868.95 1364.02L871.55 1364.04L869.46 1365.58L870.24 1368.06L868.13 1366.55L866.01 1368.06L866.8 1365.58L864.7 1364.04L867.31 1364.02ZM875.17 1360.26L875.99 1362.72L878.6 1362.74L876.5 1364.29L877.29 1366.77L875.17 1365.26L873.06 1366.77L873.84 1364.29L871.75 1362.74L874.35 1362.72ZM882.22 1355.4L883.04 1357.87L885.64 1357.89L883.55 1359.43L884.33 1361.91L882.22 1360.4L880.1 1361.91L880.88 1359.43L878.79 1357.89L881.39 1357.87ZM889.26 1355.89L890.08 1358.35L892.68 1358.37L890.59 1359.92L891.38 1362.4L889.26 1360.89L887.14 1362.4L887.93 1359.92L885.84 1358.37L888.44 1358.35ZM896.3 1353.29L897.13 1355.76L899.73 1355.78L897.64 1357.33L898.42 1359.81L896.3 1358.29L894.19 1359.81L894.97 1357.33L892.88 1355.78L895.48 1355.76ZM903.35 1359.12L904.17 1361.59L906.77 1361.61L904.68 1363.16L905.46 1365.64L903.35 1364.12L901.23 1365.64L902.02 1363.16L899.92 1361.61L902.53 1361.59ZM910.39 1354.1L911.21 1356.57L913.82 1356.59L911.72 1358.14L912.51 1360.62L910.39 1359.1L908.28 1360.62L909.06 1358.14L906.97 1356.59L909.57 1356.57ZM917.44 1356.05L918.26 1358.51L920.86 1358.53L918.77 1360.08L919.55 1362.56L917.44 1361.05L915.32 1362.56L916.1 1360.08L914.01 1358.53L916.61 1358.51ZM924.48 1353.62L925.3 1356.09L927.9 1356.11L925.81 1357.65L926.6 1360.13L924.48 1358.62L922.36 1360.13L923.15 1357.65L921.06 1356.11L923.66 1356.09ZM931.52 1352.81L932.35 1355.28L934.95 1355.3L932.86 1356.84L933.64 1359.32L931.52 1357.81L929.41 1359.32L930.19 1356.84L928.1 1355.3L930.7 1355.28ZM938.57 1351.35L939.39 1353.82L941.99 1353.84L939.9 1355.38L940.68 1357.86L938.57 1356.35L936.45 1357.86L937.24 1355.38L935.14 1353.84L937.75 1353.82ZM945.61 1353.62L946.43 1356.09L949.04 1356.11L946.94 1357.65L947.73 1360.13L945.61 1358.62L943.5 1360.13L944.28 1357.65L942.19 1356.11L944.79 1356.09ZM952.66 1352.32L953.48 1354.79L956.08 1354.81L953.99 1356.36L954.77 1358.84L952.66 1357.32L950.54 1358.84L951.32 1356.36L949.23 1354.81L951.83 1354.79ZM959.7 1356.53L960.52 1359L963.12 1359.02L961.03 1360.57L961.82 1363.05L959.7 1361.53L957.58 1363.05L958.37 1360.57L956.28 1359.02L958.88 1359Z" fill="#000" stroke="none"/>
</g>
<text transform="translate(607.5 1534.9) scale(0.977 1)" font-size="23" text-anchor="middle">260</text>
<text transform="translate(677.94 1534.9) scale(0.977 1)" font-size="23" text-anchor="middle">270</text>
<text transform="translate(748.38 1534.9) scale(0.977 1)" font-size="23" text-anchor="middle">280</text>
<text transform="translate(818.82 1534.9) scale(0.977 1)" font-size="23" text-anchor="middle">290</text>
<text transform="translate(889.26 1534.9) scale(0.977 1)" font-size="23" text-anchor="middle">300</text>
<text transform="translate(959.7 1534.9) scale(0.977 1)" font-size="23" text-anchor="middle">310</text>
<text transform="translate(597.2 1301.58) scale(0.977 1)" font-size="23" text-anchor="end">0</text>
<text transform="translate(597.2 1382.53) scale(0.977 1)" font-size="23" text-anchor="end">-5</text>
<text transform="translate(597.2 1463.48) scale(0.977 1)" font-size="23" text-anchor="end">-10</text>
<text transform="translate(784.2 1560.4) scale(0.929 1)" font-size="23.7" font-weight="bold" text-anchor="middle">Wavelength (nm)</text>
<text transform="translate(569 1376.7) rotate(-90) scale(0.98 1)" font-size="23.5" font-weight="bold" text-anchor="middle">mdeg</text>
<text transform="translate(715.51 1251.2) scale(0.9076 1)" font-size="31" font-weight="bold">UP1 RRM1</text>
<text transform="translate(755 1403) scale(0.955 1)" font-size="15.7">60°C</text>
<text transform="translate(798.7 1465) scale(0.955 1)" font-size="15.7">20-50°C</text>
<rect x="1159.7" y="1260.3" width="352.9" height="243.6" fill="none" stroke="#000" stroke-width="3.6"/>
<path d="M1159.7 1503.9V1513.4M1230.28 1503.9V1513.4M1300.86 1503.9V1513.4M1371.44 1503.9V1513.4M1442.02 1503.9V1513.4M1512.6 1503.9V1513.4M1159.7 1295.1H1150.2M1159.7 1382.1H1150.2M1159.7 1469.1H1150.2" stroke="#000" stroke-width="3.4" fill="none"/>
<line x1="1161.5" y1="1295.1" x2="1512.6" y2="1295.1" stroke="#000" stroke-width="1" stroke-dasharray="1 1.2"/>
<g fill="none" stroke-linejoin="round" stroke-linecap="butt">
<polyline points="1159.7,1356.52 1166.76,1369.75 1173.82,1374.44 1180.87,1372.7 1187.93,1368.88 1194.99,1372.7 1202.05,1390.28 1209.11,1412.72 1216.16,1427.34 1223.22,1422.82 1230.28,1415.16 1237.34,1417.25 1244.4,1422.82 1251.45,1429.08 1258.51,1435.34 1265.57,1439.52 1272.63,1440.39 1279.69,1432.56 1286.74,1426.47 1293.8,1418.29 1300.86,1413.25 1307.92,1413.25 1314.98,1409.07 1322.03,1401.24 1329.09,1382.8 1336.15,1361.39 1343.21,1341.38 1350.27,1326.42 1357.32,1315.11 1364.38,1306.41 1371.44,1301.36 1378.5,1298.93 1385.56,1297.54 1392.61,1296.84 1399.67,1296.32 1406.73,1296.32 1413.79,1296.32 1420.85,1296.32 1427.9,1296.32 1434.96,1296.32 1442.02,1296.32 1449.08,1296.32 1456.14,1296.32 1463.19,1296.32 1470.25,1296.32 1477.31,1296.32 1484.37,1296.32 1491.43,1296.32 1498.48,1296.32 1505.54,1296.32 1512.6,1296.32" stroke="#0000ff" stroke-width="2.4"/>
<polyline points="1159.7,1352.52 1166.76,1364.7 1173.82,1370.79 1180.87,1369.05 1187.93,1365.74 1194.99,1366.44 1202.05,1383.84 1209.11,1406.46 1216.16,1420.73 1223.22,1417.77 1230.28,1410.29 1237.34,1410.81 1244.4,1415.16 1251.45,1420.38 1258.51,1425.25 1265.57,1429.6 1272.63,1428.21 1279.69,1423.34 1286.74,1415.16 1293.8,1409.07 1300.86,1404.55 1307.92,1402.98 1314.98,1401.94 1322.03,1395.32 1329.09,1377.75 1336.15,1357.74 1343.21,1338.95 1350.27,1324.68 1357.32,1314.24 1364.38,1305.89 1371.44,1301.02 1378.5,1298.58 1385.56,1297.36 1392.61,1296.84 1399.67,1296.32 1406.73,1296.32 1413.79,1296.32 1420.85,1296.32 1427.9,1296.32 1434.96,1296.32 1442.02,1296.32 1449.08,1296.32 1456.14,1296.32 1463.19,1296.32 1470.25,1296.32 1477.31,1296.32 1484.37,1296.32 1491.43,1296.32 1498.48,1296.32 1505.54,1296.32 1512.6,1296.32" stroke="#996633" stroke-width="2.4"/>
<polyline points="1159.7,1349.04 1166.76,1360.18 1173.82,1366.44 1180.87,1364 1187.93,1358.96 1194.99,1358.96 1202.05,1375.14 1209.11,1395.32 1216.16,1411.68 1223.22,1409.07 1230.28,1401.94 1237.34,1401.07 1244.4,1405.24 1251.45,1409.07 1258.51,1413.94 1265.57,1417.25 1272.63,1417.77 1279.69,1412.2 1286.74,1405.76 1293.8,1399.67 1300.86,1395.67 1307.92,1394.8 1314.98,1391.5 1322.03,1386.45 1329.09,1372.18 1336.15,1353.22 1343.21,1336.34 1350.27,1322.59 1357.32,1312.5 1364.38,1305.19 1371.44,1300.67 1378.5,1298.23 1385.56,1297.19 1392.61,1296.67 1399.67,1296.32 1406.73,1296.32 1413.79,1296.32 1420.85,1296.32 1427.9,1296.32 1434.96,1296.32 1442.02,1296.32 1449.08,1296.3 1456.14,1296.28 1463.19,1296.27 1470.25,1296.25 1477.31,1296.23 1484.37,1296.21 1491.43,1296.2 1498.48,1296.18 1505.54,1296.16 1512.6,1296.14" stroke="#00ffff" stroke-width="2.4"/>
<polyline points="1159.7,1345.21 1166.76,1353.91 1173.82,1360.18 1180.87,1357.22 1187.93,1353.39 1194.99,1353.22 1202.05,1366.44 1209.11,1385.23 1216.16,1400.2 1223.22,1400.2 1230.28,1392.19 1237.34,1389.06 1244.4,1389.06 1251.45,1393.93 1258.51,1397.76 1265.57,1401.59 1272.63,1406.46 1279.69,1399.5 1286.74,1393.93 1293.8,1389.06 1300.86,1385.23 1307.92,1383.14 1314.98,1381.4 1322.03,1375.66 1329.09,1364 1336.15,1348.17 1343.21,1333.21 1350.27,1320.68 1357.32,1311.46 1364.38,1304.67 1371.44,1300.15 1378.5,1297.54 1385.56,1296.67 1392.61,1296.32 1399.67,1296.14 1406.73,1296.12 1413.79,1296.09 1420.85,1296.06 1427.9,1296.03 1434.96,1296 1442.02,1295.97 1449.08,1295.88 1456.14,1295.8 1463.19,1295.71 1470.25,1295.62 1477.31,1295.54 1484.37,1295.45 1491.43,1295.36 1498.48,1295.27 1505.54,1295.19 1512.6,1295.1" stroke="#00ff00" stroke-width="2.4"/>
<polyline points="1159.7,1341.38 1166.76,1349.04 1173.82,1354.61 1180.87,1351.48 1187.93,1344.69 1194.99,1344.69 1202.05,1356.52 1209.11,1373.92 1216.16,1387.67 1223.22,1387.67 1230.28,1380.36 1237.34,1375.66 1244.4,1377.23 1251.45,1380.36 1258.51,1383.14 1265.57,1385.93 1272.63,1387.32 1279.69,1385.58 1286.74,1382.1 1293.8,1377.75 1300.86,1372.7 1307.92,1370.27 1314.98,1368.88 1322.03,1366.44 1329.09,1356.52 1336.15,1342.6 1343.21,1330.07 1350.27,1318.94 1357.32,1310.06 1364.38,1303.8 1371.44,1299.62 1378.5,1297.54 1385.56,1296.67 1392.61,1296.32 1399.67,1296.14 1406.73,1296.14 1413.79,1296.14 1420.85,1296.14 1427.9,1296.14 1434.96,1296.14 1442.02,1296.14 1449.08,1296.18 1456.14,1296.21 1463.19,1296.25 1470.25,1296.28 1477.31,1296.32 1484.37,1296.35 1491.43,1296.39 1498.48,1296.42 1505.54,1296.46 1512.6,1296.49" stroke="#ff00ff" stroke-width="2.4"/>
<polyline points="1159.7,1336.34 1166.76,1337.73 1173.82,1338.08 1180.87,1331.47 1187.93,1322.59 1194.99,1318.07 1202.05,1326.42 1209.11,1337.73 1216.16,1349.74 1223.22,1348.87 1230.28,1341.38 1237.34,1336.34 1244.4,1335.12 1251.45,1335.64 1258.51,1336.34 1265.57,1337.21 1272.63,1339.47 1279.69,1336.34 1286.74,1336.34 1293.8,1333.9 1300.86,1330.6 1307.92,1331.99 1314.98,1331.47 1322.03,1330.07 1329.09,1326.42 1336.15,1320.16 1343.21,1314.59 1350.27,1309.54 1357.32,1305.19 1364.38,1301.36 1371.44,1298.93 1378.5,1297.54 1385.56,1296.84 1392.61,1296.49 1399.67,1296.32 1406.73,1296.32 1413.79,1296.32 1420.85,1296.32 1427.9,1296.32 1434.96,1296.32 1442.02,1296.32 1449.08,1296.32 1456.14,1296.32 1463.19,1296.32 1470.25,1296.32 1477.31,1296.32 1484.37,1296.32 1491.43,1296.32 1498.48,1296.32 1505.54,1296.32 1512.6,1296.32" stroke="#ff7f0e" stroke-width="2.4"/>
<polyline points="1159.7,1331.47 1166.76,1333.21 1173.82,1331.47 1180.87,1322.59 1187.93,1311.46 1194.99,1304.67 1202.05,1308.15 1209.11,1316.33 1216.16,1324.33 1223.22,1323.81 1230.28,1317.2 1237.34,1309.54 1244.4,1305.19 1251.45,1303.8 1258.51,1302.58 1265.57,1303.8 1272.63,1303.1 1279.69,1304.67 1286.74,1302.58 1293.8,1303.1 1300.86,1304.67 1307.92,1305.54 1314.98,1304.67 1322.03,1305.54 1329.09,1306.41 1336.15,1303.1 1343.21,1301.36 1350.27,1300.15 1357.32,1298.93 1364.38,1297.54 1371.44,1297.19 1378.5,1296.84 1385.56,1296.67 1392.61,1296.62 1399.67,1296.58 1406.73,1296.54 1413.79,1296.49 1420.85,1296.45 1427.9,1296.4 1434.96,1296.36 1442.02,1296.32 1449.08,1296.34 1456.14,1296.35 1463.19,1296.37 1470.25,1296.39 1477.31,1296.4 1484.37,1296.42 1491.43,1296.44 1498.48,1296.46 1505.54,1296.47 1512.6,1296.49" stroke="#800080" stroke-width="2.4"/>
<polyline points="1159.7,1336.34 1166.76,1334.6 1173.82,1332.68 1180.87,1322.59 1187.93,1312.15 1194.99,1305.54 1202.05,1306.41 1209.11,1313.89 1216.16,1320.85 1223.22,1320.85 1230.28,1314.59 1237.34,1307.11 1244.4,1302.58 1251.45,1301.36 1258.51,1299.62 1265.57,1302.06 1272.63,1300.67 1279.69,1301.36 1286.74,1300.15 1293.8,1301.36 1300.86,1300.84 1307.92,1302.06 1314.98,1301.36 1322.03,1300.15 1329.09,1300.84 1336.15,1299.62 1343.21,1298.93 1350.27,1298.06 1357.32,1297.54 1364.38,1297.19 1371.44,1297.19 1378.5,1296.84 1385.56,1296.67 1392.61,1296.67 1399.67,1296.67 1406.73,1296.67 1413.79,1296.67 1420.85,1296.67 1427.9,1296.67 1434.96,1296.67 1442.02,1296.67 1449.08,1296.67 1456.14,1296.67 1463.19,1296.67 1470.25,1296.67 1477.31,1296.67 1484.37,1296.67 1491.43,1296.67 1498.48,1296.67 1505.54,1296.67 1512.6,1296.67" stroke="#ff0000" stroke-width="2.4"/>
<polyline points="1159.7,1371.49 1166.76,1382.1 1173.82,1387.32 1180.87,1389.76 1187.93,1386.45 1194.99,1391.5 1202.05,1407.68 1209.11,1433.26 1216.16,1451 1223.22,1447.35 1230.28,1440.39 1237.34,1439.52 1244.4,1449.61 1251.45,1452.74 1258.51,1455.18 1265.57,1465.27 1272.63,1468.4 1279.69,1465.62 1286.74,1451 1293.8,1440.39 1300.86,1443.35 1307.92,1436.56 1314.98,1435.34 1322.03,1429.78 1329.09,1409.94 1336.15,1391.5 1343.21,1370.79 1350.27,1351.48 1357.32,1343.12 1364.38,1333.21 1371.44,1327.12 1378.5,1324.68 1385.56,1323.11 1392.61,1322.59 1399.67,1321.37 1406.73,1322.07 1413.79,1322.07 1420.85,1321.72 1427.9,1322.07 1434.96,1322.42 1442.02,1318.94 1449.08,1320.85 1456.14,1321.2 1463.19,1321.55 1470.25,1321.2 1477.31,1322.07 1484.37,1321.2 1491.43,1320.68 1498.48,1320.33 1505.54,1322.07 1512.6,1321.2" stroke="#000" stroke-width="1.1"/>
<path d="M1159.7 1367.89L1160.52 1370.35L1163.12 1370.37L1161.03 1371.92L1161.82 1374.4L1159.7 1372.89L1157.58 1374.4L1158.37 1371.92L1156.28 1370.37L1158.88 1370.35ZM1166.76 1378.5L1167.58 1380.97L1170.18 1380.99L1168.09 1382.53L1168.87 1385.01L1166.76 1383.5L1164.64 1385.01L1165.43 1382.53L1163.33 1380.99L1165.94 1380.97ZM1173.82 1383.72L1174.64 1386.19L1177.24 1386.21L1175.15 1387.75L1175.93 1390.23L1173.82 1388.72L1171.7 1390.23L1172.48 1387.75L1170.39 1386.21L1172.99 1386.19ZM1180.87 1386.16L1181.7 1388.62L1184.3 1388.64L1182.21 1390.19L1182.99 1392.67L1180.87 1391.16L1178.76 1392.67L1179.54 1390.19L1177.45 1388.64L1180.05 1388.62ZM1187.93 1382.85L1188.75 1385.32L1191.36 1385.34L1189.26 1386.88L1190.05 1389.36L1187.93 1387.85L1185.82 1389.36L1186.6 1386.88L1184.51 1385.34L1187.11 1385.32ZM1194.99 1387.9L1195.81 1390.36L1198.41 1390.38L1196.32 1391.93L1197.11 1394.41L1194.99 1392.9L1192.87 1394.41L1193.66 1391.93L1191.57 1390.38L1194.17 1390.36ZM1202.05 1404.08L1202.87 1406.55L1205.47 1406.57L1203.38 1408.11L1204.16 1410.59L1202.05 1409.08L1199.93 1410.59L1200.72 1408.11L1198.62 1406.57L1201.23 1406.55ZM1209.11 1429.66L1209.93 1432.12L1212.53 1432.14L1210.44 1433.69L1211.22 1436.17L1209.11 1434.66L1206.99 1436.17L1207.77 1433.69L1205.68 1432.14L1208.28 1432.12ZM1216.16 1447.4L1216.99 1449.87L1219.59 1449.89L1217.5 1451.44L1218.28 1453.92L1216.16 1452.4L1214.05 1453.92L1214.83 1451.44L1212.74 1449.89L1215.34 1449.87ZM1223.22 1443.75L1224.04 1446.22L1226.65 1446.24L1224.55 1447.78L1225.34 1450.26L1223.22 1448.75L1221.11 1450.26L1221.89 1447.78L1219.8 1446.24L1222.4 1446.22ZM1230.28 1436.79L1231.1 1439.26L1233.7 1439.28L1231.61 1440.82L1232.4 1443.3L1230.28 1441.79L1228.16 1443.3L1228.95 1440.82L1226.86 1439.28L1229.46 1439.26ZM1237.34 1435.92L1238.16 1438.39L1240.76 1438.41L1238.67 1439.95L1239.45 1442.43L1237.34 1440.92L1235.22 1442.43L1236.01 1439.95L1233.91 1438.41L1236.52 1438.39ZM1244.4 1446.01L1245.22 1448.48L1247.82 1448.5L1245.73 1450.04L1246.51 1452.52L1244.4 1451.01L1242.28 1452.52L1243.06 1450.04L1240.97 1448.5L1243.57 1448.48ZM1251.45 1449.14L1252.28 1451.61L1254.88 1451.63L1252.79 1453.18L1253.57 1455.66L1251.45 1454.14L1249.34 1455.66L1250.12 1453.18L1248.03 1451.63L1250.63 1451.61ZM1258.51 1451.58L1259.33 1454.05L1261.94 1454.07L1259.84 1455.61L1260.63 1458.09L1258.51 1456.58L1256.4 1458.09L1257.18 1455.61L1255.09 1454.07L1257.69 1454.05ZM1265.57 1461.67L1266.39 1464.14L1268.99 1464.16L1266.9 1465.7L1267.69 1468.18L1265.57 1466.67L1263.45 1468.18L1264.24 1465.7L1262.15 1464.16L1264.75 1464.14ZM1272.63 1464.8L1273.45 1467.27L1276.05 1467.29L1273.96 1468.84L1274.74 1471.32L1272.63 1469.8L1270.51 1471.32L1271.3 1468.84L1269.2 1467.29L1271.81 1467.27ZM1279.69 1462.02L1280.51 1464.49L1283.11 1464.51L1281.02 1466.05L1281.8 1468.53L1279.69 1467.02L1277.57 1468.53L1278.35 1466.05L1276.26 1464.51L1278.86 1464.49ZM1286.74 1447.4L1287.57 1449.87L1290.17 1449.89L1288.08 1451.44L1288.86 1453.92L1286.74 1452.4L1284.63 1453.92L1285.41 1451.44L1283.32 1449.89L1285.92 1449.87ZM1293.8 1436.79L1294.62 1439.26L1297.23 1439.28L1295.13 1440.82L1295.92 1443.3L1293.8 1441.79L1291.69 1443.3L1292.47 1440.82L1290.38 1439.28L1292.98 1439.26ZM1300.86 1439.75L1301.68 1442.22L1304.28 1442.24L1302.19 1443.78L1302.98 1446.26L1300.86 1444.75L1298.74 1446.26L1299.53 1443.78L1297.44 1442.24L1300.04 1442.22ZM1307.92 1432.96L1308.74 1435.43L1311.34 1435.45L1309.25 1436.99L1310.03 1439.47L1307.92 1437.96L1305.8 1439.47L1306.59 1436.99L1304.49 1435.45L1307.1 1435.43ZM1314.98 1431.74L1315.8 1434.21L1318.4 1434.23L1316.31 1435.78L1317.09 1438.26L1314.98 1436.74L1312.86 1438.26L1313.64 1435.78L1311.55 1434.23L1314.15 1434.21ZM1322.03 1426.18L1322.86 1428.64L1325.46 1428.66L1323.37 1430.21L1324.15 1432.69L1322.03 1431.18L1319.92 1432.69L1320.7 1430.21L1318.61 1428.66L1321.21 1428.64ZM1329.09 1406.34L1329.91 1408.81L1332.52 1408.83L1330.42 1410.37L1331.21 1412.85L1329.09 1411.34L1326.98 1412.85L1327.76 1410.37L1325.67 1408.83L1328.27 1408.81ZM1336.15 1387.9L1336.97 1390.36L1339.57 1390.38L1337.48 1391.93L1338.27 1394.41L1336.15 1392.9L1334.03 1394.41L1334.82 1391.93L1332.73 1390.38L1335.33 1390.36ZM1343.21 1367.19L1344.03 1369.66L1346.63 1369.68L1344.54 1371.22L1345.32 1373.7L1343.21 1372.19L1341.09 1373.7L1341.88 1371.22L1339.78 1369.68L1342.39 1369.66ZM1350.27 1347.88L1351.09 1350.34L1353.69 1350.36L1351.6 1351.91L1352.38 1354.39L1350.27 1352.88L1348.15 1354.39L1348.93 1351.91L1346.84 1350.36L1349.44 1350.34ZM1357.32 1339.52L1358.15 1341.99L1360.75 1342.01L1358.66 1343.56L1359.44 1346.04L1357.32 1344.52L1355.21 1346.04L1355.99 1343.56L1353.9 1342.01L1356.5 1341.99ZM1364.38 1329.61L1365.2 1332.07L1367.81 1332.09L1365.71 1333.64L1366.5 1336.12L1364.38 1334.61L1362.27 1336.12L1363.05 1333.64L1360.96 1332.09L1363.56 1332.07ZM1371.44 1323.52L1372.26 1325.98L1374.86 1326L1372.77 1327.55L1373.56 1330.03L1371.44 1328.52L1369.32 1330.03L1370.11 1327.55L1368.02 1326L1370.62 1325.98ZM1378.5 1321.08L1379.32 1323.55L1381.92 1323.57L1379.83 1325.11L1380.61 1327.59L1378.5 1326.08L1376.38 1327.59L1377.17 1325.11L1375.07 1323.57L1377.68 1323.55ZM1385.56 1319.51L1386.38 1321.98L1388.98 1322L1386.89 1323.55L1387.67 1326.03L1385.56 1324.51L1383.44 1326.03L1384.22 1323.55L1382.13 1322L1384.73 1321.98ZM1392.61 1318.99L1393.44 1321.46L1396.04 1321.48L1393.95 1323.02L1394.73 1325.5L1392.61 1323.99L1390.5 1325.5L1391.28 1323.02L1389.19 1321.48L1391.79 1321.46ZM1399.67 1317.77L1400.49 1320.24L1403.1 1320.26L1401 1321.81L1401.79 1324.29L1399.67 1322.77L1397.56 1324.29L1398.34 1321.81L1396.25 1320.26L1398.85 1320.24ZM1406.73 1318.47L1407.55 1320.94L1410.15 1320.96L1408.06 1322.5L1408.85 1324.98L1406.73 1323.47L1404.61 1324.98L1405.4 1322.5L1403.31 1320.96L1405.91 1320.94ZM1413.79 1318.47L1414.61 1320.94L1417.21 1320.96L1415.12 1322.5L1415.9 1324.98L1413.79 1323.47L1411.67 1324.98L1412.46 1322.5L1410.36 1320.96L1412.97 1320.94ZM1420.85 1318.12L1421.67 1320.59L1424.27 1320.61L1422.18 1322.15L1422.96 1324.63L1420.85 1323.12L1418.73 1324.63L1419.51 1322.15L1417.42 1320.61L1420.02 1320.59ZM1427.9 1318.47L1428.73 1320.94L1431.33 1320.96L1429.24 1322.5L1430.02 1324.98L1427.9 1323.47L1425.79 1324.98L1426.57 1322.5L1424.48 1320.96L1427.08 1320.94ZM1434.96 1318.82L1435.78 1321.29L1438.39 1321.31L1436.29 1322.85L1437.08 1325.33L1434.96 1323.82L1432.85 1325.33L1433.63 1322.85L1431.54 1321.31L1434.14 1321.29ZM1442.02 1315.34L1442.84 1317.81L1445.44 1317.83L1443.35 1319.37L1444.14 1321.85L1442.02 1320.34L1439.9 1321.85L1440.69 1319.37L1438.6 1317.83L1441.2 1317.81ZM1449.08 1317.25L1449.9 1319.72L1452.5 1319.74L1450.41 1321.28L1451.19 1323.76L1449.08 1322.25L1446.96 1323.76L1447.75 1321.28L1445.65 1319.74L1448.26 1319.72ZM1456.14 1317.6L1456.96 1320.07L1459.56 1320.09L1457.47 1321.63L1458.25 1324.11L1456.14 1322.6L1454.02 1324.11L1454.8 1321.63L1452.71 1320.09L1455.31 1320.07ZM1463.19 1317.95L1464.02 1320.42L1466.62 1320.44L1464.53 1321.98L1465.31 1324.46L1463.19 1322.95L1461.08 1324.46L1461.86 1321.98L1459.77 1320.44L1462.37 1320.42ZM1470.25 1317.6L1471.07 1320.07L1473.68 1320.09L1471.58 1321.63L1472.37 1324.11L1470.25 1322.6L1468.14 1324.11L1468.92 1321.63L1466.83 1320.09L1469.43 1320.07ZM1477.31 1318.47L1478.13 1320.94L1480.73 1320.96L1478.64 1322.5L1479.43 1324.98L1477.31 1323.47L1475.19 1324.98L1475.98 1322.5L1473.89 1320.96L1476.49 1320.94ZM1484.37 1317.6L1485.19 1320.07L1487.79 1320.09L1485.7 1321.63L1486.48 1324.11L1484.37 1322.6L1482.25 1324.11L1483.04 1321.63L1480.94 1320.09L1483.55 1320.07ZM1491.43 1317.08L1492.25 1319.55L1494.85 1319.57L1492.76 1321.11L1493.54 1323.59L1491.43 1322.08L1489.31 1323.59L1490.09 1321.11L1488 1319.57L1490.6 1319.55ZM1498.48 1316.73L1499.31 1319.2L1501.91 1319.22L1499.82 1320.76L1500.6 1323.24L1498.48 1321.73L1496.37 1323.24L1497.15 1320.76L1495.06 1319.22L1497.66 1319.2ZM1505.54 1318.47L1506.36 1320.94L1508.97 1320.96L1506.87 1322.5L1507.66 1324.98L1505.54 1323.47L1503.43 1324.98L1504.21 1322.5L1502.12 1320.96L1504.72 1320.94ZM1512.6 1317.6L1513.42 1320.07L1516.02 1320.09L1513.93 1321.63L1514.72 1324.11L1512.6 1322.6L1510.48 1324.11L1511.27 1321.63L1509.18 1320.09L1511.78 1320.07Z" fill="#000" stroke="none"/>
</g>
<text transform="translate(1159.7 1534.9) scale(0.977 1)" font-size="23" text-anchor="middle">260</text>
<text transform="translate(1230.28 1534.9) scale(0.977 1)" font-size="23" text-anchor="middle">270</text>
<text transform="translate(1300.86 1534.9) scale(0.977 1)" font-size="23" text-anchor="middle">280</text>
<text transform="translate(1371.44 1534.9) scale(0.977 1)" font-size="23" text-anchor="middle">290</text>
<text transform="translate(1442.02 1534.9) scale(0.977 1)" font-size="23" text-anchor="middle">300</text>
<text transform="translate(1512.6 1534.9) scale(0.977 1)" font-size="23" text-anchor="middle">310</text>
<text transform="translate(1149.4 1303.25) scale(0.977 1)" font-size="23" text-anchor="end">0</text>
<text transform="translate(1149.4 1390.25) scale(0.977 1)" font-size="23" text-anchor="end">-5</text>
<text transform="translate(1149.4 1477.25) scale(0.977 1)" font-size="23" text-anchor="end">-10</text>
<text transform="translate(1336.75 1560.4) scale(0.929 1)" font-size="23.7" font-weight="bold" text-anchor="middle">Wavelength (nm)</text>
<text transform="translate(1123 1375) rotate(-90) scale(0.98 1)" font-size="23.5" font-weight="bold" text-anchor="middle">mdeg</text>
<text transform="translate(1252.1 1250.3) scale(0.9183 1)" font-size="31" font-weight="bold">PABP RRM4</text>
<text transform="translate(1263 1293) scale(0.955 1)" font-size="15.7">80-90°C</text>
<text transform="translate(1258.7 1332.5) scale(0.955 1)" font-size="15.7">70°C</text>
<text transform="translate(1240.7 1374.2) scale(0.955 1)" font-size="15.7">20-60°C</text>
<rect x="54.05" y="1621.2" width="353.75" height="244.25" fill="none" stroke="#000" stroke-width="3.6"/>
<path d="M54.05 1865.45V1871.85M124.8 1865.45V1871.85M195.55 1865.45V1871.85M266.3 1865.45V1871.85M337.05 1865.45V1871.85M407.8 1865.45V1871.85M54.05 1621.2H47.65M54.05 1670.05H47.65M54.05 1718.9H47.65M54.05 1767.75H47.65M54.05 1816.6H47.65M54.05 1865.45H47.65" stroke="#000" stroke-width="3.4" fill="none"/>
<line x1="55.85" y1="1718.9" x2="407.8" y2="1718.9" stroke="#000" stroke-width="1" stroke-dasharray="1 1.2"/>
<g fill="none" stroke-linejoin="round" stroke-linecap="butt">
<polyline points="54.05,1810.74 61.12,1818.55 68.2,1808.3 75.27,1780.45 82.35,1754.07 89.42,1749.68 96.5,1757.98 103.58,1782.89 110.65,1813.67 117.72,1782.89 124.8,1749.19 131.88,1732.58 138.95,1725.25 146.03,1729.65 153.1,1727.69 160.18,1732.58 167.25,1729.65 174.32,1725.25 181.4,1723.79 188.48,1720.37 195.55,1722.32 202.62,1725.25 209.7,1726.23 216.77,1730.14 223.85,1726.23 230.93,1723.79 238,1714.99 245.07,1703.76 252.15,1697.41 259.22,1697.89 266.3,1703.76 273.38,1708.64 280.45,1708.15 287.53,1705.71 294.6,1703.76 301.67,1702.29 308.75,1707.18 315.82,1710.11 322.9,1711.57 329.98,1716.46 337.05,1720.37 344.12,1719.39 351.2,1721.34 358.28,1722.81 365.35,1723.3 372.43,1723.79 379.5,1723.3 386.57,1723.79 393.65,1726.23 400.73,1721.34 407.8,1723.3" stroke="#0000ff" stroke-width="2.4"/>
<polyline points="54.05,1787.78 61.12,1799.99 68.2,1791.69 75.27,1765.31 82.35,1745.28 89.42,1737.46 96.5,1741.37 103.58,1766.77 110.65,1794.13 117.72,1766.77 124.8,1737.95 131.88,1725.25 138.95,1717.92 146.03,1716.46 153.1,1720.37 160.18,1718.9 167.25,1722.81 174.32,1726.23 181.4,1721.34 188.48,1717.92 195.55,1721.34 202.62,1723.79 209.7,1725.25 216.77,1730.62 223.85,1730.14 230.93,1725.74 238,1716.46 245.07,1709.62 252.15,1705.71 259.22,1706.2 266.3,1710.11 273.38,1714.99 280.45,1714.99 287.53,1714.02 294.6,1709.62 301.67,1710.11 308.75,1711.57 315.82,1712.55 322.9,1716.46 329.98,1718.9 337.05,1720.37 344.12,1721.34 351.2,1722.81 358.28,1723.3 365.35,1723.79 372.43,1723.79 379.5,1723.3 386.57,1723.79 393.65,1723.79 400.73,1723.79 407.8,1723.79" stroke="#996633" stroke-width="2.4"/>
<polyline points="54.05,1756.51 61.12,1769.22 68.2,1766.77 75.27,1745.28 82.35,1722.81 89.42,1710.11 96.5,1720.37 103.58,1740.39 110.65,1762.87 117.72,1746.74 124.8,1720.37 131.88,1708.64 138.95,1703.76 146.03,1701.31 153.1,1703.76 160.18,1706.2 167.25,1711.57 174.32,1712.55 181.4,1710.11 188.48,1705.71 195.55,1712.55 202.62,1710.11 209.7,1714.99 216.77,1719.39 223.85,1716.46 230.93,1720.37 238,1714.02 245.07,1709.62 252.15,1706.2 259.22,1707.66 266.3,1711.57 273.38,1714.02 280.45,1713.53 287.53,1714.02 294.6,1711.57 301.67,1712.55 308.75,1713.04 315.82,1712.55 322.9,1714.99 329.98,1717.92 337.05,1720.37 344.12,1721.34 351.2,1722.32 358.28,1722.81 365.35,1723.3 372.43,1723.3 379.5,1723.3 386.57,1723.3 393.65,1723.79 400.73,1723.79 407.8,1723.3" stroke="#00ffff" stroke-width="2.4"/>
<polyline points="54.05,1719.88 61.12,1728.18 68.2,1731.6 75.27,1710.11 82.35,1691.06 89.42,1680.8 96.5,1681.77 103.58,1699.85 110.65,1717.43 117.72,1712.55 124.8,1702.78 131.88,1684.22 138.95,1683.73 146.03,1679.82 153.1,1679.82 160.18,1683.73 167.25,1691.54 174.32,1688.12 181.4,1689.1 188.48,1693.99 195.55,1697.89 202.62,1702.78 209.7,1697.41 216.77,1703.27 223.85,1709.62 230.93,1708.15 238,1706.2 245.07,1707.18 252.15,1705.22 259.22,1714.02 266.3,1722.81 273.38,1729.65 280.45,1726.23 287.53,1731.6 294.6,1725.74 301.67,1723.79 308.75,1723.79 315.82,1722.32 322.9,1725.74 329.98,1727.2 337.05,1730.62 344.12,1732.09 351.2,1734.04 358.28,1737.46 365.35,1738.44 372.43,1742.84 379.5,1741.86 386.57,1741.37 393.65,1741.37 400.73,1742.35 407.8,1740.88" stroke="#00ff00" stroke-width="2.4"/>
<polyline points="54.05,1741.86 61.12,1747.23 68.2,1746.74 75.27,1730.14 82.35,1714.02 89.42,1700.34 96.5,1703.76 103.58,1716.46 110.65,1730.14 117.72,1734.53 124.8,1722.81 131.88,1710.11 138.95,1703.76 146.03,1695.45 153.1,1700.34 160.18,1703.27 167.25,1702.29 174.32,1708.15 181.4,1711.57 188.48,1707.66 195.55,1707.66 202.62,1704.73 209.7,1709.62 216.77,1712.55 223.85,1714.5 230.93,1712.06 238,1715.48 245.07,1714.5 252.15,1714.5 259.22,1713.04 266.3,1720.37 273.38,1726.23 280.45,1730.14 287.53,1726.23 294.6,1725.74 301.67,1726.23 308.75,1725.25 315.82,1727.69 322.9,1731.6 329.98,1736.49 337.05,1737.95 344.12,1741.37 351.2,1743.81 358.28,1746.74 365.35,1749.19 372.43,1749.68 379.5,1751.63 386.57,1752.12 393.65,1752.12 400.73,1756.03 407.8,1755.54" stroke="#ff00ff" stroke-width="2.4"/>
<polyline points="54.05,1772.63 61.12,1776.05 68.2,1772.63 75.27,1757.98 82.35,1740.39 89.42,1730.14 96.5,1727.69 103.58,1740.39 110.65,1756.03 117.72,1750.16 124.8,1741.37 131.88,1735.02 138.95,1726.23 146.03,1724.76 153.1,1725.74 160.18,1723.79 167.25,1722.81 174.32,1726.23 181.4,1723.3 188.48,1725.74 195.55,1721.34 202.62,1722.81 209.7,1723.79 216.77,1726.23 223.85,1722.81 230.93,1724.76 238,1720.37 245.07,1721.34 252.15,1723.79 259.22,1718.9 266.3,1720.37 273.38,1720.37 280.45,1720.85 287.53,1722.32 294.6,1723.79 301.67,1725.74 308.75,1726.23 315.82,1729.65 322.9,1733.07 329.98,1732.09 337.05,1735.02 344.12,1738.44 351.2,1740.39 358.28,1738.44 365.35,1737.46 372.43,1738.93 379.5,1740.88 386.57,1740.39 393.65,1739.91 400.73,1741.37 407.8,1738.93" stroke="#ff7f0e" stroke-width="2.4"/>
<polyline points="54.05,1766.77 61.12,1782.4 68.2,1774.1 75.27,1746.74 82.35,1723.79 89.42,1706.2 96.5,1728.18 103.58,1746.26 110.65,1769.7 117.72,1752.12 124.8,1725.74 131.88,1712.06 138.95,1708.64 146.03,1703.76 153.1,1706.2 160.18,1706.2 167.25,1712.55 174.32,1722.81 181.4,1723.3 188.48,1719.88 195.55,1727.69 202.62,1732.09 209.7,1730.14 216.77,1736 223.85,1740.39 230.93,1748.21 238,1737.95 245.07,1727.2 252.15,1728.18 259.22,1729.16 266.3,1745.28 273.38,1761.4 280.45,1765.31 287.53,1758.96 294.6,1754.07 301.67,1747.72 308.75,1740.88 315.82,1744.3 322.9,1747.23 329.98,1750.65 337.05,1752.61 344.12,1755.54 351.2,1758.47 358.28,1760.42 365.35,1759.93 372.43,1762.87 379.5,1763.84 386.57,1764.82 393.65,1765.31 400.73,1765.31 407.8,1765.31" stroke="#000" stroke-width="1.1"/>
<path d="M54.05 1763.17L54.87 1765.64L57.47 1765.66L55.38 1767.21L56.17 1769.69L54.05 1768.17L51.93 1769.69L52.72 1767.21L50.63 1765.66L53.23 1765.64ZM61.12 1778.81L61.95 1781.27L64.55 1781.29L62.46 1782.84L63.24 1785.32L61.12 1783.81L59.01 1785.32L59.79 1782.84L57.7 1781.29L60.3 1781.27ZM68.2 1770.5L69.02 1772.97L71.62 1772.99L69.53 1774.53L70.32 1777.01L68.2 1775.5L66.08 1777.01L66.87 1774.53L64.78 1772.99L67.38 1772.97ZM75.27 1743.14L76.1 1745.61L78.7 1745.63L76.61 1747.18L77.39 1749.66L75.27 1748.14L73.16 1749.66L73.94 1747.18L71.85 1745.63L74.45 1745.61ZM82.35 1720.19L83.17 1722.65L85.77 1722.67L83.68 1724.22L84.47 1726.7L82.35 1725.19L80.23 1726.7L81.02 1724.22L78.93 1722.67L81.53 1722.65ZM89.42 1702.6L90.25 1705.07L92.85 1705.09L90.76 1706.63L91.54 1709.11L89.42 1707.6L87.31 1709.11L88.09 1706.63L86 1705.09L88.6 1705.07ZM96.5 1724.58L97.32 1727.05L99.92 1727.07L97.83 1728.61L98.62 1731.09L96.5 1729.58L94.38 1731.09L95.17 1728.61L93.08 1727.07L95.68 1727.05ZM103.58 1742.66L104.4 1745.12L107 1745.14L104.91 1746.69L105.69 1749.17L103.58 1747.66L101.46 1749.17L102.24 1746.69L100.15 1745.14L102.75 1745.12ZM110.65 1766.1L111.47 1768.57L114.07 1768.59L111.98 1770.14L112.77 1772.62L110.65 1771.1L108.53 1772.62L109.32 1770.14L107.23 1768.59L109.83 1768.57ZM117.72 1748.52L118.55 1750.99L121.15 1751.01L119.06 1752.55L119.84 1755.03L117.72 1753.52L115.61 1755.03L116.39 1752.55L114.3 1751.01L116.9 1750.99ZM124.8 1722.14L125.62 1724.61L128.22 1724.63L126.13 1726.17L126.92 1728.65L124.8 1727.14L122.68 1728.65L123.47 1726.17L121.38 1724.63L123.98 1724.61ZM131.88 1708.46L132.7 1710.93L135.3 1710.95L133.21 1712.49L133.99 1714.97L131.88 1713.46L129.76 1714.97L130.54 1712.49L128.45 1710.95L131.05 1710.93ZM138.95 1705.04L139.77 1707.51L142.37 1707.53L140.28 1709.07L141.07 1711.55L138.95 1710.04L136.83 1711.55L137.62 1709.07L135.53 1707.53L138.13 1707.51ZM146.03 1700.16L146.85 1702.62L149.45 1702.64L147.36 1704.19L148.14 1706.67L146.03 1705.16L143.91 1706.67L144.69 1704.19L142.6 1702.64L145.2 1702.62ZM153.1 1702.6L153.92 1705.07L156.52 1705.09L154.43 1706.63L155.22 1709.11L153.1 1707.6L150.98 1709.11L151.77 1706.63L149.68 1705.09L152.28 1705.07ZM160.18 1702.6L161 1705.07L163.6 1705.09L161.51 1706.63L162.29 1709.11L160.18 1707.6L158.06 1709.11L158.84 1706.63L156.75 1705.09L159.35 1705.07ZM167.25 1708.95L168.07 1711.42L170.67 1711.44L168.58 1712.98L169.37 1715.46L167.25 1713.95L165.13 1715.46L165.92 1712.98L163.83 1711.44L166.43 1711.42ZM174.32 1719.21L175.15 1721.68L177.75 1721.7L175.66 1723.24L176.44 1725.72L174.32 1724.21L172.21 1725.72L172.99 1723.24L170.9 1721.7L173.5 1721.68ZM181.4 1719.7L182.22 1722.16L184.82 1722.18L182.73 1723.73L183.52 1726.21L181.4 1724.7L179.28 1726.21L180.07 1723.73L177.98 1722.18L180.58 1722.16ZM188.48 1716.28L189.3 1718.74L191.9 1718.76L189.81 1720.31L190.59 1722.79L188.48 1721.28L186.36 1722.79L187.14 1720.31L185.05 1718.76L187.65 1718.74ZM195.55 1724.09L196.37 1726.56L198.97 1726.58L196.88 1728.13L197.67 1730.61L195.55 1729.09L193.43 1730.61L194.22 1728.13L192.13 1726.58L194.73 1726.56ZM202.62 1728.49L203.45 1730.96L206.05 1730.98L203.96 1732.52L204.74 1735L202.62 1733.49L200.51 1735L201.29 1732.52L199.2 1730.98L201.8 1730.96ZM209.7 1726.54L210.52 1729L213.12 1729.02L211.03 1730.57L211.82 1733.05L209.7 1731.54L207.58 1733.05L208.37 1730.57L206.28 1729.02L208.88 1729ZM216.77 1732.4L217.6 1734.86L220.2 1734.89L218.11 1736.43L218.89 1738.91L216.77 1737.4L214.66 1738.91L215.44 1736.43L213.35 1734.89L215.95 1734.86ZM223.85 1736.79L224.67 1739.26L227.27 1739.28L225.18 1740.83L225.97 1743.31L223.85 1741.79L221.73 1743.31L222.52 1740.83L220.43 1739.28L223.03 1739.26ZM230.93 1744.61L231.75 1747.08L234.35 1747.1L232.26 1748.64L233.04 1751.12L230.93 1749.61L228.81 1751.12L229.59 1748.64L227.5 1747.1L230.1 1747.08ZM238 1734.35L238.82 1736.82L241.42 1736.84L239.33 1738.38L240.12 1740.86L238 1739.35L235.88 1740.86L236.67 1738.38L234.58 1736.84L237.18 1736.82ZM245.07 1723.6L245.9 1726.07L248.5 1726.09L246.41 1727.64L247.19 1730.12L245.07 1728.6L242.96 1730.12L243.74 1727.64L241.65 1726.09L244.25 1726.07ZM252.15 1724.58L252.97 1727.05L255.57 1727.07L253.48 1728.61L254.27 1731.09L252.15 1729.58L250.03 1731.09L250.82 1728.61L248.73 1727.07L251.33 1727.05ZM259.22 1725.56L260.05 1728.03L262.65 1728.05L260.56 1729.59L261.34 1732.07L259.22 1730.56L257.11 1732.07L257.89 1729.59L255.8 1728.05L258.4 1728.03ZM266.3 1741.68L267.12 1744.15L269.72 1744.17L267.63 1745.71L268.42 1748.19L266.3 1746.68L264.18 1748.19L264.97 1745.71L262.88 1744.17L265.48 1744.15ZM273.38 1757.8L274.2 1760.27L276.8 1760.29L274.71 1761.83L275.49 1764.31L273.38 1762.8L271.26 1764.31L272.04 1761.83L269.95 1760.29L272.55 1760.27ZM280.45 1761.71L281.27 1764.17L283.87 1764.2L281.78 1765.74L282.57 1768.22L280.45 1766.71L278.33 1768.22L279.12 1765.74L277.03 1764.2L279.63 1764.17ZM287.53 1755.36L288.35 1757.82L290.95 1757.84L288.86 1759.39L289.64 1761.87L287.53 1760.36L285.41 1761.87L286.19 1759.39L284.1 1757.84L286.7 1757.82ZM294.6 1750.47L295.42 1752.94L298.02 1752.96L295.93 1754.5L296.72 1756.98L294.6 1755.47L292.48 1756.98L293.27 1754.5L291.18 1752.96L293.78 1752.94ZM301.67 1744.12L302.5 1746.59L305.1 1746.61L303.01 1748.15L303.79 1750.63L301.67 1749.12L299.56 1750.63L300.34 1748.15L298.25 1746.61L300.85 1746.59ZM308.75 1737.28L309.57 1739.75L312.17 1739.77L310.08 1741.32L310.87 1743.79L308.75 1742.28L306.63 1743.79L307.42 1741.32L305.33 1739.77L307.93 1739.75ZM315.82 1740.7L316.65 1743.17L319.25 1743.19L317.16 1744.73L317.94 1747.21L315.82 1745.7L313.71 1747.21L314.49 1744.73L312.4 1743.19L315 1743.17ZM322.9 1743.63L323.72 1746.1L326.32 1746.12L324.23 1747.67L325.02 1750.15L322.9 1748.63L320.78 1750.15L321.57 1747.67L319.48 1746.12L322.08 1746.1ZM329.98 1747.05L330.8 1749.52L333.4 1749.54L331.31 1751.09L332.09 1753.56L329.98 1752.05L327.86 1753.56L328.64 1751.09L326.55 1749.54L329.15 1749.52ZM337.05 1749.01L337.87 1751.47L340.47 1751.49L338.38 1753.04L339.17 1755.52L337.05 1754.01L334.93 1755.52L335.72 1753.04L333.63 1751.49L336.23 1751.47ZM344.12 1751.94L344.95 1754.4L347.55 1754.43L345.46 1755.97L346.24 1758.45L344.12 1756.94L342.01 1758.45L342.79 1755.97L340.7 1754.43L343.3 1754.4ZM351.2 1754.87L352.02 1757.34L354.62 1757.36L352.53 1758.9L353.32 1761.38L351.2 1759.87L349.08 1761.38L349.87 1758.9L347.78 1757.36L350.38 1757.34ZM358.28 1756.82L359.1 1759.29L361.7 1759.31L359.61 1760.86L360.39 1763.33L358.28 1761.82L356.16 1763.33L356.94 1760.86L354.85 1759.31L357.45 1759.29ZM365.35 1756.33L366.17 1758.8L368.77 1758.82L366.68 1760.37L367.47 1762.85L365.35 1761.33L363.23 1762.85L364.02 1760.37L361.93 1758.82L364.53 1758.8ZM372.43 1759.27L373.25 1761.73L375.85 1761.75L373.76 1763.3L374.54 1765.78L372.43 1764.27L370.31 1765.78L371.09 1763.3L369 1761.75L371.6 1761.73ZM379.5 1760.24L380.32 1762.71L382.92 1762.73L380.83 1764.27L381.62 1766.75L379.5 1765.24L377.38 1766.75L378.17 1764.27L376.08 1762.73L378.68 1762.71ZM386.57 1761.22L387.4 1763.69L390 1763.71L387.91 1765.25L388.69 1767.73L386.57 1766.22L384.46 1767.73L385.24 1765.25L383.15 1763.71L385.75 1763.69ZM393.65 1761.71L394.47 1764.17L397.07 1764.2L394.98 1765.74L395.77 1768.22L393.65 1766.71L391.53 1768.22L392.32 1765.74L390.23 1764.2L392.83 1764.17ZM400.73 1761.71L401.55 1764.17L404.15 1764.2L402.06 1765.74L402.84 1768.22L400.73 1766.71L398.61 1768.22L399.39 1765.74L397.3 1764.2L399.9 1764.17ZM407.8 1761.71L408.62 1764.17L411.22 1764.2L409.13 1765.74L409.92 1768.22L407.8 1766.71L405.68 1768.22L406.47 1765.74L404.38 1764.2L406.98 1764.17Z" fill="#000" stroke="none"/>
</g>
<text transform="translate(54.05 1896.45) scale(0.977 1)" font-size="23" text-anchor="middle">260</text>
<text transform="translate(124.8 1896.45) scale(0.977 1)" font-size="23" text-anchor="middle">270</text>
<text transform="translate(195.55 1896.45) scale(0.977 1)" font-size="23" text-anchor="middle">280</text>
<text transform="translate(266.3 1896.45) scale(0.977 1)" font-size="23" text-anchor="middle">290</text>
<text transform="translate(337.05 1896.45) scale(0.977 1)" font-size="23" text-anchor="middle">300</text>
<text transform="translate(407.8 1896.45) scale(0.977 1)" font-size="23" text-anchor="middle">310</text>
<text transform="translate(43.75 1629.35) scale(0.977 1)" font-size="23" text-anchor="end">2</text>
<text transform="translate(43.75 1678.2) scale(0.977 1)" font-size="23" text-anchor="end">1</text>
<text transform="translate(43.75 1727.05) scale(0.977 1)" font-size="23" text-anchor="end">0</text>
<text transform="translate(43.75 1775.9) scale(0.977 1)" font-size="23" text-anchor="end">-1</text>
<text transform="translate(43.75 1824.75) scale(0.977 1)" font-size="23" text-anchor="end">-2</text>
<text transform="translate(43.75 1873.6) scale(0.977 1)" font-size="23" text-anchor="end">-3</text>
<text transform="translate(231.53 1921.95) scale(0.929 1)" font-size="23.7" font-weight="bold" text-anchor="middle">Wavelength (nm)</text>
<text transform="translate(19.1 1736.7) rotate(-90) scale(0.98 1)" font-size="23.5" font-weight="bold" text-anchor="middle">mdeg</text>
<text transform="translate(136.39 1612.9) scale(0.9230 1)" font-size="31" font-weight="bold">RBM45 RRM1</text>
<text transform="translate(209 1771) scale(0.955 1)" font-size="15.7">20-70°C</text>
<g>
<rect x="464" y="554.3" width="65.6" height="196.2" fill="#ececf0"/>
<g filter="url(#b3)">
<rect x="473.15" y="559.3" width="17.5" height="188.2" fill="#c3d3f3" opacity="0.5"/>
<rect x="475.15" y="558.3" width="13.5" height="9.7" fill="#b4c8f2" opacity="0.8"/>
<rect x="472.29" y="711.4" width="19.22" height="34.1" fill="#a5c3f0" opacity="0.9"/>
<rect x="474.15" y="680.6" width="15.5" height="28.8" fill="#b8cef2" opacity="0.7"/>
</g>
<g filter="url(#b1)">
<rect x="474.92" y="566.7" width="13.95" height="2.6" rx="1.3" fill="#2f66ee"/>
<rect x="474.92" y="573" width="13.95" height="3.2" rx="1.6" fill="#4a7df0"/>
<rect x="474" y="586.1" width="15.81" height="6" rx="3" fill="#1650ff"/>
<rect x="472.56" y="595.7" width="18.68" height="10.2" rx="4.9" fill="#c03040" opacity="0.45"/>
<rect x="473.76" y="596.9" width="16.28" height="7.8" rx="3.9" fill="#8c0f24"/>
<rect x="474.3" y="613.6" width="15.19" height="7.8" rx="3.9" fill="#0a3cff"/>
<rect x="474.77" y="633.1" width="14.26" height="4.6" rx="2.3" fill="#1857f2"/>
<rect x="474.15" y="650.4" width="15.5" height="5.8" rx="2.9" fill="#1d60ff"/>
<rect x="474.15" y="674.1" width="15.5" height="5" rx="2.5" fill="#2468ff"/>
<rect x="473.38" y="706.7" width="17.05" height="5.4" rx="2.7" fill="#145cff"/>
<rect x="471.82" y="732.6" width="20.15" height="4.8" rx="2.4" fill="#3f8f3a"/>
<rect x="472.6" y="743.9" width="18.6" height="2.6" rx="1.3" fill="#9dc4f5"/>
<rect x="495.3" y="712.5" width="29.2" height="7.6" rx="3.8" fill="#1414ff" opacity="0.35"/>
<rect x="496.8" y="713.8" width="26.2" height="5" rx="2.5" fill="#1414ff"/>
</g>
</g>
<text x="438" y="557.3" font-size="17.5" font-weight="bold">kD</text>
<text x="437" y="662.9" font-size="16.9" font-weight="bold">35</text>
<text x="437" y="686" font-size="16.9" font-weight="bold">25</text>
<text x="437" y="719" font-size="16.9" font-weight="bold">15</text>
<text x="437" y="745.8" font-size="16.9" font-weight="bold">10</text>
<g>
<rect x="1016.4" y="562" width="68.6" height="195.7" fill="#e7e1f3"/>
<g filter="url(#b3)">
<rect x="1025.9" y="567" width="18" height="187.7" fill="#c3d3f3" opacity="0.5"/>
<rect x="1027.9" y="566" width="14" height="14" fill="#b4c8f2" opacity="0.8"/>
<rect x="1024.98" y="718.5" width="19.84" height="34.2" fill="#a5c3f0" opacity="0.9"/>
<rect x="1026.9" y="689" width="16" height="27.5" fill="#b8cef2" opacity="0.7"/>
</g>
<g filter="url(#b1)">
<rect x="1027.7" y="578.7" width="14.4" height="2.6" rx="1.3" fill="#2a5cf0"/>
<rect x="1027.7" y="584.7" width="14.4" height="3.2" rx="1.6" fill="#3f70f0"/>
<rect x="1026.74" y="596.6" width="16.32" height="6" rx="3" fill="#1040ff"/>
<rect x="1025.3" y="605.9" width="19.2" height="10.2" rx="4.9" fill="#c03040" opacity="0.45"/>
<rect x="1026.5" y="607.1" width="16.8" height="7.8" rx="3.9" fill="#3a0622"/>
<rect x="1027.06" y="622.9" width="15.68" height="7.8" rx="3.9" fill="#0828ff"/>
<rect x="1027.54" y="642.7" width="14.72" height="4.6" rx="2.3" fill="#1040f5"/>
<rect x="1026.9" y="659.4" width="16" height="5.8" rx="2.9" fill="#1448ff"/>
<rect x="1026.9" y="682.5" width="16" height="5" rx="2.5" fill="#1850ff"/>
<rect x="1026.1" y="713.8" width="17.6" height="5.4" rx="2.7" fill="#1048ff"/>
<rect x="1024.5" y="737.4" width="20.8" height="4.8" rx="2.4" fill="#12757a"/>
<rect x="1025.3" y="748.7" width="19.2" height="2.6" rx="1.3" fill="#9dc4f5"/>
<rect x="1050.5" y="715.7" width="28.8" height="8.6" rx="4.3" fill="#1414ff" opacity="0.35"/>
<rect x="1052" y="717" width="25.8" height="6" rx="3" fill="#1414ff"/>
</g>
</g>
<text x="990.3" y="560.3" font-size="17.5" font-weight="bold">kD</text>
<text x="989.3" y="667" font-size="16.9" font-weight="bold">35</text>
<text x="989.3" y="689" font-size="16.9" font-weight="bold">25</text>
<text x="989.3" y="722.5" font-size="16.9" font-weight="bold">15</text>
<text x="989.3" y="749.4" font-size="16.9" font-weight="bold">10</text>
<g>
<rect x="1564.2" y="564.4" width="68.1" height="192.7" fill="#ededf2"/>
<g filter="url(#b3)">
<rect x="1571.6" y="569.4" width="17" height="184.7" fill="#c3d3f3" opacity="0.5"/>
<rect x="1573.6" y="568.4" width="13" height="9.2" fill="#b4c8f2" opacity="0.8"/>
<rect x="1570.8" y="719.1" width="18.6" height="33" fill="#a5c3f0" opacity="0.9"/>
<rect x="1572.6" y="688.9" width="15" height="28.2" fill="#b8cef2" opacity="0.7"/>
</g>
<g filter="url(#b1)">
<rect x="1573.35" y="576.3" width="13.5" height="2.6" rx="1.3" fill="#2f66ee"/>
<rect x="1573.35" y="582.8" width="13.5" height="3.2" rx="1.6" fill="#4a7df0"/>
<rect x="1572.45" y="595.4" width="15.3" height="6" rx="3" fill="#1650ff"/>
<rect x="1571.02" y="604.1" width="18.15" height="10.2" rx="4.9" fill="#c03040" opacity="0.45"/>
<rect x="1572.22" y="605.3" width="15.75" height="7.8" rx="3.9" fill="#8c0f24"/>
<rect x="1572.75" y="621.4" width="14.7" height="7.8" rx="3.9" fill="#0a3cff"/>
<rect x="1573.2" y="642.1" width="13.8" height="4.6" rx="2.3" fill="#1857f2"/>
<rect x="1572.6" y="659.3" width="15" height="5.8" rx="2.9" fill="#1d60ff"/>
<rect x="1572.6" y="682.4" width="15" height="5" rx="2.5" fill="#2468ff"/>
<rect x="1571.85" y="714.4" width="16.5" height="5.4" rx="2.7" fill="#145cff"/>
<rect x="1570.35" y="739.7" width="19.5" height="4.8" rx="2.4" fill="#3f8f3a"/>
<rect x="1571.1" y="750.4" width="18" height="2.6" rx="1.3" fill="#9dc4f5"/>
<rect x="1596.5" y="723.9" width="32.2" height="7.8" rx="3.9" fill="#1414ff" opacity="0.35"/>
<rect x="1598" y="725.2" width="29.2" height="5.2" rx="2.6" fill="#1414ff"/>
</g>
</g>
<text x="1541" y="562.7" font-size="17.5" font-weight="bold">kD</text>
<text x="1540.3" y="669.4" font-size="16.9" font-weight="bold">35</text>
<text x="1540.3" y="691.7" font-size="16.9" font-weight="bold">25</text>
<text x="1540.3" y="724.9" font-size="16.9" font-weight="bold">15</text>
<text x="1540.3" y="752.3" font-size="16.9" font-weight="bold">10</text>
<g>
<rect x="459.2" y="921.2" width="68.6" height="192.3" fill="#ececf0"/>
<g filter="url(#b3)">
<rect x="467.75" y="926.2" width="17.5" height="184.3" fill="#c3d3f3" opacity="0.5"/>
<rect x="469.75" y="925.2" width="13.5" height="8.6" fill="#b4c8f2" opacity="0.8"/>
<rect x="466.89" y="1076.8" width="19.22" height="31.7" fill="#a5c3f0" opacity="0.9"/>
<rect x="468.75" y="1045.7" width="15.5" height="29.1" fill="#b8cef2" opacity="0.7"/>
</g>
<g filter="url(#b1)">
<rect x="469.52" y="932.5" width="13.95" height="2.6" rx="1.3" fill="#2f66ee"/>
<rect x="469.52" y="939" width="13.95" height="3.2" rx="1.6" fill="#4a7df0"/>
<rect x="468.6" y="951.5" width="15.81" height="6" rx="3" fill="#1650ff"/>
<rect x="467.16" y="959.9" width="18.68" height="10.2" rx="4.9" fill="#c03040" opacity="0.45"/>
<rect x="468.36" y="961.1" width="16.28" height="7.8" rx="3.9" fill="#8c0f24"/>
<rect x="468.9" y="977.8" width="15.19" height="7.8" rx="3.9" fill="#0a3cff"/>
<rect x="469.37" y="998.3" width="14.26" height="4.6" rx="2.3" fill="#1857f2"/>
<rect x="468.75" y="1015.8" width="15.5" height="5.8" rx="2.9" fill="#1d60ff"/>
<rect x="468.75" y="1039.2" width="15.5" height="5" rx="2.5" fill="#2468ff"/>
<rect x="467.98" y="1072.1" width="17.05" height="5.4" rx="2.7" fill="#145cff"/>
<rect x="466.43" y="1097.4" width="20.15" height="4.8" rx="2.4" fill="#3f8f3a"/>
<rect x="467.2" y="1108.4" width="18.6" height="2.6" rx="1.3" fill="#9dc4f5"/>
<rect x="491.5" y="1090.2" width="31" height="6.6" rx="3.3" fill="#3838ff" opacity="0.35"/>
<rect x="493" y="1091.5" width="28" height="4" rx="2" fill="#3838ff"/>
</g>
</g>
<text x="436.5" y="919.1" font-size="17.5" font-weight="bold">kD</text>
<text x="435.6" y="1025.3" font-size="16.9" font-weight="bold">35</text>
<text x="435.6" y="1047.7" font-size="16.9" font-weight="bold">25</text>
<text x="435.6" y="1081.1" font-size="16.9" font-weight="bold">15</text>
<text x="435.6" y="1108.2" font-size="16.9" font-weight="bold">10</text>
<g>
<rect x="1012" y="907.9" width="68" height="192.6" fill="#e6e2f3"/>
<g filter="url(#b3)">
<rect x="1024.1" y="912.9" width="17" height="184.6" fill="#c3d3f3" opacity="0.5"/>
<rect x="1026.1" y="911.9" width="13" height="10.5" fill="#b4c8f2" opacity="0.8"/>
<rect x="1023.3" y="1068.5" width="18.6" height="27" fill="#a5c3f0" opacity="0.9"/>
<rect x="1025.1" y="1036.6" width="15" height="29.9" fill="#b8cef2" opacity="0.7"/>
</g>
<g filter="url(#b1)">
<rect x="1025.85" y="921.1" width="13.5" height="2.6" rx="1.3" fill="#2a5cf0"/>
<rect x="1025.85" y="927.5" width="13.5" height="3.2" rx="1.6" fill="#3f70f0"/>
<rect x="1024.95" y="940.7" width="15.3" height="6" rx="3" fill="#1040ff"/>
<rect x="1023.52" y="949.9" width="18.15" height="10.2" rx="4.9" fill="#c03040" opacity="0.45"/>
<rect x="1024.72" y="951.1" width="15.75" height="7.8" rx="3.9" fill="#3a0622"/>
<rect x="1025.25" y="967.8" width="14.7" height="7.8" rx="3.9" fill="#0828ff"/>
<rect x="1025.7" y="988.5" width="13.8" height="4.6" rx="2.3" fill="#1040f5"/>
<rect x="1025.1" y="1006.1" width="15" height="5.8" rx="2.9" fill="#1448ff"/>
<rect x="1025.1" y="1030.1" width="15" height="5" rx="2.5" fill="#1850ff"/>
<rect x="1024.35" y="1063.8" width="16.5" height="5.4" rx="2.7" fill="#1048ff"/>
<rect x="1022.85" y="1088.6" width="19.5" height="4.8" rx="2.4" fill="#12757a"/>
<rect x="1023.6" y="1098.4" width="18" height="2.6" rx="1.3" fill="#9dc4f5"/>
<rect x="1048.1" y="1074.1" width="29.8" height="6.8" rx="3.4" fill="#3a22ff" opacity="0.35"/>
<rect x="1049.6" y="1075.4" width="26.8" height="4.2" rx="2.1" fill="#3a22ff"/>
</g>
</g>
<text x="989" y="911.2" font-size="17.5" font-weight="bold">kD</text>
<text x="988" y="1017.4" font-size="16.9" font-weight="bold">35</text>
<text x="988" y="1040" font-size="16.9" font-weight="bold">25</text>
<text x="988" y="1072.8" font-size="16.9" font-weight="bold">15</text>
<text x="988" y="1100" font-size="16.9" font-weight="bold">10</text>
<g>
<rect x="1569.7" y="917.1" width="69.3" height="195.5" fill="#e8e2f3"/>
<g filter="url(#b3)">
<rect x="1581.35" y="922.1" width="16.5" height="187.5" fill="#c3d3f3" opacity="0.5"/>
<rect x="1583.35" y="921.1" width="12.5" height="12.1" fill="#b4c8f2" opacity="0.8"/>
<rect x="1580.61" y="1077.7" width="17.98" height="29.9" fill="#a5c3f0" opacity="0.9"/>
<rect x="1582.35" y="1046.3" width="14.5" height="29.4" fill="#b8cef2" opacity="0.7"/>
</g>
<g filter="url(#b1)">
<rect x="1583.07" y="931.9" width="13.05" height="2.6" rx="1.3" fill="#2a5cf0"/>
<rect x="1583.07" y="938.1" width="13.05" height="3.2" rx="1.6" fill="#3f70f0"/>
<rect x="1582.2" y="950.7" width="14.79" height="6" rx="3" fill="#1040ff"/>
<rect x="1580.79" y="959.7" width="17.62" height="10.2" rx="4.9" fill="#c03040" opacity="0.45"/>
<rect x="1581.99" y="960.9" width="15.23" height="7.8" rx="3.9" fill="#3a0622"/>
<rect x="1582.49" y="977.6" width="14.21" height="7.8" rx="3.9" fill="#0828ff"/>
<rect x="1582.93" y="998.2" width="13.34" height="4.6" rx="2.3" fill="#1040f5"/>
<rect x="1582.35" y="1016.1" width="14.5" height="5.8" rx="2.9" fill="#1448ff"/>
<rect x="1582.35" y="1039.8" width="14.5" height="5" rx="2.5" fill="#1850ff"/>
<rect x="1581.62" y="1073" width="15.95" height="5.4" rx="2.7" fill="#1048ff"/>
<rect x="1580.17" y="1097.7" width="18.85" height="4.8" rx="2.4" fill="#12757a"/>
<rect x="1580.9" y="1107.2" width="17.4" height="2.6" rx="1.3" fill="#9dc4f5"/>
<rect x="1605.4" y="1084.6" width="27.5" height="8.4" rx="4.2" fill="#1414ff" opacity="0.35"/>
<rect x="1606.9" y="1085.9" width="24.5" height="5.8" rx="2.9" fill="#1414ff"/>
</g>
</g>
<text x="1543.6" y="920.3" font-size="17.5" font-weight="bold">kD</text>
<text x="1542.4" y="1026.2" font-size="16.9" font-weight="bold">35</text>
<text x="1542.4" y="1048.8" font-size="16.9" font-weight="bold">25</text>
<text x="1542.4" y="1082" font-size="16.9" font-weight="bold">15</text>
<text x="1542.4" y="1109" font-size="16.9" font-weight="bold">10</text>
<g>
<rect x="464.4" y="1281.2" width="68.6" height="192.9" fill="#ebebf0"/>
<g filter="url(#b3)">
<rect x="473.55" y="1286.2" width="17.5" height="184.9" fill="#c3d3f3" opacity="0.5"/>
<rect x="475.55" y="1285.2" width="13.5" height="8.2" fill="#b4c8f2" opacity="0.8"/>
<rect x="472.69" y="1438" width="19.22" height="31.1" fill="#a5c3f0" opacity="0.9"/>
<rect x="474.55" y="1406.5" width="15.5" height="29.5" fill="#b8cef2" opacity="0.7"/>
</g>
<g filter="url(#b1)">
<rect x="475.32" y="1292.1" width="13.95" height="2.6" rx="1.3" fill="#2f66ee"/>
<rect x="475.32" y="1298.7" width="13.95" height="3.2" rx="1.6" fill="#4a7df0"/>
<rect x="474.4" y="1311.9" width="15.81" height="6" rx="3" fill="#1650ff"/>
<rect x="472.96" y="1320.5" width="18.68" height="10.2" rx="4.9" fill="#c03040" opacity="0.45"/>
<rect x="474.16" y="1321.7" width="16.28" height="7.8" rx="3.9" fill="#8c0f24"/>
<rect x="474.7" y="1338.4" width="15.19" height="7.8" rx="3.9" fill="#0a3cff"/>
<rect x="475.17" y="1359.1" width="14.26" height="4.6" rx="2.3" fill="#1857f2"/>
<rect x="474.55" y="1376.7" width="15.5" height="5.8" rx="2.9" fill="#1d60ff"/>
<rect x="474.55" y="1400" width="15.5" height="5" rx="2.5" fill="#2468ff"/>
<rect x="473.78" y="1433.3" width="17.05" height="5.4" rx="2.7" fill="#145cff"/>
<rect x="472.23" y="1459.2" width="20.15" height="4.8" rx="2.4" fill="#3f8f3a"/>
<rect x="473" y="1470.4" width="18.6" height="2.6" rx="1.3" fill="#9dc4f5"/>
<rect x="496.9" y="1443.8" width="32.2" height="7.4" rx="3.7" fill="#1414ff" opacity="0.35"/>
<rect x="498.4" y="1445.1" width="29.2" height="4.8" rx="2.4" fill="#1414ff"/>
</g>
</g>
<text x="437.8" y="1279.1" font-size="17.5" font-weight="bold">kD</text>
<text x="437.2" y="1385.9" font-size="16.9" font-weight="bold">35</text>
<text x="437.2" y="1407.9" font-size="16.9" font-weight="bold">25</text>
<text x="437.2" y="1441.1" font-size="16.9" font-weight="bold">15</text>
<text x="437.2" y="1468.2" font-size="16.9" font-weight="bold">10</text>
<g>
<rect x="1012.6" y="1277.7" width="68" height="195.6" fill="#e4e0f4"/>
<g filter="url(#b3)">
<rect x="1020.7" y="1282.7" width="16" height="187.6" fill="#c3d3f3" opacity="0.5"/>
<rect x="1022.7" y="1281.7" width="12" height="14.8" fill="#b4c8f2" opacity="0.8"/>
<rect x="1020.02" y="1438.3" width="17.36" height="30" fill="#a5c3f0" opacity="0.9"/>
<rect x="1021.7" y="1407.5" width="14" height="28.8" fill="#b8cef2" opacity="0.7"/>
</g>
<g filter="url(#b1)">
<rect x="1022.4" y="1295.2" width="12.6" height="2.6" rx="1.3" fill="#2a5cf0"/>
<rect x="1022.4" y="1301.1" width="12.6" height="3.2" rx="1.6" fill="#3f70f0"/>
<rect x="1021.56" y="1313.8" width="14.28" height="6" rx="3" fill="#1040ff"/>
<rect x="1020.15" y="1322.1" width="17.1" height="10.2" rx="4.9" fill="#c03040" opacity="0.45"/>
<rect x="1021.35" y="1323.3" width="14.7" height="7.8" rx="3.9" fill="#3a0622"/>
<rect x="1021.84" y="1340.6" width="13.72" height="7.8" rx="3.9" fill="#0828ff"/>
<rect x="1022.26" y="1360.7" width="12.88" height="4.6" rx="2.3" fill="#1040f5"/>
<rect x="1021.7" y="1378" width="14" height="5.8" rx="2.9" fill="#1448ff"/>
<rect x="1021.7" y="1401" width="14" height="5" rx="2.5" fill="#1850ff"/>
<rect x="1021" y="1433.6" width="15.4" height="5.4" rx="2.7" fill="#1048ff"/>
<rect x="1019.6" y="1457.5" width="18.2" height="4.8" rx="2.4" fill="#12757a"/>
<rect x="1020.3" y="1467.8" width="16.8" height="2.6" rx="1.3" fill="#9dc4f5"/>
<rect x="1045.1" y="1442.2" width="30.4" height="7.4" rx="3.7" fill="#1838ff" opacity="0.35"/>
<rect x="1046.6" y="1443.5" width="27.4" height="4.8" rx="2.4" fill="#1838ff"/>
</g>
</g>
<text x="990.8" y="1280.6" font-size="17.5" font-weight="bold">kD</text>
<text x="989.6" y="1387.2" font-size="16.9" font-weight="bold">35</text>
<text x="989.6" y="1409.5" font-size="16.9" font-weight="bold">25</text>
<text x="989.6" y="1442.9" font-size="16.9" font-weight="bold">15</text>
<text x="989.6" y="1469.5" font-size="16.9" font-weight="bold">10</text>
<g>
<rect x="1567.2" y="1275.5" width="68" height="195.1" fill="#e6e6f2"/>
<g filter="url(#b3)">
<rect x="1578.65" y="1280.5" width="19.5" height="187.1" fill="#cfdcf3" opacity="0.5"/>
<rect x="1580.65" y="1279.5" width="15.5" height="15.1" fill="#b4c8f2" opacity="0.8"/>
<rect x="1577.55" y="1430.2" width="21.7" height="35.4" fill="#a5c3f0" opacity="0.9"/>
<rect x="1579.65" y="1400.3" width="17.5" height="27.9" fill="#b8cef2" opacity="0.7"/>
</g>
<g filter="url(#b1)">
<rect x="1580.53" y="1293.3" width="15.75" height="2.6" rx="1.3" fill="#3a72ee"/>
<rect x="1580.53" y="1299" width="15.75" height="3.2" rx="1.6" fill="#5a8af0"/>
<rect x="1579.48" y="1310.7" width="17.85" height="6" rx="3" fill="#3270f5"/>
<rect x="1578.01" y="1318.9" width="20.77" height="10.2" rx="4.9" fill="#f07040" opacity="0.45"/>
<rect x="1579.21" y="1320.1" width="18.38" height="7.8" rx="3.9" fill="#d8401a"/>
<rect x="1579.83" y="1336.1" width="17.15" height="7.8" rx="3.9" fill="#2565f5"/>
<rect x="1580.35" y="1355" width="16.1" height="4.6" rx="2.3" fill="#2a70f2"/>
<rect x="1579.65" y="1371.4" width="17.5" height="5.8" rx="2.9" fill="#2d72f5"/>
<rect x="1579.65" y="1393.8" width="17.5" height="5" rx="2.5" fill="#3078f5"/>
<rect x="1578.78" y="1425.5" width="19.25" height="5.4" rx="2.7" fill="#1c6cf8"/>
<rect x="1577.03" y="1449.1" width="22.75" height="4.8" rx="2.4" fill="#6aae3a"/>
<rect x="1597.1" y="1437" width="35.8" height="6.4" rx="3.2" fill="#2424ff" opacity="0.35"/>
<rect x="1598.6" y="1438.3" width="32.8" height="3.8" rx="1.9" fill="#2424ff"/>
</g>
</g>
<text x="1541.6" y="1272.9" font-size="17.5" font-weight="bold">kD</text>
<text x="1540.3" y="1379" font-size="16.9" font-weight="bold">35</text>
<text x="1540.3" y="1401.7" font-size="16.9" font-weight="bold">25</text>
<text x="1540.3" y="1435" font-size="16.9" font-weight="bold">15</text>
<text x="1540.3" y="1462.5" font-size="16.9" font-weight="bold">10</text>
<g>
<rect x="465.6" y="1644.5" width="68" height="195" fill="#e6e6f2"/>
<g filter="url(#b3)">
<rect x="474.6" y="1649.5" width="20" height="187" fill="#cfdcf3" opacity="0.5"/>
<rect x="476.6" y="1648.5" width="16" height="12.7" fill="#b4c8f2" opacity="0.8"/>
<rect x="473.44" y="1799.7" width="22.32" height="34.8" fill="#a5c3f0" opacity="0.9"/>
<rect x="475.6" y="1768.3" width="18" height="29.4" fill="#b8cef2" opacity="0.7"/>
</g>
<g filter="url(#b1)">
<rect x="476.5" y="1659.9" width="16.2" height="2.6" rx="1.3" fill="#3a72ee"/>
<rect x="476.5" y="1665.8" width="16.2" height="3.2" rx="1.6" fill="#5a8af0"/>
<rect x="475.42" y="1677.6" width="18.36" height="6" rx="3" fill="#3270f5"/>
<rect x="473.95" y="1685.5" width="21.3" height="10.2" rx="4.9" fill="#f07040" opacity="0.45"/>
<rect x="475.15" y="1686.7" width="18.9" height="7.8" rx="3.9" fill="#d8401a"/>
<rect x="475.78" y="1702.9" width="17.64" height="7.8" rx="3.9" fill="#2565f5"/>
<rect x="476.32" y="1722.4" width="16.56" height="4.6" rx="2.3" fill="#2a70f2"/>
<rect x="475.6" y="1739.4" width="18" height="5.8" rx="2.9" fill="#2d72f5"/>
<rect x="475.6" y="1761.8" width="18" height="5" rx="2.5" fill="#3078f5"/>
<rect x="474.7" y="1795" width="19.8" height="5.4" rx="2.7" fill="#1c6cf8"/>
<rect x="472.9" y="1819.2" width="23.4" height="4.8" rx="2.4" fill="#6aae3a"/>
<rect x="496.3" y="1794.5" width="35.2" height="7.6" rx="3.8" fill="#9c9cf6" opacity="0.35"/>
<rect x="497.8" y="1795.8" width="32.2" height="5" rx="2.5" fill="#9c9cf6"/>
<rect x="502" y="1806.05" width="26" height="2.5" rx="1.25" fill="#c4c4f5"/>
</g>
</g>
<text x="437.8" y="1642.7" font-size="17.5" font-weight="bold">kD</text>
<text x="437.2" y="1748.8" font-size="16.9" font-weight="bold">35</text>
<text x="437.2" y="1771.3" font-size="16.9" font-weight="bold">25</text>
<text x="437.2" y="1804.7" font-size="16.9" font-weight="bold">15</text>
<text x="437.2" y="1831.7" font-size="16.9" font-weight="bold">10</text>
<line x1="655.7" y1="1628" x2="692.8" y2="1628" stroke="#0000ff" stroke-width="5.5" stroke-linecap="round"/>
<text transform="translate(713.82 1638) scale(0.9832 1)" font-size="30" fill="#0000ff">20°C</text>
<line x1="847.7" y1="1628" x2="884.8" y2="1628" stroke="#996633" stroke-width="5.5" stroke-linecap="round"/>
<text transform="translate(906.59 1638) scale(0.9715 1)" font-size="30" fill="#996633">30°C</text>
<line x1="1022.2" y1="1628" x2="1059.3" y2="1628" stroke="#00ffff" stroke-width="5.5" stroke-linecap="round"/>
<text transform="translate(1081.33 1638) scale(0.9663 1)" font-size="30" fill="#00ffff">40°C</text>
<line x1="1211.7" y1="1628" x2="1249.3" y2="1628" stroke="#00ff00" stroke-width="5.5" stroke-linecap="round"/>
<text transform="translate(1270.13 1638) scale(0.9770 1)" font-size="30" fill="#00ff00">50°C</text>
<line x1="1380.7" y1="1628" x2="1418.3" y2="1628" stroke="#ff00ff" stroke-width="5.5" stroke-linecap="round"/>
<text transform="translate(1439.72 1638) scale(0.9726 1)" font-size="30" fill="#ff00ff">60°C</text>
<line x1="655.7" y1="1671.7" x2="692.8" y2="1671.7" stroke="#ff7f0e" stroke-width="5.5" stroke-linecap="round"/>
<text transform="translate(715.32 1681) scale(0.9604 1)" font-size="30" fill="#ff7f0e">70°C</text>
<line x1="847.7" y1="1671.7" x2="884.8" y2="1671.7" stroke="#800080" stroke-width="5.5" stroke-linecap="round"/>
<text transform="translate(906.43 1681) scale(0.9739 1)" font-size="30" fill="#800080">80°C</text>
<line x1="1022.2" y1="1671.7" x2="1059.3" y2="1671.7" stroke="#ff0000" stroke-width="5.5" stroke-linecap="round"/>
<text transform="translate(1079.63 1681) scale(0.9770 1)" font-size="30" fill="#ff0000">90°C</text>
<line x1="1202.5" y1="1671.7" x2="1240" y2="1671.7" stroke="#000" stroke-width="5" stroke-linecap="round"/>
<path d="M1221 1657.5L1224.41 1667.81L1235.27 1667.86L1226.52 1674.29L1229.82 1684.64L1221 1678.3L1212.18 1684.64L1215.48 1674.29L1206.73 1667.86L1217.59 1667.81Z" fill="#000"/>
<text transform="translate(1261.37 1681) scale(0.9625 1)" font-size="30" font-weight="bold">Re-cooled 20°C</text>
</svg>
</body></html>
